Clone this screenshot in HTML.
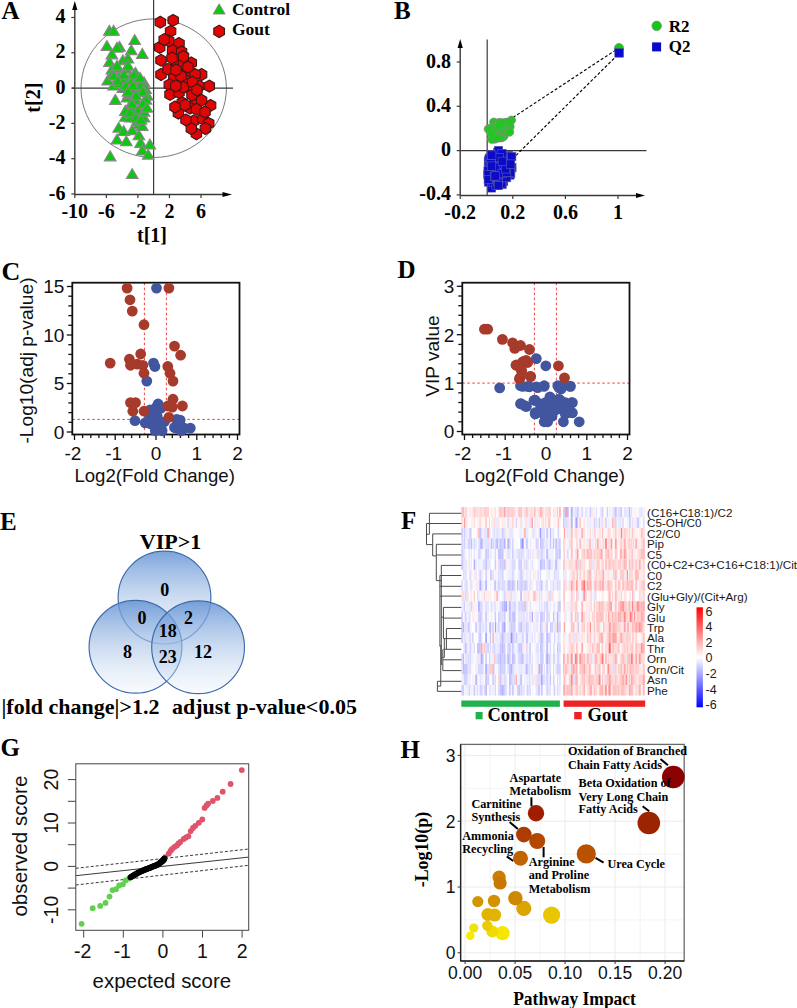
<!DOCTYPE html>
<html><head><meta charset="utf-8"><style>
html,body{margin:0;padding:0;background:#fff;}
svg{display:block;}
</style></head><body>
<svg width="797" height="1008" viewBox="0 0 797 1008">
<rect width="797" height="1008" fill="#fff"/>
<text x="1.50" y="18.60" font-family='"Liberation Serif", serif' font-size="25" font-weight="bold" text-anchor="start" fill="#000" >A</text>
<ellipse cx="153.7" cy="88.2" rx="72.7" ry="69.3" fill="none" stroke="#7a7a7a" stroke-width="1"/>
<line x1="74.8" y1="8" x2="74.8" y2="194.5" stroke="#3a3a3a" stroke-width="1.4"/>
<polygon points="72.2,10 77.39999999999999,10 74.8,1" fill="#000"/>
<line x1="74.8" y1="194.5" x2="225" y2="194.5" stroke="#3a3a3a" stroke-width="1.4"/>
<polygon points="222.5,191.9 222.5,197.1 232,194.5" fill="#000"/>
<line x1="153.6" y1="0" x2="153.6" y2="194.5" stroke="#3a3a3a" stroke-width="1.2"/>
<line x1="72" y1="88.2" x2="233" y2="88.2" stroke="#3a3a3a" stroke-width="1.2"/>
<line x1="71.3" y1="17.5" x2="74.8" y2="17.5" stroke="#3a3a3a" stroke-width="1.2"/>
<text x="65.50" y="23.00" font-family='"Liberation Serif", serif' font-size="20" font-weight="bold" text-anchor="end" fill="#000" >4</text>
<line x1="71.3" y1="52.8" x2="74.8" y2="52.8" stroke="#3a3a3a" stroke-width="1.2"/>
<text x="65.50" y="58.30" font-family='"Liberation Serif", serif' font-size="20" font-weight="bold" text-anchor="end" fill="#000" >2</text>
<line x1="71.3" y1="88.1" x2="74.8" y2="88.1" stroke="#3a3a3a" stroke-width="1.2"/>
<text x="65.50" y="93.60" font-family='"Liberation Serif", serif' font-size="20" font-weight="bold" text-anchor="end" fill="#000" >0</text>
<line x1="71.3" y1="123.39999999999999" x2="74.8" y2="123.39999999999999" stroke="#3a3a3a" stroke-width="1.2"/>
<text x="65.50" y="128.90" font-family='"Liberation Serif", serif' font-size="20" font-weight="bold" text-anchor="end" fill="#000" >-2</text>
<line x1="71.3" y1="158.7" x2="74.8" y2="158.7" stroke="#3a3a3a" stroke-width="1.2"/>
<text x="65.50" y="164.20" font-family='"Liberation Serif", serif' font-size="20" font-weight="bold" text-anchor="end" fill="#000" >-4</text>
<line x1="71.3" y1="194.0" x2="74.8" y2="194.0" stroke="#3a3a3a" stroke-width="1.2"/>
<text x="65.50" y="199.50" font-family='"Liberation Serif", serif' font-size="20" font-weight="bold" text-anchor="end" fill="#000" >-6</text>
<line x1="74.8" y1="194.5" x2="74.8" y2="198.0" stroke="#3a3a3a" stroke-width="1.2"/>
<text x="74.80" y="217.50" font-family='"Liberation Serif", serif' font-size="20" font-weight="bold" text-anchor="middle" fill="#000" >-10</text>
<line x1="106.35" y1="194.5" x2="106.35" y2="198.0" stroke="#3a3a3a" stroke-width="1.2"/>
<text x="106.35" y="217.50" font-family='"Liberation Serif", serif' font-size="20" font-weight="bold" text-anchor="middle" fill="#000" >-6</text>
<line x1="137.9" y1="194.5" x2="137.9" y2="198.0" stroke="#3a3a3a" stroke-width="1.2"/>
<text x="137.90" y="217.50" font-family='"Liberation Serif", serif' font-size="20" font-weight="bold" text-anchor="middle" fill="#000" >-2</text>
<line x1="169.45" y1="194.5" x2="169.45" y2="198.0" stroke="#3a3a3a" stroke-width="1.2"/>
<text x="169.45" y="217.50" font-family='"Liberation Serif", serif' font-size="20" font-weight="bold" text-anchor="middle" fill="#000" >2</text>
<line x1="201.0" y1="194.5" x2="201.0" y2="198.0" stroke="#3a3a3a" stroke-width="1.2"/>
<text x="201.00" y="217.50" font-family='"Liberation Serif", serif' font-size="20" font-weight="bold" text-anchor="middle" fill="#000" >6</text>
<text x="152.00" y="242.00" font-family='"Liberation Serif", serif' font-size="20" font-weight="bold" text-anchor="middle" fill="#000" >t[1]</text>
<text x="0" y="0" transform="translate(39.5,97.7) rotate(-90)" font-family='"Liberation Serif", serif' font-size="20" font-weight="bold" text-anchor="middle">t[2]</text>
<polygon points="103.6,35.2 115.2,35.2 109.4,25.4" fill="#0cc80c" stroke="#878787" stroke-width="1.15"/>
<polygon points="107.8,35.2 119.4,35.2 113.6,25.4" fill="#0cc80c" stroke="#878787" stroke-width="1.15"/>
<polygon points="101.1,50.4 112.7,50.4 106.9,40.6" fill="#0cc80c" stroke="#878787" stroke-width="1.15"/>
<polygon points="113.7,51.2 125.3,51.2 119.5,41.4" fill="#0cc80c" stroke="#878787" stroke-width="1.15"/>
<polygon points="111.2,52.1 122.8,52.1 117.0,42.3" fill="#0cc80c" stroke="#878787" stroke-width="1.15"/>
<polygon points="128.9,44.5 140.5,44.5 134.7,34.7" fill="#0cc80c" stroke="#878787" stroke-width="1.15"/>
<polygon points="125.5,54.6 137.1,54.6 131.3,44.8" fill="#0cc80c" stroke="#878787" stroke-width="1.15"/>
<polygon points="136.5,58.3 148.1,58.3 142.3,48.5" fill="#0cc80c" stroke="#878787" stroke-width="1.15"/>
<polygon points="106.1,58.8 117.7,58.8 111.9,49.0" fill="#0cc80c" stroke="#878787" stroke-width="1.15"/>
<polygon points="103.6,66.4 115.2,66.4 109.4,56.6" fill="#0cc80c" stroke="#878787" stroke-width="1.15"/>
<polygon points="117.1,64.7 128.7,64.7 122.9,54.9" fill="#0cc80c" stroke="#878787" stroke-width="1.15"/>
<polygon points="122.1,63.0 133.7,63.0 127.9,53.2" fill="#0cc80c" stroke="#878787" stroke-width="1.15"/>
<polygon points="106.1,74.0 117.7,74.0 111.9,64.2" fill="#0cc80c" stroke="#878787" stroke-width="1.15"/>
<polygon points="111.2,72.3 122.8,72.3 117.0,62.5" fill="#0cc80c" stroke="#878787" stroke-width="1.15"/>
<polygon points="120.5,73.1 132.1,73.1 126.3,63.3" fill="#0cc80c" stroke="#878787" stroke-width="1.15"/>
<polygon points="129.7,77.3 141.3,77.3 135.5,67.5" fill="#0cc80c" stroke="#878787" stroke-width="1.15"/>
<polygon points="106.1,79.0 117.7,79.0 111.9,69.2" fill="#0cc80c" stroke="#878787" stroke-width="1.15"/>
<polygon points="112.9,81.6 124.5,81.6 118.7,71.8" fill="#0cc80c" stroke="#878787" stroke-width="1.15"/>
<polygon points="124.7,81.6 136.3,81.6 130.5,71.8" fill="#0cc80c" stroke="#878787" stroke-width="1.15"/>
<polygon points="107.8,90.0 119.4,90.0 113.6,80.2" fill="#0cc80c" stroke="#878787" stroke-width="1.15"/>
<polygon points="117.1,92.5 128.7,92.5 122.9,82.7" fill="#0cc80c" stroke="#878787" stroke-width="1.15"/>
<polygon points="126.4,93.4 138.0,93.4 132.2,83.6" fill="#0cc80c" stroke="#878787" stroke-width="1.15"/>
<polygon points="138.2,86.6 149.8,86.6 144.0,76.8" fill="#0cc80c" stroke="#878787" stroke-width="1.15"/>
<polygon points="139.8,93.4 151.4,93.4 145.6,83.6" fill="#0cc80c" stroke="#878787" stroke-width="1.15"/>
<polygon points="141.5,100.1 153.1,100.1 147.3,90.3" fill="#0cc80c" stroke="#878787" stroke-width="1.15"/>
<polygon points="133.1,96.7 144.7,96.7 138.9,86.9" fill="#0cc80c" stroke="#878787" stroke-width="1.15"/>
<polygon points="109.5,104.3 121.1,104.3 115.3,94.5" fill="#0cc80c" stroke="#878787" stroke-width="1.15"/>
<polygon points="121.3,101.8 132.9,101.8 127.1,92.0" fill="#0cc80c" stroke="#878787" stroke-width="1.15"/>
<polygon points="129.7,104.3 141.3,104.3 135.5,94.5" fill="#0cc80c" stroke="#878787" stroke-width="1.15"/>
<polygon points="134.8,111.9 146.4,111.9 140.6,102.1" fill="#0cc80c" stroke="#878787" stroke-width="1.15"/>
<polygon points="123.0,111.9 134.6,111.9 128.8,102.1" fill="#0cc80c" stroke="#878787" stroke-width="1.15"/>
<polygon points="119.6,121.2 131.2,121.2 125.4,111.4" fill="#0cc80c" stroke="#878787" stroke-width="1.15"/>
<polygon points="124.7,122.0 136.3,122.0 130.5,112.2" fill="#0cc80c" stroke="#878787" stroke-width="1.15"/>
<polygon points="133.9,119.5 145.5,119.5 139.7,109.7" fill="#0cc80c" stroke="#878787" stroke-width="1.15"/>
<polygon points="138.2,122.0 149.8,122.0 144.0,112.2" fill="#0cc80c" stroke="#878787" stroke-width="1.15"/>
<polygon points="133.1,128.8 144.7,128.8 138.9,119.0" fill="#0cc80c" stroke="#878787" stroke-width="1.15"/>
<polygon points="112.9,132.1 124.5,132.1 118.7,122.3" fill="#0cc80c" stroke="#878787" stroke-width="1.15"/>
<polygon points="117.9,135.5 129.5,135.5 123.7,125.7" fill="#0cc80c" stroke="#878787" stroke-width="1.15"/>
<polygon points="126.4,134.7 138.0,134.7 132.2,124.9" fill="#0cc80c" stroke="#878787" stroke-width="1.15"/>
<polygon points="111.2,143.9 122.8,143.9 117.0,134.1" fill="#0cc80c" stroke="#878787" stroke-width="1.15"/>
<polygon points="120.5,145.6 132.1,145.6 126.3,135.8" fill="#0cc80c" stroke="#878787" stroke-width="1.15"/>
<polygon points="133.1,139.7 144.7,139.7 138.9,129.9" fill="#0cc80c" stroke="#878787" stroke-width="1.15"/>
<polygon points="134.8,147.3 146.4,147.3 140.6,137.5" fill="#0cc80c" stroke="#878787" stroke-width="1.15"/>
<polygon points="144.1,149.0 155.7,149.0 149.9,139.2" fill="#0cc80c" stroke="#878787" stroke-width="1.15"/>
<polygon points="136.5,154.9 148.1,154.9 142.3,145.1" fill="#0cc80c" stroke="#878787" stroke-width="1.15"/>
<polygon points="142.4,159.1 154.0,159.1 148.2,149.3" fill="#0cc80c" stroke="#878787" stroke-width="1.15"/>
<polygon points="104.4,160.8 116.0,160.8 110.2,151.0" fill="#0cc80c" stroke="#878787" stroke-width="1.15"/>
<polygon points="126.4,178.5 138.0,178.5 132.2,168.7" fill="#0cc80c" stroke="#878787" stroke-width="1.15"/>
<polygon points="117.9,86.6 129.5,86.6 123.7,76.8" fill="#0cc80c" stroke="#878787" stroke-width="1.15"/>
<polygon points="131.4,90.0 143.0,90.0 137.2,80.2" fill="#0cc80c" stroke="#878787" stroke-width="1.15"/>
<polygon points="113.7,87.5 125.3,87.5 119.5,77.7" fill="#0cc80c" stroke="#878787" stroke-width="1.15"/>
<polygon points="123.0,98.4 134.6,98.4 128.8,88.6" fill="#0cc80c" stroke="#878787" stroke-width="1.15"/>
<polygon points="128.0,113.6 139.6,113.6 133.8,103.8" fill="#0cc80c" stroke="#878787" stroke-width="1.15"/>
<polygon points="119.6,115.3 131.2,115.3 125.4,105.5" fill="#0cc80c" stroke="#878787" stroke-width="1.15"/>
<polygon points="131.4,125.4 143.0,125.4 137.2,115.6" fill="#0cc80c" stroke="#878787" stroke-width="1.15"/>
<polygon points="136.5,130.5 148.1,130.5 142.3,120.7" fill="#0cc80c" stroke="#878787" stroke-width="1.15"/>
<polygon points="101.9,84.9 113.5,84.9 107.7,75.1" fill="#0cc80c" stroke="#878787" stroke-width="1.15"/>
<polygon points="107.8,79.9 119.4,79.9 113.6,70.1" fill="#0cc80c" stroke="#878787" stroke-width="1.15"/>
<polygon points="126.4,84.9 138.0,84.9 132.2,75.1" fill="#0cc80c" stroke="#878787" stroke-width="1.15"/>
<polygon points="134.8,90.0 146.4,90.0 140.6,80.2" fill="#0cc80c" stroke="#878787" stroke-width="1.15"/>
<polygon points="111.2,70.1 122.8,70.1 117.0,60.3" fill="#0cc80c" stroke="#878787" stroke-width="1.15"/>
<polygon points="122.2,70.1 133.8,70.1 128.0,60.3" fill="#0cc80c" stroke="#878787" stroke-width="1.15"/>
<polygon points="128.2,79.1 139.8,79.1 134.0,69.3" fill="#0cc80c" stroke="#878787" stroke-width="1.15"/>
<polygon points="134.2,82.1 145.8,82.1 140.0,72.3" fill="#0cc80c" stroke="#878787" stroke-width="1.15"/>
<polygon points="118.2,79.1 129.8,79.1 124.0,69.3" fill="#0cc80c" stroke="#878787" stroke-width="1.15"/>
<polygon points="112.2,85.1 123.8,85.1 118.0,75.3" fill="#0cc80c" stroke="#878787" stroke-width="1.15"/>
<polygon points="120.2,90.1 131.8,90.1 126.0,80.3" fill="#0cc80c" stroke="#878787" stroke-width="1.15"/>
<polygon points="127.2,90.1 138.8,90.1 133.0,80.3" fill="#0cc80c" stroke="#878787" stroke-width="1.15"/>
<polygon points="137.2,96.1 148.8,96.1 143.0,86.3" fill="#0cc80c" stroke="#878787" stroke-width="1.15"/>
<polygon points="140.2,104.1 151.8,104.1 146.0,94.3" fill="#0cc80c" stroke="#878787" stroke-width="1.15"/>
<polygon points="122.2,96.1 133.8,96.1 128.0,86.3" fill="#0cc80c" stroke="#878787" stroke-width="1.15"/>
<polygon points="130.2,100.1 141.8,100.1 136.0,90.3" fill="#0cc80c" stroke="#878787" stroke-width="1.15"/>
<polygon points="137.2,108.1 148.8,108.1 143.0,98.3" fill="#0cc80c" stroke="#878787" stroke-width="1.15"/>
<polygon points="126.2,108.1 137.8,108.1 132.0,98.3" fill="#0cc80c" stroke="#878787" stroke-width="1.15"/>
<polygon points="132.2,115.1 143.8,115.1 138.0,105.3" fill="#0cc80c" stroke="#878787" stroke-width="1.15"/>
<polygon points="138.2,116.1 149.8,116.1 144.0,106.3" fill="#0cc80c" stroke="#878787" stroke-width="1.15"/>
<polygon points="124.2,117.1 135.8,117.1 130.0,107.3" fill="#0cc80c" stroke="#878787" stroke-width="1.15"/>
<polygon points="130.2,122.1 141.8,122.1 136.0,112.3" fill="#0cc80c" stroke="#878787" stroke-width="1.15"/>
<polygon points="135.2,124.1 146.8,124.1 141.0,114.3" fill="#0cc80c" stroke="#878787" stroke-width="1.15"/>
<polygon points="141.2,112.1 152.8,112.1 147.0,102.3" fill="#0cc80c" stroke="#878787" stroke-width="1.15"/>
<polygon points="160.3,16.2 165.5,19.2 165.5,25.2 160.3,28.1 155.1,25.2 155.1,19.2" fill="#e00606" stroke="#3c1818" stroke-width="1.1"/>
<polygon points="173.2,14.4 178.4,17.3 178.4,23.3 173.2,26.2 168.0,23.3 168.0,17.3" fill="#e00606" stroke="#3c1818" stroke-width="1.1"/>
<polygon points="170.6,25.4 175.8,28.3 175.8,34.3 170.6,37.2 165.4,34.3 165.4,28.3" fill="#e00606" stroke="#3c1818" stroke-width="1.1"/>
<polygon points="168.7,34.9 173.9,37.9 173.9,43.9 168.7,46.9 163.5,43.9 163.5,37.9" fill="#e00606" stroke="#3c1818" stroke-width="1.1"/>
<polygon points="159.7,41.4 164.9,44.4 164.9,50.4 159.7,53.4 154.5,50.4 154.5,44.4" fill="#e00606" stroke="#3c1818" stroke-width="1.1"/>
<polygon points="179.0,37.5 184.2,40.5 184.2,46.5 179.0,49.5 173.8,46.5 173.8,40.5" fill="#e00606" stroke="#3c1818" stroke-width="1.1"/>
<polygon points="172.6,44.6 177.8,47.6 177.8,53.6 172.6,56.6 167.4,53.6 167.4,47.6" fill="#e00606" stroke="#3c1818" stroke-width="1.1"/>
<polygon points="181.6,45.9 186.8,48.9 186.8,54.9 181.6,57.9 176.4,54.9 176.4,48.9" fill="#e00606" stroke="#3c1818" stroke-width="1.1"/>
<polygon points="161.0,54.3 166.2,57.3 166.2,63.3 161.0,66.2 155.8,63.3 155.8,57.3" fill="#e00606" stroke="#3c1818" stroke-width="1.1"/>
<polygon points="175.8,55.6 181.0,58.6 181.0,64.6 175.8,67.5 170.6,64.6 170.6,58.6" fill="#e00606" stroke="#3c1818" stroke-width="1.1"/>
<polygon points="191.3,56.9 196.5,59.9 196.5,65.9 191.3,68.8 186.1,65.9 186.1,59.9" fill="#e00606" stroke="#3c1818" stroke-width="1.1"/>
<polygon points="161.0,68.5 166.2,71.5 166.2,77.5 161.0,80.5 155.8,77.5 155.8,71.5" fill="#e00606" stroke="#3c1818" stroke-width="1.1"/>
<polygon points="168.0,63.3 173.2,66.3 173.2,72.3 168.0,75.2 162.8,72.3 162.8,66.3" fill="#e00606" stroke="#3c1818" stroke-width="1.1"/>
<polygon points="179.7,63.3 184.9,66.3 184.9,72.3 179.7,75.2 174.5,72.3 174.5,66.3" fill="#e00606" stroke="#3c1818" stroke-width="1.1"/>
<polygon points="187.4,67.2 192.6,70.2 192.6,76.2 187.4,79.2 182.2,76.2 182.2,70.2" fill="#e00606" stroke="#3c1818" stroke-width="1.1"/>
<polygon points="201.6,68.5 206.8,71.5 206.8,77.5 201.6,80.5 196.4,77.5 196.4,71.5" fill="#e00606" stroke="#3c1818" stroke-width="1.1"/>
<polygon points="173.8,71.8 179.0,74.7 179.0,80.7 173.8,83.7 168.6,80.7 168.6,74.7" fill="#e00606" stroke="#3c1818" stroke-width="1.1"/>
<polygon points="186.7,75.0 191.9,77.9 191.9,83.9 186.7,86.9 181.5,83.9 181.5,77.9" fill="#e00606" stroke="#3c1818" stroke-width="1.1"/>
<polygon points="195.1,68.5 200.3,71.5 200.3,77.5 195.1,80.5 189.9,77.5 189.9,71.5" fill="#e00606" stroke="#3c1818" stroke-width="1.1"/>
<polygon points="169.3,78.8 174.5,81.8 174.5,87.8 169.3,90.8 164.1,87.8 164.1,81.8" fill="#e00606" stroke="#3c1818" stroke-width="1.1"/>
<polygon points="199.0,80.1 204.2,83.1 204.2,89.1 199.0,92.0 193.8,89.1 193.8,83.1" fill="#e00606" stroke="#3c1818" stroke-width="1.1"/>
<polygon points="209.3,80.1 214.5,83.1 214.5,89.1 209.3,92.0 204.1,89.1 204.1,83.1" fill="#e00606" stroke="#3c1818" stroke-width="1.1"/>
<polygon points="189.3,82.6 194.5,85.6 194.5,91.6 189.3,94.5 184.1,91.6 184.1,85.6" fill="#e00606" stroke="#3c1818" stroke-width="1.1"/>
<polygon points="170.0,88.5 175.2,91.4 175.2,97.4 170.0,100.4 164.8,97.4 164.8,91.4" fill="#e00606" stroke="#3c1818" stroke-width="1.1"/>
<polygon points="179.0,86.5 184.2,89.5 184.2,95.5 179.0,98.5 173.8,95.5 173.8,89.5" fill="#e00606" stroke="#3c1818" stroke-width="1.1"/>
<polygon points="195.1,93.0 200.3,96.0 200.3,102.0 195.1,105.0 189.9,102.0 189.9,96.0" fill="#e00606" stroke="#3c1818" stroke-width="1.1"/>
<polygon points="182.2,96.8 187.4,99.8 187.4,105.8 182.2,108.8 177.0,105.8 177.0,99.8" fill="#e00606" stroke="#3c1818" stroke-width="1.1"/>
<polygon points="210.6,99.5 215.8,102.4 215.8,108.4 210.6,111.4 205.4,108.4 205.4,102.4" fill="#e00606" stroke="#3c1818" stroke-width="1.1"/>
<polygon points="190.0,102.0 195.2,105.0 195.2,111.0 190.0,114.0 184.8,111.0 184.8,105.0" fill="#e00606" stroke="#3c1818" stroke-width="1.1"/>
<polygon points="178.4,107.1 183.6,110.1 183.6,116.1 178.4,119.0 173.2,116.1 173.2,110.1" fill="#e00606" stroke="#3c1818" stroke-width="1.1"/>
<polygon points="193.8,115.0 199.0,117.9 199.0,123.9 193.8,126.9 188.6,123.9 188.6,117.9" fill="#e00606" stroke="#3c1818" stroke-width="1.1"/>
<polygon points="202.9,113.0 208.1,115.9 208.1,121.9 202.9,124.9 197.7,121.9 197.7,115.9" fill="#e00606" stroke="#3c1818" stroke-width="1.1"/>
<polygon points="208.7,117.5 213.9,120.4 213.9,126.4 208.7,129.3 203.5,126.4 203.5,120.4" fill="#e00606" stroke="#3c1818" stroke-width="1.1"/>
<polygon points="205.4,122.6 210.6,125.6 210.6,131.6 205.4,134.5 200.2,131.6 200.2,125.6" fill="#e00606" stroke="#3c1818" stroke-width="1.1"/>
<polygon points="196.4,127.9 201.6,130.8 201.6,136.8 196.4,139.8 191.2,136.8 191.2,130.8" fill="#e00606" stroke="#3c1818" stroke-width="1.1"/>
<polygon points="191.3,122.6 196.5,125.6 196.5,131.6 191.3,134.5 186.1,131.6 186.1,125.6" fill="#e00606" stroke="#3c1818" stroke-width="1.1"/>
<polygon points="183.5,81.3 188.7,84.3 188.7,90.3 183.5,93.2 178.3,90.3 178.3,84.3" fill="#e00606" stroke="#3c1818" stroke-width="1.1"/>
<polygon points="175.8,80.1 181.0,83.1 181.0,89.1 175.8,92.0 170.6,89.1 170.6,83.1" fill="#e00606" stroke="#3c1818" stroke-width="1.1"/>
<polygon points="192.5,76.2 197.7,79.2 197.7,85.2 192.5,88.2 187.3,85.2 187.3,79.2" fill="#e00606" stroke="#3c1818" stroke-width="1.1"/>
<polygon points="183.5,58.1 188.7,61.1 188.7,67.1 183.5,70.0 178.3,67.1 178.3,61.1" fill="#e00606" stroke="#3c1818" stroke-width="1.1"/>
<polygon points="164.2,33.6 169.4,36.6 169.4,42.6 164.2,45.6 159.0,42.6 159.0,36.6" fill="#e00606" stroke="#3c1818" stroke-width="1.1"/>
<polygon points="183.5,50.4 188.7,53.4 188.7,59.4 183.5,62.4 178.3,59.4 178.3,53.4" fill="#e00606" stroke="#3c1818" stroke-width="1.1"/>
<polygon points="201.6,94.2 206.8,97.2 206.8,103.2 201.6,106.2 196.4,103.2 196.4,97.2" fill="#e00606" stroke="#3c1818" stroke-width="1.1"/>
<polygon points="196.4,103.3 201.6,106.3 201.6,112.3 196.4,115.2 191.2,112.3 191.2,106.3" fill="#e00606" stroke="#3c1818" stroke-width="1.1"/>
<polygon points="181.0,70.0 186.2,73.0 186.2,79.0 181.0,82.0 175.8,79.0 175.8,73.0" fill="#e00606" stroke="#3c1818" stroke-width="1.1"/>
<polygon points="176.0,64.0 181.2,67.0 181.2,73.0 176.0,76.0 170.8,73.0 170.8,67.0" fill="#e00606" stroke="#3c1818" stroke-width="1.1"/>
<polygon points="192.0,89.0 197.2,92.0 197.2,98.0 192.0,101.0 186.8,98.0 186.8,92.0" fill="#e00606" stroke="#3c1818" stroke-width="1.1"/>
<polygon points="185.0,99.0 190.2,102.0 190.2,108.0 185.0,111.0 179.8,108.0 179.8,102.0" fill="#e00606" stroke="#3c1818" stroke-width="1.1"/>
<polygon points="175.0,101.0 180.2,104.0 180.2,110.0 175.0,113.0 169.8,110.0 169.8,104.0" fill="#e00606" stroke="#3c1818" stroke-width="1.1"/>
<polygon points="205.0,106.0 210.2,109.0 210.2,115.0 205.0,118.0 199.8,115.0 199.8,109.0" fill="#e00606" stroke="#3c1818" stroke-width="1.1"/>
<polygon points="186.0,114.0 191.2,117.0 191.2,123.0 186.0,126.0 180.8,123.0 180.8,117.0" fill="#e00606" stroke="#3c1818" stroke-width="1.1"/>
<polygon points="172.0,52.0 177.2,55.0 177.2,61.0 172.0,64.0 166.8,61.0 166.8,55.0" fill="#e00606" stroke="#3c1818" stroke-width="1.1"/>
<polygon points="188.0,61.0 193.2,64.0 193.2,70.0 188.0,73.0 182.8,70.0 182.8,64.0" fill="#e00606" stroke="#3c1818" stroke-width="1.1"/>
<polygon points="197.0,84.0 202.2,87.0 202.2,93.0 197.0,96.0 191.8,93.0 191.8,87.0" fill="#e00606" stroke="#3c1818" stroke-width="1.1"/>
<polygon points="213.2,14 225.1,14 219.15,3.8" fill="#11c811" stroke="#858585" stroke-width="0.9"/>
<polygon points="219.2,25.1 224.5,28.2 224.5,34.4 219.2,37.5 213.8,34.4 213.8,28.2" fill="#e00606" stroke="#3c1818" stroke-width="1.1"/>
<text x="232.00" y="15.30" font-family='"Liberation Serif", serif' font-size="17.5" font-weight="bold" text-anchor="start" fill="#000" >Control</text>
<text x="232.00" y="35.10" font-family='"Liberation Serif", serif' font-size="17.5" font-weight="bold" text-anchor="start" fill="#000" >Gout</text>
<text x="394.00" y="18.60" font-family='"Liberation Serif", serif' font-size="25" font-weight="bold" text-anchor="start" fill="#000" >B</text>
<line x1="460.2" y1="46" x2="460.2" y2="195.5" stroke="#3a3a3a" stroke-width="1.4"/>
<polygon points="457.59999999999997,48 462.8,48 460.2,39" fill="#000"/>
<line x1="460.2" y1="195.5" x2="640" y2="195.5" stroke="#3a3a3a" stroke-width="1.4"/>
<polygon points="636,192.9 636,198.1 645,195.5" fill="#000"/>
<line x1="487.2" y1="39.5" x2="487.2" y2="195.5" stroke="#3a3a3a" stroke-width="1.2"/>
<line x1="460.2" y1="150.6" x2="646.5" y2="150.6" stroke="#3a3a3a" stroke-width="1.2"/>
<line x1="456.7" y1="62.0" x2="460.2" y2="62.0" stroke="#3a3a3a" stroke-width="1.2"/>
<text x="451.00" y="67.50" font-family='"Liberation Serif", serif' font-size="20" font-weight="bold" text-anchor="end" fill="#000" >0.8</text>
<line x1="456.7" y1="106.3" x2="460.2" y2="106.3" stroke="#3a3a3a" stroke-width="1.2"/>
<text x="451.00" y="111.80" font-family='"Liberation Serif", serif' font-size="20" font-weight="bold" text-anchor="end" fill="#000" >0.4</text>
<line x1="456.7" y1="150.6" x2="460.2" y2="150.6" stroke="#3a3a3a" stroke-width="1.2"/>
<text x="451.00" y="156.10" font-family='"Liberation Serif", serif' font-size="20" font-weight="bold" text-anchor="end" fill="#000" >0</text>
<line x1="456.7" y1="194.89999999999998" x2="460.2" y2="194.89999999999998" stroke="#3a3a3a" stroke-width="1.2"/>
<text x="451.00" y="200.40" font-family='"Liberation Serif", serif' font-size="20" font-weight="bold" text-anchor="end" fill="#000" >-0.4</text>
<line x1="460.2" y1="195.5" x2="460.2" y2="199.0" stroke="#3a3a3a" stroke-width="1.2"/>
<text x="460.20" y="218.50" font-family='"Liberation Serif", serif' font-size="20" font-weight="bold" text-anchor="middle" fill="#000" >-0.2</text>
<line x1="512.8" y1="195.5" x2="512.8" y2="199.0" stroke="#3a3a3a" stroke-width="1.2"/>
<text x="512.80" y="218.50" font-family='"Liberation Serif", serif' font-size="20" font-weight="bold" text-anchor="middle" fill="#000" >0.2</text>
<line x1="565.4" y1="195.5" x2="565.4" y2="199.0" stroke="#3a3a3a" stroke-width="1.2"/>
<text x="565.40" y="218.50" font-family='"Liberation Serif", serif' font-size="20" font-weight="bold" text-anchor="middle" fill="#000" >0.6</text>
<line x1="618.0" y1="195.5" x2="618.0" y2="199.0" stroke="#3a3a3a" stroke-width="1.2"/>
<text x="618.00" y="218.50" font-family='"Liberation Serif", serif' font-size="20" font-weight="bold" text-anchor="middle" fill="#000" >1</text>
<line x1="513" y1="117.5" x2="615" y2="50.5" stroke="#000" stroke-width="1.15" stroke-dasharray="3,2"/>
<line x1="516" y1="155.4" x2="615.5" y2="57" stroke="#000" stroke-width="1.15" stroke-dasharray="3,2"/>
<rect x="494.5" y="167.3" width="8.4" height="8.4" fill="#0a0ac8" stroke="#5a5aa8" stroke-width="0.6"/>
<rect x="507.7" y="163.4" width="8.4" height="8.4" fill="#0a0ac8" stroke="#5a5aa8" stroke-width="0.6"/>
<rect x="496.0" y="168.5" width="8.4" height="8.4" fill="#0a0ac8" stroke="#5a5aa8" stroke-width="0.6"/>
<rect x="487.0" y="165.3" width="8.4" height="8.4" fill="#0a0ac8" stroke="#5a5aa8" stroke-width="0.6"/>
<rect x="499.4" y="177.1" width="8.4" height="8.4" fill="#0a0ac8" stroke="#5a5aa8" stroke-width="0.6"/>
<rect x="484.4" y="156.5" width="8.4" height="8.4" fill="#0a0ac8" stroke="#5a5aa8" stroke-width="0.6"/>
<rect x="484.3" y="177.8" width="8.4" height="8.4" fill="#0a0ac8" stroke="#5a5aa8" stroke-width="0.6"/>
<rect x="500.1" y="169.7" width="8.4" height="8.4" fill="#0a0ac8" stroke="#5a5aa8" stroke-width="0.6"/>
<rect x="487.1" y="154.0" width="8.4" height="8.4" fill="#0a0ac8" stroke="#5a5aa8" stroke-width="0.6"/>
<rect x="494.1" y="179.2" width="8.4" height="8.4" fill="#0a0ac8" stroke="#5a5aa8" stroke-width="0.6"/>
<rect x="496.3" y="170.7" width="8.4" height="8.4" fill="#0a0ac8" stroke="#5a5aa8" stroke-width="0.6"/>
<rect x="495.8" y="171.6" width="8.4" height="8.4" fill="#0a0ac8" stroke="#5a5aa8" stroke-width="0.6"/>
<rect x="494.6" y="155.5" width="8.4" height="8.4" fill="#0a0ac8" stroke="#5a5aa8" stroke-width="0.6"/>
<rect x="490.6" y="153.4" width="8.4" height="8.4" fill="#0a0ac8" stroke="#5a5aa8" stroke-width="0.6"/>
<rect x="503.3" y="160.6" width="8.4" height="8.4" fill="#0a0ac8" stroke="#5a5aa8" stroke-width="0.6"/>
<rect x="505.5" y="160.0" width="8.4" height="8.4" fill="#0a0ac8" stroke="#5a5aa8" stroke-width="0.6"/>
<rect x="507.3" y="163.5" width="8.4" height="8.4" fill="#0a0ac8" stroke="#5a5aa8" stroke-width="0.6"/>
<rect x="483.8" y="170.2" width="8.4" height="8.4" fill="#0a0ac8" stroke="#5a5aa8" stroke-width="0.6"/>
<rect x="503.6" y="155.1" width="8.4" height="8.4" fill="#0a0ac8" stroke="#5a5aa8" stroke-width="0.6"/>
<rect x="484.2" y="157.8" width="8.4" height="8.4" fill="#0a0ac8" stroke="#5a5aa8" stroke-width="0.6"/>
<rect x="485.1" y="154.1" width="8.4" height="8.4" fill="#0a0ac8" stroke="#5a5aa8" stroke-width="0.6"/>
<rect x="504.1" y="151.3" width="8.4" height="8.4" fill="#0a0ac8" stroke="#5a5aa8" stroke-width="0.6"/>
<rect x="497.5" y="162.6" width="8.4" height="8.4" fill="#0a0ac8" stroke="#5a5aa8" stroke-width="0.6"/>
<rect x="487.1" y="174.5" width="8.4" height="8.4" fill="#0a0ac8" stroke="#5a5aa8" stroke-width="0.6"/>
<rect x="485.5" y="170.8" width="8.4" height="8.4" fill="#0a0ac8" stroke="#5a5aa8" stroke-width="0.6"/>
<rect x="485.1" y="161.5" width="8.4" height="8.4" fill="#0a0ac8" stroke="#5a5aa8" stroke-width="0.6"/>
<rect x="487.8" y="155.1" width="8.4" height="8.4" fill="#0a0ac8" stroke="#5a5aa8" stroke-width="0.6"/>
<rect x="490.3" y="181.0" width="8.4" height="8.4" fill="#0a0ac8" stroke="#5a5aa8" stroke-width="0.6"/>
<rect x="487.7" y="160.4" width="8.4" height="8.4" fill="#0a0ac8" stroke="#5a5aa8" stroke-width="0.6"/>
<rect x="505.7" y="170.8" width="8.4" height="8.4" fill="#0a0ac8" stroke="#5a5aa8" stroke-width="0.6"/>
<rect x="487.8" y="154.6" width="8.4" height="8.4" fill="#0a0ac8" stroke="#5a5aa8" stroke-width="0.6"/>
<rect x="503.4" y="157.6" width="8.4" height="8.4" fill="#0a0ac8" stroke="#5a5aa8" stroke-width="0.6"/>
<rect x="484.3" y="168.3" width="8.4" height="8.4" fill="#0a0ac8" stroke="#5a5aa8" stroke-width="0.6"/>
<rect x="488.6" y="169.1" width="8.4" height="8.4" fill="#0a0ac8" stroke="#5a5aa8" stroke-width="0.6"/>
<rect x="492.2" y="162.8" width="8.4" height="8.4" fill="#0a0ac8" stroke="#5a5aa8" stroke-width="0.6"/>
<rect x="497.9" y="180.2" width="8.4" height="8.4" fill="#0a0ac8" stroke="#5a5aa8" stroke-width="0.6"/>
<rect x="486.9" y="150.3" width="8.4" height="8.4" fill="#0a0ac8" stroke="#5a5aa8" stroke-width="0.6"/>
<rect x="488.8" y="151.8" width="8.4" height="8.4" fill="#0a0ac8" stroke="#5a5aa8" stroke-width="0.6"/>
<rect x="487.3" y="183.7" width="8.4" height="8.4" fill="#0a0ac8" stroke="#5a5aa8" stroke-width="0.6"/>
<rect x="506.5" y="169.1" width="8.4" height="8.4" fill="#0a0ac8" stroke="#5a5aa8" stroke-width="0.6"/>
<rect x="493.6" y="148.2" width="8.4" height="8.4" fill="#0a0ac8" stroke="#5a5aa8" stroke-width="0.6"/>
<rect x="488.5" y="173.4" width="8.4" height="8.4" fill="#0a0ac8" stroke="#5a5aa8" stroke-width="0.6"/>
<rect x="489.0" y="178.4" width="8.4" height="8.4" fill="#0a0ac8" stroke="#5a5aa8" stroke-width="0.6"/>
<rect x="498.5" y="156.1" width="8.4" height="8.4" fill="#0a0ac8" stroke="#5a5aa8" stroke-width="0.6"/>
<rect x="486.7" y="174.1" width="8.4" height="8.4" fill="#0a0ac8" stroke="#5a5aa8" stroke-width="0.6"/>
<rect x="497.5" y="179.6" width="8.4" height="8.4" fill="#0a0ac8" stroke="#5a5aa8" stroke-width="0.6"/>
<rect x="499.0" y="155.6" width="8.4" height="8.4" fill="#0a0ac8" stroke="#5a5aa8" stroke-width="0.6"/>
<rect x="507.5" y="152.4" width="8.4" height="8.4" fill="#0a0ac8" stroke="#5a5aa8" stroke-width="0.6"/>
<rect x="494.3" y="146.3" width="8.4" height="8.4" fill="#0a0ac8" stroke="#5a5aa8" stroke-width="0.6"/>
<rect x="486.7" y="159.3" width="8.4" height="8.4" fill="#0a0ac8" stroke="#5a5aa8" stroke-width="0.6"/>
<rect x="497.8" y="149.3" width="8.4" height="8.4" fill="#0a0ac8" stroke="#5a5aa8" stroke-width="0.6"/>
<rect x="491.9" y="181.2" width="8.4" height="8.4" fill="#0a0ac8" stroke="#5a5aa8" stroke-width="0.6"/>
<rect x="501.2" y="168.3" width="8.4" height="8.4" fill="#0a0ac8" stroke="#5a5aa8" stroke-width="0.6"/>
<rect x="495.3" y="174.5" width="8.4" height="8.4" fill="#0a0ac8" stroke="#5a5aa8" stroke-width="0.6"/>
<rect x="483.9" y="166.7" width="8.4" height="8.4" fill="#0a0ac8" stroke="#5a5aa8" stroke-width="0.6"/>
<rect x="502.4" y="173.4" width="8.4" height="8.4" fill="#0a0ac8" stroke="#5a5aa8" stroke-width="0.6"/>
<rect x="491.7" y="172.6" width="8.4" height="8.4" fill="#0a0ac8" stroke="#5a5aa8" stroke-width="0.6"/>
<rect x="493.5" y="177.0" width="8.4" height="8.4" fill="#0a0ac8" stroke="#5a5aa8" stroke-width="0.6"/>
<rect x="506.0" y="167.9" width="8.4" height="8.4" fill="#0a0ac8" stroke="#5a5aa8" stroke-width="0.6"/>
<rect x="499.3" y="159.9" width="8.4" height="8.4" fill="#0a0ac8" stroke="#5a5aa8" stroke-width="0.6"/>
<rect x="498.1" y="169.4" width="8.4" height="8.4" fill="#0a0ac8" stroke="#5a5aa8" stroke-width="0.6"/>
<rect x="484.0" y="170.7" width="8.4" height="8.4" fill="#0a0ac8" stroke="#5a5aa8" stroke-width="0.6"/>
<rect x="502.2" y="160.1" width="8.4" height="8.4" fill="#0a0ac8" stroke="#5a5aa8" stroke-width="0.6"/>
<rect x="502.4" y="168.2" width="8.4" height="8.4" fill="#0a0ac8" stroke="#5a5aa8" stroke-width="0.6"/>
<rect x="494.1" y="179.0" width="8.4" height="8.4" fill="#0a0ac8" stroke="#5a5aa8" stroke-width="0.6"/>
<rect x="484.1" y="175.3" width="8.4" height="8.4" fill="#0a0ac8" stroke="#5a5aa8" stroke-width="0.6"/>
<rect x="495.3" y="153.5" width="8.4" height="8.4" fill="#0a0ac8" stroke="#5a5aa8" stroke-width="0.6"/>
<rect x="501.4" y="164.7" width="8.4" height="8.4" fill="#0a0ac8" stroke="#5a5aa8" stroke-width="0.6"/>
<rect x="490.2" y="172.3" width="8.4" height="8.4" fill="#0a0ac8" stroke="#5a5aa8" stroke-width="0.6"/>
<rect x="487.5" y="150.9" width="8.4" height="8.4" fill="#0a0ac8" stroke="#5a5aa8" stroke-width="0.6"/>
<rect x="494.2" y="181.3" width="8.4" height="8.4" fill="#0a0ac8" stroke="#5a5aa8" stroke-width="0.6"/>
<rect x="491.0" y="171.8" width="8.4" height="8.4" fill="#0a0ac8" stroke="#5a5aa8" stroke-width="0.6"/>
<rect x="487.4" y="161.9" width="8.4" height="8.4" fill="#0a0ac8" stroke="#5a5aa8" stroke-width="0.6"/>
<rect x="506.4" y="159.9" width="8.4" height="8.4" fill="#0a0ac8" stroke="#5a5aa8" stroke-width="0.6"/>
<rect x="498.1" y="157.1" width="8.4" height="8.4" fill="#0a0ac8" stroke="#5a5aa8" stroke-width="0.6"/>
<circle cx="489.8" cy="130.4" r="4.2" fill="#1ec81e" stroke="#8a8a8a" stroke-width="0.7"/>
<circle cx="493.8" cy="122.2" r="4.2" fill="#1ec81e" stroke="#8a8a8a" stroke-width="0.7"/>
<circle cx="498.6" cy="124.9" r="4.2" fill="#1ec81e" stroke="#8a8a8a" stroke-width="0.7"/>
<circle cx="492.0" cy="128.3" r="4.2" fill="#1ec81e" stroke="#8a8a8a" stroke-width="0.7"/>
<circle cx="503.5" cy="130.3" r="4.2" fill="#1ec81e" stroke="#8a8a8a" stroke-width="0.7"/>
<circle cx="494.8" cy="139.0" r="4.2" fill="#1ec81e" stroke="#8a8a8a" stroke-width="0.7"/>
<circle cx="505.8" cy="132.3" r="4.2" fill="#1ec81e" stroke="#8a8a8a" stroke-width="0.7"/>
<circle cx="494.7" cy="137.8" r="4.2" fill="#1ec81e" stroke="#8a8a8a" stroke-width="0.7"/>
<circle cx="509.2" cy="123.9" r="4.2" fill="#1ec81e" stroke="#8a8a8a" stroke-width="0.7"/>
<circle cx="503.6" cy="129.2" r="4.2" fill="#1ec81e" stroke="#8a8a8a" stroke-width="0.7"/>
<circle cx="503.6" cy="134.4" r="4.2" fill="#1ec81e" stroke="#8a8a8a" stroke-width="0.7"/>
<circle cx="505.2" cy="123.0" r="4.2" fill="#1ec81e" stroke="#8a8a8a" stroke-width="0.7"/>
<circle cx="499.3" cy="122.5" r="4.2" fill="#1ec81e" stroke="#8a8a8a" stroke-width="0.7"/>
<circle cx="506.0" cy="122.5" r="4.2" fill="#1ec81e" stroke="#8a8a8a" stroke-width="0.7"/>
<circle cx="493.6" cy="126.6" r="4.2" fill="#1ec81e" stroke="#8a8a8a" stroke-width="0.7"/>
<circle cx="505.5" cy="131.0" r="4.2" fill="#1ec81e" stroke="#8a8a8a" stroke-width="0.7"/>
<circle cx="503.2" cy="136.9" r="4.2" fill="#1ec81e" stroke="#8a8a8a" stroke-width="0.7"/>
<circle cx="497.0" cy="137.8" r="4.2" fill="#1ec81e" stroke="#8a8a8a" stroke-width="0.7"/>
<circle cx="511.4" cy="120.2" r="4.2" fill="#1ec81e" stroke="#8a8a8a" stroke-width="0.7"/>
<circle cx="489.6" cy="129.3" r="4.2" fill="#1ec81e" stroke="#8a8a8a" stroke-width="0.7"/>
<circle cx="496.6" cy="132.2" r="4.2" fill="#1ec81e" stroke="#8a8a8a" stroke-width="0.7"/>
<circle cx="504.2" cy="123.1" r="4.2" fill="#1ec81e" stroke="#8a8a8a" stroke-width="0.7"/>
<circle cx="504.0" cy="135.9" r="4.2" fill="#1ec81e" stroke="#8a8a8a" stroke-width="0.7"/>
<circle cx="501.0" cy="137.8" r="4.2" fill="#1ec81e" stroke="#8a8a8a" stroke-width="0.7"/>
<circle cx="510.0" cy="126.7" r="4.2" fill="#1ec81e" stroke="#8a8a8a" stroke-width="0.7"/>
<circle cx="488.3" cy="129.0" r="4.2" fill="#1ec81e" stroke="#8a8a8a" stroke-width="0.7"/>
<circle cx="501.4" cy="137.2" r="4.2" fill="#1ec81e" stroke="#8a8a8a" stroke-width="0.7"/>
<circle cx="508.4" cy="122.3" r="4.2" fill="#1ec81e" stroke="#8a8a8a" stroke-width="0.7"/>
<circle cx="495.4" cy="137.7" r="4.2" fill="#1ec81e" stroke="#8a8a8a" stroke-width="0.7"/>
<circle cx="500.5" cy="136.1" r="4.2" fill="#1ec81e" stroke="#8a8a8a" stroke-width="0.7"/>
<circle cx="492.2" cy="131.2" r="4.2" fill="#1ec81e" stroke="#8a8a8a" stroke-width="0.7"/>
<circle cx="494.1" cy="136.2" r="4.2" fill="#1ec81e" stroke="#8a8a8a" stroke-width="0.7"/>
<circle cx="503.9" cy="131.1" r="4.2" fill="#1ec81e" stroke="#8a8a8a" stroke-width="0.7"/>
<circle cx="509.6" cy="132.0" r="4.2" fill="#1ec81e" stroke="#8a8a8a" stroke-width="0.7"/>
<circle cx="494.7" cy="127.5" r="4.2" fill="#1ec81e" stroke="#8a8a8a" stroke-width="0.7"/>
<circle cx="491.8" cy="139.3" r="4.2" fill="#1ec81e" stroke="#8a8a8a" stroke-width="0.7"/>
<circle cx="502.0" cy="123.0" r="4.2" fill="#1ec81e" stroke="#8a8a8a" stroke-width="0.7"/>
<circle cx="501.0" cy="130.6" r="4.2" fill="#1ec81e" stroke="#8a8a8a" stroke-width="0.7"/>
<circle cx="497.2" cy="138.0" r="4.2" fill="#1ec81e" stroke="#8a8a8a" stroke-width="0.7"/>
<circle cx="501.8" cy="130.3" r="4.2" fill="#1ec81e" stroke="#8a8a8a" stroke-width="0.7"/>
<circle cx="501.1" cy="128.3" r="4.2" fill="#1ec81e" stroke="#8a8a8a" stroke-width="0.7"/>
<circle cx="493.5" cy="129.8" r="4.2" fill="#1ec81e" stroke="#8a8a8a" stroke-width="0.7"/>
<circle cx="489.6" cy="128.8" r="4.2" fill="#1ec81e" stroke="#8a8a8a" stroke-width="0.7"/>
<circle cx="499.3" cy="125.9" r="4.2" fill="#1ec81e" stroke="#8a8a8a" stroke-width="0.7"/>
<circle cx="491.4" cy="133.4" r="4.2" fill="#1ec81e" stroke="#8a8a8a" stroke-width="0.7"/>
<circle cx="619" cy="48" r="4.6" fill="#12c812" stroke="#8a8a8a" stroke-width="0.7"/>
<rect x="614.8" y="48.6" width="8.7" height="8.6" fill="#0a0ac8" stroke="#5050a0" stroke-width="0.6"/>
<circle cx="656.7" cy="25.9" r="4.8" fill="#12c812" stroke="#8a8a8a" stroke-width="0.7"/>
<rect x="652.1" y="42.4" width="9" height="9" fill="#0a0ac8"/>
<text x="668.70" y="32.00" font-family='"Liberation Serif", serif' font-size="17" font-weight="bold" text-anchor="start" fill="#000" >R2</text>
<text x="668.70" y="52.00" font-family='"Liberation Serif", serif' font-size="17" font-weight="bold" text-anchor="start" fill="#000" >Q2</text>
<text x="1.50" y="280.30" font-family='"Liberation Serif", serif' font-size="26" font-weight="bold" text-anchor="start" fill="#000" >C</text>
<text x="397.50" y="277.70" font-family='"Liberation Serif", serif' font-size="25" font-weight="bold" text-anchor="start" fill="#000" >D</text>
<line x1="144.4" y1="282.7" x2="144.4" y2="434.5" stroke="#f02828" stroke-width="0.9" stroke-dasharray="2.5,2.5"/>
<line x1="166.4" y1="282.7" x2="166.4" y2="434.5" stroke="#f02828" stroke-width="0.9" stroke-dasharray="2.5,2.5"/>
<line x1="72.3" y1="419.4" x2="239.5" y2="419.4" stroke="#f02828" stroke-width="0.9" stroke-dasharray="2.5,2.5"/>
<rect x="72.3" y="282.7" width="167.2" height="151.8" fill="none" stroke="#111" stroke-width="1.8"/>
<line x1="66.8" y1="432.0" x2="72.3" y2="432.0" stroke="#111" stroke-width="1.3"/>
<line x1="68.3" y1="422.3" x2="72.3" y2="422.3" stroke="#111" stroke-width="1.3"/>
<line x1="68.3" y1="412.6" x2="72.3" y2="412.6" stroke="#111" stroke-width="1.3"/>
<line x1="68.3" y1="402.9" x2="72.3" y2="402.9" stroke="#111" stroke-width="1.3"/>
<line x1="68.3" y1="393.2" x2="72.3" y2="393.2" stroke="#111" stroke-width="1.3"/>
<line x1="66.8" y1="383.5" x2="72.3" y2="383.5" stroke="#111" stroke-width="1.3"/>
<line x1="68.3" y1="373.8" x2="72.3" y2="373.8" stroke="#111" stroke-width="1.3"/>
<line x1="68.3" y1="364.1" x2="72.3" y2="364.1" stroke="#111" stroke-width="1.3"/>
<line x1="68.3" y1="354.4" x2="72.3" y2="354.4" stroke="#111" stroke-width="1.3"/>
<line x1="68.3" y1="344.7" x2="72.3" y2="344.7" stroke="#111" stroke-width="1.3"/>
<line x1="66.8" y1="335.0" x2="72.3" y2="335.0" stroke="#111" stroke-width="1.3"/>
<line x1="68.3" y1="325.3" x2="72.3" y2="325.3" stroke="#111" stroke-width="1.3"/>
<line x1="68.3" y1="315.6" x2="72.3" y2="315.6" stroke="#111" stroke-width="1.3"/>
<line x1="68.3" y1="305.9" x2="72.3" y2="305.9" stroke="#111" stroke-width="1.3"/>
<line x1="68.3" y1="296.2" x2="72.3" y2="296.2" stroke="#111" stroke-width="1.3"/>
<line x1="66.8" y1="286.5" x2="72.3" y2="286.5" stroke="#111" stroke-width="1.3"/>
<text x="64.30" y="438.80" font-family='"Liberation Sans", sans-serif' font-size="19" font-weight="normal" text-anchor="end" fill="#111" >0</text>
<text x="64.30" y="390.30" font-family='"Liberation Sans", sans-serif' font-size="19" font-weight="normal" text-anchor="end" fill="#111" >5</text>
<text x="64.30" y="341.80" font-family='"Liberation Sans", sans-serif' font-size="19" font-weight="normal" text-anchor="end" fill="#111" >10</text>
<text x="64.30" y="293.30" font-family='"Liberation Sans", sans-serif' font-size="19" font-weight="normal" text-anchor="end" fill="#111" >15</text>
<line x1="74.5" y1="434.5" x2="74.5" y2="440.0" stroke="#111" stroke-width="1.3"/>
<line x1="82.6" y1="434.5" x2="82.6" y2="438.0" stroke="#111" stroke-width="1.3"/>
<line x1="90.8" y1="434.5" x2="90.8" y2="438.0" stroke="#111" stroke-width="1.3"/>
<line x1="98.9" y1="434.5" x2="98.9" y2="438.0" stroke="#111" stroke-width="1.3"/>
<line x1="107.1" y1="434.5" x2="107.1" y2="438.0" stroke="#111" stroke-width="1.3"/>
<line x1="115.2" y1="434.5" x2="115.2" y2="440.0" stroke="#111" stroke-width="1.3"/>
<line x1="123.4" y1="434.5" x2="123.4" y2="438.0" stroke="#111" stroke-width="1.3"/>
<line x1="131.6" y1="434.5" x2="131.6" y2="438.0" stroke="#111" stroke-width="1.3"/>
<line x1="139.7" y1="434.5" x2="139.7" y2="438.0" stroke="#111" stroke-width="1.3"/>
<line x1="147.8" y1="434.5" x2="147.8" y2="438.0" stroke="#111" stroke-width="1.3"/>
<line x1="156.0" y1="434.5" x2="156.0" y2="440.0" stroke="#111" stroke-width="1.3"/>
<line x1="164.2" y1="434.5" x2="164.2" y2="438.0" stroke="#111" stroke-width="1.3"/>
<line x1="172.3" y1="434.5" x2="172.3" y2="438.0" stroke="#111" stroke-width="1.3"/>
<line x1="180.4" y1="434.5" x2="180.4" y2="438.0" stroke="#111" stroke-width="1.3"/>
<line x1="188.6" y1="434.5" x2="188.6" y2="438.0" stroke="#111" stroke-width="1.3"/>
<line x1="196.8" y1="434.5" x2="196.8" y2="440.0" stroke="#111" stroke-width="1.3"/>
<line x1="204.9" y1="434.5" x2="204.9" y2="438.0" stroke="#111" stroke-width="1.3"/>
<line x1="213.1" y1="434.5" x2="213.1" y2="438.0" stroke="#111" stroke-width="1.3"/>
<line x1="221.2" y1="434.5" x2="221.2" y2="438.0" stroke="#111" stroke-width="1.3"/>
<line x1="229.4" y1="434.5" x2="229.4" y2="438.0" stroke="#111" stroke-width="1.3"/>
<line x1="237.5" y1="434.5" x2="237.5" y2="440.0" stroke="#111" stroke-width="1.3"/>
<text x="73.00" y="459.50" font-family='"Liberation Sans", sans-serif' font-size="19" font-weight="normal" text-anchor="middle" fill="#111" >-2</text>
<text x="113.75" y="459.50" font-family='"Liberation Sans", sans-serif' font-size="19" font-weight="normal" text-anchor="middle" fill="#111" >-1</text>
<text x="156.00" y="459.50" font-family='"Liberation Sans", sans-serif' font-size="19" font-weight="normal" text-anchor="middle" fill="#111" >0</text>
<text x="196.75" y="459.50" font-family='"Liberation Sans", sans-serif' font-size="19" font-weight="normal" text-anchor="middle" fill="#111" >1</text>
<text x="237.50" y="459.50" font-family='"Liberation Sans", sans-serif' font-size="19" font-weight="normal" text-anchor="middle" fill="#111" >2</text>
<text x="74.4" y="482" textLength="160.5" lengthAdjust="spacingAndGlyphs" font-family='"Liberation Sans", sans-serif' font-size="19" fill="#111">Log2(Fold Change)</text>
<text transform="translate(33,443.5) rotate(-90)" textLength="166" lengthAdjust="spacingAndGlyphs" font-family='"Liberation Sans", sans-serif' font-size="19" fill="#111">-Log10(adj p-value)</text>
<line x1="534.4" y1="282.7" x2="534.4" y2="434.5" stroke="#f02828" stroke-width="0.9" stroke-dasharray="2.5,2.5"/>
<line x1="556.4" y1="282.7" x2="556.4" y2="434.5" stroke="#f02828" stroke-width="0.9" stroke-dasharray="2.5,2.5"/>
<line x1="462.3" y1="383.1" x2="629.5" y2="383.1" stroke="#f02828" stroke-width="0.9" stroke-dasharray="2.5,2.5"/>
<rect x="462.3" y="282.7" width="167.2" height="151.8" fill="none" stroke="#111" stroke-width="1.8"/>
<line x1="456.8" y1="431.5" x2="462.3" y2="431.5" stroke="#111" stroke-width="1.3"/>
<line x1="458.3" y1="421.8" x2="462.3" y2="421.8" stroke="#111" stroke-width="1.3"/>
<line x1="458.3" y1="412.1" x2="462.3" y2="412.1" stroke="#111" stroke-width="1.3"/>
<line x1="458.3" y1="402.5" x2="462.3" y2="402.5" stroke="#111" stroke-width="1.3"/>
<line x1="458.3" y1="392.8" x2="462.3" y2="392.8" stroke="#111" stroke-width="1.3"/>
<line x1="456.8" y1="383.1" x2="462.3" y2="383.1" stroke="#111" stroke-width="1.3"/>
<line x1="458.3" y1="373.4" x2="462.3" y2="373.4" stroke="#111" stroke-width="1.3"/>
<line x1="458.3" y1="363.7" x2="462.3" y2="363.7" stroke="#111" stroke-width="1.3"/>
<line x1="458.3" y1="354.1" x2="462.3" y2="354.1" stroke="#111" stroke-width="1.3"/>
<line x1="458.3" y1="344.4" x2="462.3" y2="344.4" stroke="#111" stroke-width="1.3"/>
<line x1="456.8" y1="334.7" x2="462.3" y2="334.7" stroke="#111" stroke-width="1.3"/>
<line x1="458.3" y1="325.0" x2="462.3" y2="325.0" stroke="#111" stroke-width="1.3"/>
<line x1="458.3" y1="315.3" x2="462.3" y2="315.3" stroke="#111" stroke-width="1.3"/>
<line x1="458.3" y1="305.7" x2="462.3" y2="305.7" stroke="#111" stroke-width="1.3"/>
<line x1="458.3" y1="296.0" x2="462.3" y2="296.0" stroke="#111" stroke-width="1.3"/>
<line x1="456.8" y1="286.3" x2="462.3" y2="286.3" stroke="#111" stroke-width="1.3"/>
<text x="454.30" y="438.30" font-family='"Liberation Sans", sans-serif' font-size="19" font-weight="normal" text-anchor="end" fill="#111" >0</text>
<text x="454.30" y="389.90" font-family='"Liberation Sans", sans-serif' font-size="19" font-weight="normal" text-anchor="end" fill="#111" >1</text>
<text x="454.30" y="341.50" font-family='"Liberation Sans", sans-serif' font-size="19" font-weight="normal" text-anchor="end" fill="#111" >2</text>
<text x="454.30" y="293.10" font-family='"Liberation Sans", sans-serif' font-size="19" font-weight="normal" text-anchor="end" fill="#111" >3</text>
<line x1="464.5" y1="434.5" x2="464.5" y2="440.0" stroke="#111" stroke-width="1.3"/>
<line x1="472.6" y1="434.5" x2="472.6" y2="438.0" stroke="#111" stroke-width="1.3"/>
<line x1="480.8" y1="434.5" x2="480.8" y2="438.0" stroke="#111" stroke-width="1.3"/>
<line x1="488.9" y1="434.5" x2="488.9" y2="438.0" stroke="#111" stroke-width="1.3"/>
<line x1="497.1" y1="434.5" x2="497.1" y2="438.0" stroke="#111" stroke-width="1.3"/>
<line x1="505.2" y1="434.5" x2="505.2" y2="440.0" stroke="#111" stroke-width="1.3"/>
<line x1="513.4" y1="434.5" x2="513.4" y2="438.0" stroke="#111" stroke-width="1.3"/>
<line x1="521.5" y1="434.5" x2="521.5" y2="438.0" stroke="#111" stroke-width="1.3"/>
<line x1="529.7" y1="434.5" x2="529.7" y2="438.0" stroke="#111" stroke-width="1.3"/>
<line x1="537.9" y1="434.5" x2="537.9" y2="438.0" stroke="#111" stroke-width="1.3"/>
<line x1="546.0" y1="434.5" x2="546.0" y2="440.0" stroke="#111" stroke-width="1.3"/>
<line x1="554.1" y1="434.5" x2="554.1" y2="438.0" stroke="#111" stroke-width="1.3"/>
<line x1="562.3" y1="434.5" x2="562.3" y2="438.0" stroke="#111" stroke-width="1.3"/>
<line x1="570.5" y1="434.5" x2="570.5" y2="438.0" stroke="#111" stroke-width="1.3"/>
<line x1="578.6" y1="434.5" x2="578.6" y2="438.0" stroke="#111" stroke-width="1.3"/>
<line x1="586.8" y1="434.5" x2="586.8" y2="440.0" stroke="#111" stroke-width="1.3"/>
<line x1="594.9" y1="434.5" x2="594.9" y2="438.0" stroke="#111" stroke-width="1.3"/>
<line x1="603.0" y1="434.5" x2="603.0" y2="438.0" stroke="#111" stroke-width="1.3"/>
<line x1="611.2" y1="434.5" x2="611.2" y2="438.0" stroke="#111" stroke-width="1.3"/>
<line x1="619.4" y1="434.5" x2="619.4" y2="438.0" stroke="#111" stroke-width="1.3"/>
<line x1="627.5" y1="434.5" x2="627.5" y2="440.0" stroke="#111" stroke-width="1.3"/>
<text x="463.00" y="459.50" font-family='"Liberation Sans", sans-serif' font-size="19" font-weight="normal" text-anchor="middle" fill="#111" >-2</text>
<text x="503.75" y="459.50" font-family='"Liberation Sans", sans-serif' font-size="19" font-weight="normal" text-anchor="middle" fill="#111" >-1</text>
<text x="546.00" y="459.50" font-family='"Liberation Sans", sans-serif' font-size="19" font-weight="normal" text-anchor="middle" fill="#111" >0</text>
<text x="586.75" y="459.50" font-family='"Liberation Sans", sans-serif' font-size="19" font-weight="normal" text-anchor="middle" fill="#111" >1</text>
<text x="627.50" y="459.50" font-family='"Liberation Sans", sans-serif' font-size="19" font-weight="normal" text-anchor="middle" fill="#111" >2</text>
<text x="464.4" y="482" textLength="160.5" lengthAdjust="spacingAndGlyphs" font-family='"Liberation Sans", sans-serif' font-size="19" fill="#111">Log2(Fold Change)</text>
<text transform="translate(439.2,396.8) rotate(-90)" textLength="81.5" lengthAdjust="spacingAndGlyphs" font-family='"Liberation Sans", sans-serif' font-size="19" fill="#111">VIP value</text>
<circle cx="156.5" cy="288.1" r="5.4" fill="#4256a0"/>
<circle cx="153.5" cy="363.1" r="5.4" fill="#4256a0"/>
<circle cx="154.9" cy="366.5" r="5.4" fill="#4256a0"/>
<circle cx="146.8" cy="381.1" r="5.4" fill="#4256a0"/>
<circle cx="135" cy="420.7" r="5.4" fill="#4256a0"/>
<circle cx="145.2" cy="422.9" r="5.4" fill="#4256a0"/>
<circle cx="150.8" cy="410.5" r="5.4" fill="#4256a0"/>
<circle cx="156.5" cy="407.1" r="5.4" fill="#4256a0"/>
<circle cx="161" cy="408.2" r="5.4" fill="#4256a0"/>
<circle cx="155.3" cy="419.5" r="5.4" fill="#4256a0"/>
<circle cx="158.7" cy="425.2" r="5.4" fill="#4256a0"/>
<circle cx="155.3" cy="430.8" r="5.4" fill="#4256a0"/>
<circle cx="162.1" cy="430.8" r="5.4" fill="#4256a0"/>
<circle cx="176.8" cy="419.5" r="5.4" fill="#4256a0"/>
<circle cx="180.2" cy="425.2" r="5.4" fill="#4256a0"/>
<circle cx="174.5" cy="427.4" r="5.4" fill="#4256a0"/>
<circle cx="183.6" cy="428.6" r="5.4" fill="#4256a0"/>
<circle cx="190.3" cy="428.1" r="5.4" fill="#4256a0"/>
<circle cx="181.3" cy="430.8" r="5.4" fill="#4256a0"/>
<circle cx="148.6" cy="419.5" r="5.4" fill="#4256a0"/>
<circle cx="164.4" cy="421.8" r="5.4" fill="#4256a0"/>
<circle cx="150.8" cy="424" r="5.4" fill="#4256a0"/>
<circle cx="158.1" cy="404" r="5.4" fill="#4256a0"/>
<circle cx="150.1" cy="410" r="5.4" fill="#4256a0"/>
<circle cx="157.1" cy="416" r="5.4" fill="#4256a0"/>
<circle cx="160.1" cy="428.2" r="5.4" fill="#4256a0"/>
<circle cx="180.2" cy="420.1" r="5.4" fill="#4256a0"/>
<circle cx="176.2" cy="428.2" r="5.4" fill="#4256a0"/>
<circle cx="184.2" cy="428.2" r="5.4" fill="#4256a0"/>
<circle cx="127.1" cy="288.1" r="5.4" fill="#a63a2b"/>
<circle cx="168.9" cy="288.1" r="5.4" fill="#a63a2b"/>
<circle cx="130" cy="299.8" r="5.4" fill="#a63a2b"/>
<circle cx="132.3" cy="311.1" r="5.4" fill="#a63a2b"/>
<circle cx="144" cy="324.7" r="5.4" fill="#a63a2b"/>
<circle cx="174.5" cy="346.1" r="5.4" fill="#a63a2b"/>
<circle cx="180.6" cy="355.2" r="5.4" fill="#a63a2b"/>
<circle cx="140.7" cy="354" r="5.4" fill="#a63a2b"/>
<circle cx="110.2" cy="363.1" r="5.4" fill="#a63a2b"/>
<circle cx="129.4" cy="359.2" r="5.4" fill="#a63a2b"/>
<circle cx="130.5" cy="365.3" r="5.4" fill="#a63a2b"/>
<circle cx="137.3" cy="364.2" r="5.4" fill="#a63a2b"/>
<circle cx="142.9" cy="365.3" r="5.4" fill="#a63a2b"/>
<circle cx="144" cy="373.2" r="5.4" fill="#a63a2b"/>
<circle cx="167.8" cy="366.5" r="5.4" fill="#a63a2b"/>
<circle cx="170" cy="373.2" r="5.4" fill="#a63a2b"/>
<circle cx="173" cy="381.1" r="5.4" fill="#a63a2b"/>
<circle cx="130.5" cy="402.6" r="5.4" fill="#a63a2b"/>
<circle cx="135.5" cy="402.6" r="5.4" fill="#a63a2b"/>
<circle cx="132.8" cy="411.2" r="5.4" fill="#a63a2b"/>
<circle cx="144" cy="411.2" r="5.4" fill="#a63a2b"/>
<circle cx="173" cy="399.2" r="5.4" fill="#a63a2b"/>
<circle cx="167.8" cy="406" r="5.4" fill="#a63a2b"/>
<circle cx="172.3" cy="407.1" r="5.4" fill="#a63a2b"/>
<circle cx="182.4" cy="406" r="5.4" fill="#a63a2b"/>
<circle cx="168.9" cy="417.3" r="5.4" fill="#a63a2b"/>
<circle cx="536.3" cy="358.6" r="5.4" fill="#4256a0"/>
<circle cx="545.8" cy="365.8" r="5.4" fill="#4256a0"/>
<circle cx="499.7" cy="387.9" r="5.4" fill="#4256a0"/>
<circle cx="520.5" cy="385.7" r="5.4" fill="#4256a0"/>
<circle cx="529.5" cy="386.8" r="5.4" fill="#4256a0"/>
<circle cx="536.3" cy="386.8" r="5.4" fill="#4256a0"/>
<circle cx="544.2" cy="385.7" r="5.4" fill="#4256a0"/>
<circle cx="557.8" cy="385.7" r="5.4" fill="#4256a0"/>
<circle cx="570.2" cy="386.1" r="5.4" fill="#4256a0"/>
<circle cx="561.1" cy="389" r="5.4" fill="#4256a0"/>
<circle cx="520.5" cy="403.7" r="5.4" fill="#4256a0"/>
<circle cx="525" cy="406" r="5.4" fill="#4256a0"/>
<circle cx="534" cy="400.3" r="5.4" fill="#4256a0"/>
<circle cx="549.9" cy="397" r="5.4" fill="#4256a0"/>
<circle cx="558.9" cy="399.2" r="5.4" fill="#4256a0"/>
<circle cx="572.4" cy="402.6" r="5.4" fill="#4256a0"/>
<circle cx="540.8" cy="406" r="5.4" fill="#4256a0"/>
<circle cx="548.7" cy="408.2" r="5.4" fill="#4256a0"/>
<circle cx="556.6" cy="406" r="5.4" fill="#4256a0"/>
<circle cx="535.2" cy="413.9" r="5.4" fill="#4256a0"/>
<circle cx="544.2" cy="415" r="5.4" fill="#4256a0"/>
<circle cx="552.1" cy="416.1" r="5.4" fill="#4256a0"/>
<circle cx="565.7" cy="410.5" r="5.4" fill="#4256a0"/>
<circle cx="572.4" cy="412.8" r="5.4" fill="#4256a0"/>
<circle cx="547.6" cy="421.8" r="5.4" fill="#4256a0"/>
<circle cx="563.4" cy="421.8" r="5.4" fill="#4256a0"/>
<circle cx="579.2" cy="421.8" r="5.4" fill="#4256a0"/>
<circle cx="544.2" cy="421.8" r="5.4" fill="#4256a0"/>
<circle cx="554.4" cy="410.5" r="5.4" fill="#4256a0"/>
<circle cx="527.6" cy="386.4" r="5.4" fill="#4256a0"/>
<circle cx="537.7" cy="387.6" r="5.4" fill="#4256a0"/>
<circle cx="544" cy="386.4" r="5.4" fill="#4256a0"/>
<circle cx="522.6" cy="386.4" r="5.4" fill="#4256a0"/>
<circle cx="521.4" cy="404" r="5.4" fill="#4256a0"/>
<circle cx="526.4" cy="406.5" r="5.4" fill="#4256a0"/>
<circle cx="535.2" cy="400.2" r="5.4" fill="#4256a0"/>
<circle cx="540.2" cy="404" r="5.4" fill="#4256a0"/>
<circle cx="545.2" cy="402.7" r="5.4" fill="#4256a0"/>
<circle cx="550.2" cy="397.7" r="5.4" fill="#4256a0"/>
<circle cx="555.2" cy="402.7" r="5.4" fill="#4256a0"/>
<circle cx="560.3" cy="400.2" r="5.4" fill="#4256a0"/>
<circle cx="565.3" cy="402.7" r="5.4" fill="#4256a0"/>
<circle cx="571.6" cy="402.7" r="5.4" fill="#4256a0"/>
<circle cx="535.2" cy="412.7" r="5.4" fill="#4256a0"/>
<circle cx="542.7" cy="412.7" r="5.4" fill="#4256a0"/>
<circle cx="550.2" cy="410.2" r="5.4" fill="#4256a0"/>
<circle cx="557.8" cy="409" r="5.4" fill="#4256a0"/>
<circle cx="565.3" cy="414" r="5.4" fill="#4256a0"/>
<circle cx="571.6" cy="412.7" r="5.4" fill="#4256a0"/>
<circle cx="547.7" cy="420.3" r="5.4" fill="#4256a0"/>
<circle cx="562.8" cy="385.1" r="5.4" fill="#4256a0"/>
<circle cx="559" cy="387.6" r="5.4" fill="#4256a0"/>
<circle cx="570.3" cy="386.4" r="5.4" fill="#4256a0"/>
<circle cx="484.4" cy="329.2" r="5.4" fill="#a63a2b"/>
<circle cx="487.7" cy="329.2" r="5.4" fill="#a63a2b"/>
<circle cx="502.4" cy="339.4" r="5.4" fill="#a63a2b"/>
<circle cx="512.6" cy="342.8" r="5.4" fill="#a63a2b"/>
<circle cx="514.8" cy="348.4" r="5.4" fill="#a63a2b"/>
<circle cx="520.5" cy="345.5" r="5.4" fill="#a63a2b"/>
<circle cx="529.5" cy="349.5" r="5.4" fill="#a63a2b"/>
<circle cx="516" cy="365.3" r="5.4" fill="#a63a2b"/>
<circle cx="522.7" cy="361.9" r="5.4" fill="#a63a2b"/>
<circle cx="526.1" cy="360.4" r="5.4" fill="#a63a2b"/>
<circle cx="521.6" cy="371" r="5.4" fill="#a63a2b"/>
<circle cx="519.4" cy="378.9" r="5.4" fill="#a63a2b"/>
<circle cx="530.7" cy="376.6" r="5.4" fill="#a63a2b"/>
<circle cx="558.4" cy="365.8" r="5.4" fill="#a63a2b"/>
<circle cx="564.5" cy="377.8" r="5.4" fill="#a63a2b"/>
<circle cx="516.3" cy="365" r="5.4" fill="#a63a2b"/>
<circle cx="523.9" cy="361.3" r="5.4" fill="#a63a2b"/>
<circle cx="527.6" cy="362.5" r="5.4" fill="#a63a2b"/>
<circle cx="521.4" cy="370" r="5.4" fill="#a63a2b"/>
<circle cx="520.1" cy="377.6" r="5.4" fill="#a63a2b"/>
<circle cx="530.2" cy="376.3" r="5.4" fill="#a63a2b"/>
<text x="0.00" y="529.80" font-family='"Liberation Serif", serif' font-size="25" font-weight="bold" text-anchor="start" fill="#000" >E</text>
<text x="170.50" y="549.00" font-family='"Liberation Serif", serif' font-size="22" font-weight="bold" text-anchor="middle" fill="#000" >VIP&gt;1</text>
<defs><linearGradient id="vg" x1="0" y1="0" x2="0" y2="1">
<stop offset="0" stop-color="#6594d4" stop-opacity="0.85"/>
<stop offset="1" stop-color="#e8f0fa" stop-opacity="0.3"/></linearGradient></defs>
<circle cx="164.5" cy="597.6" r="46.4" fill="url(#vg)" stroke="#3d6aa8" stroke-width="1.15"/>
<circle cx="135.5" cy="646.8" r="46.4" fill="url(#vg)" stroke="#3d6aa8" stroke-width="1.15"/>
<circle cx="198.1" cy="647.3" r="46.4" fill="url(#vg)" stroke="#3d6aa8" stroke-width="1.15"/>
<text x="164.80" y="596.00" font-family='"Liberation Serif", serif' font-size="18" font-weight="bold" text-anchor="middle" fill="#000" >0</text>
<text x="142.00" y="624.00" font-family='"Liberation Serif", serif' font-size="18" font-weight="bold" text-anchor="middle" fill="#000" >0</text>
<text x="188.40" y="624.00" font-family='"Liberation Serif", serif' font-size="18" font-weight="bold" text-anchor="middle" fill="#000" >2</text>
<text x="167.70" y="636.50" font-family='"Liberation Serif", serif' font-size="18" font-weight="bold" text-anchor="middle" fill="#000" >18</text>
<text x="127.50" y="658.00" font-family='"Liberation Serif", serif' font-size="18" font-weight="bold" text-anchor="middle" fill="#000" >8</text>
<text x="167.70" y="662.50" font-family='"Liberation Serif", serif' font-size="18" font-weight="bold" text-anchor="middle" fill="#000" >23</text>
<text x="202.90" y="658.00" font-family='"Liberation Serif", serif' font-size="18" font-weight="bold" text-anchor="middle" fill="#000" >12</text>
<text x="1.50" y="713.50" font-family='"Liberation Serif", serif' font-size="22" font-weight="bold" text-anchor="start" fill="#000" >|fold change|&gt;1.2</text>
<text x="172.00" y="713.50" font-family='"Liberation Serif", serif' font-size="22" font-weight="bold" text-anchor="start" fill="#000" >adjust p-value&lt;0.05</text>
<text x="401.00" y="528.90" font-family='"Liberation Serif", serif' font-size="25" font-weight="bold" text-anchor="start" fill="#000" >F</text>
<rect x="461.20" y="507.00" width="2.06" height="10.53" fill="#ffc6c6"/>
<rect x="461.20" y="517.47" width="2.06" height="10.53" fill="#ffdada"/>
<rect x="461.20" y="527.94" width="2.06" height="10.53" fill="#d2d2ff"/>
<rect x="461.20" y="538.41" width="2.06" height="10.53" fill="#dbdbff"/>
<rect x="461.20" y="548.88" width="2.06" height="10.53" fill="#d2d2ff"/>
<rect x="461.20" y="559.35" width="2.06" height="10.53" fill="#cacaff"/>
<rect x="461.20" y="569.82" width="2.06" height="10.53" fill="#fff9f9"/>
<rect x="461.20" y="580.29" width="2.06" height="10.53" fill="#ddddff"/>
<rect x="461.20" y="590.76" width="2.06" height="10.53" fill="#ffe1e1"/>
<rect x="461.20" y="601.23" width="2.06" height="10.53" fill="#ededff"/>
<rect x="461.20" y="611.70" width="2.06" height="10.53" fill="#d3d3ff"/>
<rect x="461.20" y="622.17" width="2.06" height="10.53" fill="#cdcdff"/>
<rect x="461.20" y="632.64" width="2.06" height="10.53" fill="#ceceff"/>
<rect x="461.20" y="643.11" width="2.06" height="10.53" fill="#fdfdff"/>
<rect x="461.20" y="653.58" width="2.06" height="10.53" fill="#d9d9ff"/>
<rect x="461.20" y="664.05" width="2.06" height="10.53" fill="#e1e1ff"/>
<rect x="461.20" y="674.52" width="2.06" height="10.53" fill="#efefff"/>
<rect x="461.20" y="684.99" width="2.06" height="10.53" fill="#d4d4ff"/>
<rect x="463.20" y="507.00" width="1.06" height="10.53" fill="#ffa9a9"/>
<rect x="463.20" y="517.47" width="1.06" height="10.53" fill="#ffebeb"/>
<rect x="463.20" y="527.94" width="1.06" height="10.53" fill="#e8e8ff"/>
<rect x="463.20" y="538.41" width="1.06" height="10.53" fill="#dadaff"/>
<rect x="463.20" y="548.88" width="1.06" height="10.53" fill="#d8d8ff"/>
<rect x="463.20" y="559.35" width="1.06" height="10.53" fill="#ddddff"/>
<rect x="463.20" y="569.82" width="1.06" height="10.53" fill="#d5d5ff"/>
<rect x="463.20" y="580.29" width="1.06" height="10.53" fill="#f6f6ff"/>
<rect x="463.20" y="590.76" width="1.06" height="10.53" fill="#dadaff"/>
<rect x="463.20" y="601.23" width="1.06" height="10.53" fill="#ddddff"/>
<rect x="463.20" y="611.70" width="1.06" height="10.53" fill="#f9f9ff"/>
<rect x="463.20" y="622.17" width="1.06" height="10.53" fill="#a7a7ff"/>
<rect x="463.20" y="632.64" width="1.06" height="10.53" fill="#ffe4e4"/>
<rect x="463.20" y="643.11" width="1.06" height="10.53" fill="#e8e8ff"/>
<rect x="463.20" y="653.58" width="1.06" height="10.53" fill="#afafff"/>
<rect x="463.20" y="664.05" width="1.06" height="10.53" fill="#b0b0ff"/>
<rect x="463.20" y="674.52" width="1.06" height="10.53" fill="#e3e3ff"/>
<rect x="463.20" y="684.99" width="1.06" height="10.53" fill="#c2c2ff"/>
<rect x="464.20" y="507.00" width="1.06" height="10.53" fill="#ffe3e3"/>
<rect x="464.20" y="517.47" width="1.06" height="10.53" fill="#ff8b8b"/>
<rect x="464.20" y="527.94" width="1.06" height="10.53" fill="#c7c7ff"/>
<rect x="464.20" y="538.41" width="1.06" height="10.53" fill="#c8c8ff"/>
<rect x="464.20" y="548.88" width="1.06" height="10.53" fill="#e1e1ff"/>
<rect x="464.20" y="559.35" width="1.06" height="10.53" fill="#e4e4ff"/>
<rect x="464.20" y="569.82" width="1.06" height="10.53" fill="#e3e3ff"/>
<rect x="464.20" y="580.29" width="1.06" height="10.53" fill="#e6e6ff"/>
<rect x="464.20" y="590.76" width="1.06" height="10.53" fill="#e7e7ff"/>
<rect x="464.20" y="601.23" width="1.06" height="10.53" fill="#c4c4ff"/>
<rect x="464.20" y="611.70" width="1.06" height="10.53" fill="#e6e6ff"/>
<rect x="464.20" y="622.17" width="1.06" height="10.53" fill="#e3e3ff"/>
<rect x="464.20" y="632.64" width="1.06" height="10.53" fill="#dcdcff"/>
<rect x="464.20" y="643.11" width="1.06" height="10.53" fill="#dedeff"/>
<rect x="464.20" y="653.58" width="1.06" height="10.53" fill="#f6f6ff"/>
<rect x="464.20" y="664.05" width="1.06" height="10.53" fill="#c4c4ff"/>
<rect x="464.20" y="674.52" width="1.06" height="10.53" fill="#c8c8ff"/>
<rect x="464.20" y="684.99" width="1.06" height="10.53" fill="#f7f7ff"/>
<rect x="465.20" y="507.00" width="1.56" height="10.53" fill="#ffc6c6"/>
<rect x="465.20" y="517.47" width="1.56" height="10.53" fill="#ffdbdb"/>
<rect x="465.20" y="527.94" width="1.56" height="10.53" fill="#e1e1ff"/>
<rect x="465.20" y="538.41" width="1.56" height="10.53" fill="#eaeaff"/>
<rect x="465.20" y="548.88" width="1.56" height="10.53" fill="#f3f3ff"/>
<rect x="465.20" y="559.35" width="1.56" height="10.53" fill="#e0e0ff"/>
<rect x="465.20" y="569.82" width="1.56" height="10.53" fill="#d7d7ff"/>
<rect x="465.20" y="580.29" width="1.56" height="10.53" fill="#ddddff"/>
<rect x="465.20" y="590.76" width="1.56" height="10.53" fill="#d4d4ff"/>
<rect x="465.20" y="601.23" width="1.56" height="10.53" fill="#fff7f7"/>
<rect x="465.20" y="611.70" width="1.56" height="10.53" fill="#cdcdff"/>
<rect x="465.20" y="622.17" width="1.56" height="10.53" fill="#dbdbff"/>
<rect x="465.20" y="632.64" width="1.56" height="10.53" fill="#e2e2ff"/>
<rect x="465.20" y="643.11" width="1.56" height="10.53" fill="#b5b5ff"/>
<rect x="465.20" y="653.58" width="1.56" height="10.53" fill="#dbdbff"/>
<rect x="465.20" y="664.05" width="1.56" height="10.53" fill="#b9b9ff"/>
<rect x="465.20" y="674.52" width="1.56" height="10.53" fill="#cbcbff"/>
<rect x="465.20" y="684.99" width="1.56" height="10.53" fill="#f1f1ff"/>
<rect x="466.70" y="507.00" width="1.06" height="10.53" fill="#ffecec"/>
<rect x="466.70" y="517.47" width="1.06" height="10.53" fill="#ffecec"/>
<rect x="466.70" y="527.94" width="1.06" height="10.53" fill="#e7e7ff"/>
<rect x="466.70" y="538.41" width="1.06" height="10.53" fill="#e5e5ff"/>
<rect x="466.70" y="548.88" width="1.06" height="10.53" fill="#fffefe"/>
<rect x="466.70" y="559.35" width="1.06" height="10.53" fill="#ebebff"/>
<rect x="466.70" y="569.82" width="1.06" height="10.53" fill="#fff9f9"/>
<rect x="466.70" y="580.29" width="1.06" height="10.53" fill="#c8c8ff"/>
<rect x="466.70" y="590.76" width="1.06" height="10.53" fill="#ffd9d9"/>
<rect x="466.70" y="601.23" width="1.06" height="10.53" fill="#dfdfff"/>
<rect x="466.70" y="611.70" width="1.06" height="10.53" fill="#f6f6ff"/>
<rect x="466.70" y="622.17" width="1.06" height="10.53" fill="#f9f9ff"/>
<rect x="466.70" y="632.64" width="1.06" height="10.53" fill="#eaeaff"/>
<rect x="466.70" y="643.11" width="1.06" height="10.53" fill="#eaeaff"/>
<rect x="466.70" y="653.58" width="1.06" height="10.53" fill="#efefff"/>
<rect x="466.70" y="664.05" width="1.06" height="10.53" fill="#c6c6ff"/>
<rect x="466.70" y="674.52" width="1.06" height="10.53" fill="#d2d2ff"/>
<rect x="466.70" y="684.99" width="1.06" height="10.53" fill="#e4e4ff"/>
<rect x="467.70" y="507.00" width="1.06" height="10.53" fill="#ffeeee"/>
<rect x="467.70" y="517.47" width="1.06" height="10.53" fill="#fbfbff"/>
<rect x="467.70" y="527.94" width="1.06" height="10.53" fill="#f6f6ff"/>
<rect x="467.70" y="538.41" width="1.06" height="10.53" fill="#e2e2ff"/>
<rect x="467.70" y="548.88" width="1.06" height="10.53" fill="#fff3f3"/>
<rect x="467.70" y="559.35" width="1.06" height="10.53" fill="#fffefe"/>
<rect x="467.70" y="569.82" width="1.06" height="10.53" fill="#fff5f5"/>
<rect x="467.70" y="580.29" width="1.06" height="10.53" fill="#fefeff"/>
<rect x="467.70" y="590.76" width="1.06" height="10.53" fill="#ffd6d6"/>
<rect x="467.70" y="601.23" width="1.06" height="10.53" fill="#fafaff"/>
<rect x="467.70" y="611.70" width="1.06" height="10.53" fill="#eaeaff"/>
<rect x="467.70" y="622.17" width="1.06" height="10.53" fill="#b7b7ff"/>
<rect x="467.70" y="632.64" width="1.06" height="10.53" fill="#ffe9e9"/>
<rect x="467.70" y="643.11" width="1.06" height="10.53" fill="#e6e6ff"/>
<rect x="467.70" y="653.58" width="1.06" height="10.53" fill="#bebeff"/>
<rect x="467.70" y="664.05" width="1.06" height="10.53" fill="#dfdfff"/>
<rect x="467.70" y="674.52" width="1.06" height="10.53" fill="#efefff"/>
<rect x="467.70" y="684.99" width="1.06" height="10.53" fill="#fff7f7"/>
<rect x="468.70" y="507.00" width="1.06" height="10.53" fill="#fff2f2"/>
<rect x="468.70" y="517.47" width="1.06" height="10.53" fill="#fffdfd"/>
<rect x="468.70" y="527.94" width="1.06" height="10.53" fill="#e3e3ff"/>
<rect x="468.70" y="538.41" width="1.06" height="10.53" fill="#b4b4ff"/>
<rect x="468.70" y="548.88" width="1.06" height="10.53" fill="#d6d6ff"/>
<rect x="468.70" y="559.35" width="1.06" height="10.53" fill="#ffd4d4"/>
<rect x="468.70" y="569.82" width="1.06" height="10.53" fill="#ffecec"/>
<rect x="468.70" y="580.29" width="1.06" height="10.53" fill="#f9f9ff"/>
<rect x="468.70" y="590.76" width="1.06" height="10.53" fill="#fafaff"/>
<rect x="468.70" y="601.23" width="1.06" height="10.53" fill="#d6d6ff"/>
<rect x="468.70" y="611.70" width="1.06" height="10.53" fill="#e1e1ff"/>
<rect x="468.70" y="622.17" width="1.06" height="10.53" fill="#c7c7ff"/>
<rect x="468.70" y="632.64" width="1.06" height="10.53" fill="#e8e8ff"/>
<rect x="468.70" y="643.11" width="1.06" height="10.53" fill="#f2f2ff"/>
<rect x="468.70" y="653.58" width="1.06" height="10.53" fill="#f6f6ff"/>
<rect x="468.70" y="664.05" width="1.06" height="10.53" fill="#e0e0ff"/>
<rect x="468.70" y="674.52" width="1.06" height="10.53" fill="#ececff"/>
<rect x="468.70" y="684.99" width="1.06" height="10.53" fill="#bbbbff"/>
<rect x="469.70" y="507.00" width="1.06" height="10.53" fill="#ffdede"/>
<rect x="469.70" y="517.47" width="1.06" height="10.53" fill="#fff9f9"/>
<rect x="469.70" y="527.94" width="1.06" height="10.53" fill="#b4b4ff"/>
<rect x="469.70" y="538.41" width="1.06" height="10.53" fill="#eaeaff"/>
<rect x="469.70" y="548.88" width="1.06" height="10.53" fill="#fdfdff"/>
<rect x="469.70" y="559.35" width="1.06" height="10.53" fill="#ffeded"/>
<rect x="469.70" y="569.82" width="1.06" height="10.53" fill="#cbcbff"/>
<rect x="469.70" y="580.29" width="1.06" height="10.53" fill="#ddddff"/>
<rect x="469.70" y="590.76" width="1.06" height="10.53" fill="#ffebeb"/>
<rect x="469.70" y="601.23" width="1.06" height="10.53" fill="#f3f3ff"/>
<rect x="469.70" y="611.70" width="1.06" height="10.53" fill="#d5d5ff"/>
<rect x="469.70" y="622.17" width="1.06" height="10.53" fill="#e7e7ff"/>
<rect x="469.70" y="632.64" width="1.06" height="10.53" fill="#c5c5ff"/>
<rect x="469.70" y="643.11" width="1.06" height="10.53" fill="#bebeff"/>
<rect x="469.70" y="653.58" width="1.06" height="10.53" fill="#b9b9ff"/>
<rect x="469.70" y="664.05" width="1.06" height="10.53" fill="#cbcbff"/>
<rect x="469.70" y="674.52" width="1.06" height="10.53" fill="#e5e5ff"/>
<rect x="469.70" y="684.99" width="1.06" height="10.53" fill="#ececff"/>
<rect x="470.70" y="507.00" width="1.56" height="10.53" fill="#f4f4ff"/>
<rect x="470.70" y="517.47" width="1.56" height="10.53" fill="#f3f3ff"/>
<rect x="470.70" y="527.94" width="1.56" height="10.53" fill="#e3e3ff"/>
<rect x="470.70" y="538.41" width="1.56" height="10.53" fill="#bbbbff"/>
<rect x="470.70" y="548.88" width="1.56" height="10.53" fill="#e6e6ff"/>
<rect x="470.70" y="559.35" width="1.56" height="10.53" fill="#ededff"/>
<rect x="470.70" y="569.82" width="1.56" height="10.53" fill="#ededff"/>
<rect x="470.70" y="580.29" width="1.56" height="10.53" fill="#e4e4ff"/>
<rect x="470.70" y="590.76" width="1.56" height="10.53" fill="#eeeeff"/>
<rect x="470.70" y="601.23" width="1.56" height="10.53" fill="#ffc8c8"/>
<rect x="470.70" y="611.70" width="1.56" height="10.53" fill="#fffdfd"/>
<rect x="470.70" y="622.17" width="1.56" height="10.53" fill="#f8f8ff"/>
<rect x="470.70" y="632.64" width="1.56" height="10.53" fill="#f5f5ff"/>
<rect x="470.70" y="643.11" width="1.56" height="10.53" fill="#ebebff"/>
<rect x="470.70" y="653.58" width="1.56" height="10.53" fill="#f0f0ff"/>
<rect x="470.70" y="664.05" width="1.56" height="10.53" fill="#f4f4ff"/>
<rect x="470.70" y="674.52" width="1.56" height="10.53" fill="#fdfdff"/>
<rect x="470.70" y="684.99" width="1.56" height="10.53" fill="#ffeded"/>
<rect x="472.20" y="507.00" width="1.56" height="10.53" fill="#ffe0e0"/>
<rect x="472.20" y="517.47" width="1.56" height="10.53" fill="#ffecec"/>
<rect x="472.20" y="527.94" width="1.56" height="10.53" fill="#fdfdff"/>
<rect x="472.20" y="538.41" width="1.56" height="10.53" fill="#ececff"/>
<rect x="472.20" y="548.88" width="1.56" height="10.53" fill="#fefeff"/>
<rect x="472.20" y="559.35" width="1.56" height="10.53" fill="#fffefe"/>
<rect x="472.20" y="569.82" width="1.56" height="10.53" fill="#fff6f6"/>
<rect x="472.20" y="580.29" width="1.56" height="10.53" fill="#ededff"/>
<rect x="472.20" y="590.76" width="1.56" height="10.53" fill="#fffafa"/>
<rect x="472.20" y="601.23" width="1.56" height="10.53" fill="#ebebff"/>
<rect x="472.20" y="611.70" width="1.56" height="10.53" fill="#ffeaea"/>
<rect x="472.20" y="622.17" width="1.56" height="10.53" fill="#fefeff"/>
<rect x="472.20" y="632.64" width="1.56" height="10.53" fill="#cacaff"/>
<rect x="472.20" y="643.11" width="1.56" height="10.53" fill="#f3f3ff"/>
<rect x="472.20" y="653.58" width="1.56" height="10.53" fill="#eeeeff"/>
<rect x="472.20" y="664.05" width="1.56" height="10.53" fill="#fff6f6"/>
<rect x="472.20" y="674.52" width="1.56" height="10.53" fill="#eeeeff"/>
<rect x="472.20" y="684.99" width="1.56" height="10.53" fill="#f3f3ff"/>
<rect x="473.70" y="507.00" width="1.56" height="10.53" fill="#ffc9c9"/>
<rect x="473.70" y="517.47" width="1.56" height="10.53" fill="#ffdddd"/>
<rect x="473.70" y="527.94" width="1.56" height="10.53" fill="#fffafa"/>
<rect x="473.70" y="538.41" width="1.56" height="10.53" fill="#d9d9ff"/>
<rect x="473.70" y="548.88" width="1.56" height="10.53" fill="#e5e5ff"/>
<rect x="473.70" y="559.35" width="1.56" height="10.53" fill="#afafff"/>
<rect x="473.70" y="569.82" width="1.56" height="10.53" fill="#ffeaea"/>
<rect x="473.70" y="580.29" width="1.56" height="10.53" fill="#fffafa"/>
<rect x="473.70" y="590.76" width="1.56" height="10.53" fill="#ffcdcd"/>
<rect x="473.70" y="601.23" width="1.56" height="10.53" fill="#ffebeb"/>
<rect x="473.70" y="611.70" width="1.56" height="10.53" fill="#ffefef"/>
<rect x="473.70" y="622.17" width="1.56" height="10.53" fill="#fafaff"/>
<rect x="473.70" y="632.64" width="1.56" height="10.53" fill="#fdfdff"/>
<rect x="473.70" y="643.11" width="1.56" height="10.53" fill="#dbdbff"/>
<rect x="473.70" y="653.58" width="1.56" height="10.53" fill="#fbfbff"/>
<rect x="473.70" y="664.05" width="1.56" height="10.53" fill="#fcfcff"/>
<rect x="473.70" y="674.52" width="1.56" height="10.53" fill="#fff6f6"/>
<rect x="473.70" y="684.99" width="1.56" height="10.53" fill="#c6c6ff"/>
<rect x="475.20" y="507.00" width="2.06" height="10.53" fill="#ffd9d9"/>
<rect x="475.20" y="517.47" width="2.06" height="10.53" fill="#fff8f8"/>
<rect x="475.20" y="527.94" width="2.06" height="10.53" fill="#fffbfb"/>
<rect x="475.20" y="538.41" width="2.06" height="10.53" fill="#e9e9ff"/>
<rect x="475.20" y="548.88" width="2.06" height="10.53" fill="#fff5f5"/>
<rect x="475.20" y="559.35" width="2.06" height="10.53" fill="#e8e8ff"/>
<rect x="475.20" y="569.82" width="2.06" height="10.53" fill="#e9e9ff"/>
<rect x="475.20" y="580.29" width="2.06" height="10.53" fill="#ffe9e9"/>
<rect x="475.20" y="590.76" width="2.06" height="10.53" fill="#fffefe"/>
<rect x="475.20" y="601.23" width="2.06" height="10.53" fill="#f2f2ff"/>
<rect x="475.20" y="611.70" width="2.06" height="10.53" fill="#fff5f5"/>
<rect x="475.20" y="622.17" width="2.06" height="10.53" fill="#ceceff"/>
<rect x="475.20" y="632.64" width="2.06" height="10.53" fill="#fff8f8"/>
<rect x="475.20" y="643.11" width="2.06" height="10.53" fill="#fffdfd"/>
<rect x="475.20" y="653.58" width="2.06" height="10.53" fill="#fff0f0"/>
<rect x="475.20" y="664.05" width="2.06" height="10.53" fill="#efefff"/>
<rect x="475.20" y="674.52" width="2.06" height="10.53" fill="#b9b9ff"/>
<rect x="475.20" y="684.99" width="2.06" height="10.53" fill="#f1f1ff"/>
<rect x="477.20" y="507.00" width="1.06" height="10.53" fill="#ffd8d8"/>
<rect x="477.20" y="517.47" width="1.06" height="10.53" fill="#f3f3ff"/>
<rect x="477.20" y="527.94" width="1.06" height="10.53" fill="#e1e1ff"/>
<rect x="477.20" y="538.41" width="1.06" height="10.53" fill="#f9f9ff"/>
<rect x="477.20" y="548.88" width="1.06" height="10.53" fill="#f6f6ff"/>
<rect x="477.20" y="559.35" width="1.06" height="10.53" fill="#fff4f4"/>
<rect x="477.20" y="569.82" width="1.06" height="10.53" fill="#f9f9ff"/>
<rect x="477.20" y="580.29" width="1.06" height="10.53" fill="#e9e9ff"/>
<rect x="477.20" y="590.76" width="1.06" height="10.53" fill="#ffcece"/>
<rect x="477.20" y="601.23" width="1.06" height="10.53" fill="#f6f6ff"/>
<rect x="477.20" y="611.70" width="1.06" height="10.53" fill="#ffeeee"/>
<rect x="477.20" y="622.17" width="1.06" height="10.53" fill="#ffe9e9"/>
<rect x="477.20" y="632.64" width="1.06" height="10.53" fill="#fff8f8"/>
<rect x="477.20" y="643.11" width="1.06" height="10.53" fill="#b8b8ff"/>
<rect x="477.20" y="653.58" width="1.06" height="10.53" fill="#e1e1ff"/>
<rect x="477.20" y="664.05" width="1.06" height="10.53" fill="#e8e8ff"/>
<rect x="477.20" y="674.52" width="1.06" height="10.53" fill="#e6e6ff"/>
<rect x="477.20" y="684.99" width="1.06" height="10.53" fill="#d3d3ff"/>
<rect x="478.20" y="507.00" width="1.56" height="10.53" fill="#ffe3e3"/>
<rect x="478.20" y="517.47" width="1.56" height="10.53" fill="#ffeaea"/>
<rect x="478.20" y="527.94" width="1.56" height="10.53" fill="#ffbdbd"/>
<rect x="478.20" y="538.41" width="1.56" height="10.53" fill="#e3e3ff"/>
<rect x="478.20" y="548.88" width="1.56" height="10.53" fill="#d2d2ff"/>
<rect x="478.20" y="559.35" width="1.56" height="10.53" fill="#e9e9ff"/>
<rect x="478.20" y="569.82" width="1.56" height="10.53" fill="#ebebff"/>
<rect x="478.20" y="580.29" width="1.56" height="10.53" fill="#eaeaff"/>
<rect x="478.20" y="590.76" width="1.56" height="10.53" fill="#e5e5ff"/>
<rect x="478.20" y="601.23" width="1.56" height="10.53" fill="#9d9dff"/>
<rect x="478.20" y="611.70" width="1.56" height="10.53" fill="#cdcdff"/>
<rect x="478.20" y="622.17" width="1.56" height="10.53" fill="#e4e4ff"/>
<rect x="478.20" y="632.64" width="1.56" height="10.53" fill="#dbdbff"/>
<rect x="478.20" y="643.11" width="1.56" height="10.53" fill="#b8b8ff"/>
<rect x="478.20" y="653.58" width="1.56" height="10.53" fill="#e4e4ff"/>
<rect x="478.20" y="664.05" width="1.56" height="10.53" fill="#d1d1ff"/>
<rect x="478.20" y="674.52" width="1.56" height="10.53" fill="#fffcfc"/>
<rect x="478.20" y="684.99" width="1.56" height="10.53" fill="#f3f3ff"/>
<rect x="479.70" y="507.00" width="1.06" height="10.53" fill="#ffcbcb"/>
<rect x="479.70" y="517.47" width="1.06" height="10.53" fill="#ffc8c8"/>
<rect x="479.70" y="527.94" width="1.06" height="10.53" fill="#a7a7ff"/>
<rect x="479.70" y="538.41" width="1.06" height="10.53" fill="#b8b8ff"/>
<rect x="479.70" y="548.88" width="1.06" height="10.53" fill="#cfcfff"/>
<rect x="479.70" y="559.35" width="1.06" height="10.53" fill="#f0f0ff"/>
<rect x="479.70" y="569.82" width="1.06" height="10.53" fill="#bcbcff"/>
<rect x="479.70" y="580.29" width="1.06" height="10.53" fill="#7f7fff"/>
<rect x="479.70" y="590.76" width="1.06" height="10.53" fill="#fffbfb"/>
<rect x="479.70" y="601.23" width="1.06" height="10.53" fill="#d0d0ff"/>
<rect x="479.70" y="611.70" width="1.06" height="10.53" fill="#b6b6ff"/>
<rect x="479.70" y="622.17" width="1.06" height="10.53" fill="#b0b0ff"/>
<rect x="479.70" y="632.64" width="1.06" height="10.53" fill="#a3a3ff"/>
<rect x="479.70" y="643.11" width="1.06" height="10.53" fill="#c6c6ff"/>
<rect x="479.70" y="653.58" width="1.06" height="10.53" fill="#e9e9ff"/>
<rect x="479.70" y="664.05" width="1.06" height="10.53" fill="#d1d1ff"/>
<rect x="479.70" y="674.52" width="1.06" height="10.53" fill="#d3d3ff"/>
<rect x="479.70" y="684.99" width="1.06" height="10.53" fill="#c9c9ff"/>
<rect x="480.70" y="507.00" width="2.06" height="10.53" fill="#ffd5d5"/>
<rect x="480.70" y="517.47" width="2.06" height="10.53" fill="#ffeeee"/>
<rect x="480.70" y="527.94" width="2.06" height="10.53" fill="#e2e2ff"/>
<rect x="480.70" y="538.41" width="2.06" height="10.53" fill="#b2b2ff"/>
<rect x="480.70" y="548.88" width="2.06" height="10.53" fill="#f0f0ff"/>
<rect x="480.70" y="559.35" width="2.06" height="10.53" fill="#f5f5ff"/>
<rect x="480.70" y="569.82" width="2.06" height="10.53" fill="#e7e7ff"/>
<rect x="480.70" y="580.29" width="2.06" height="10.53" fill="#dbdbff"/>
<rect x="480.70" y="590.76" width="2.06" height="10.53" fill="#f0f0ff"/>
<rect x="480.70" y="601.23" width="2.06" height="10.53" fill="#d7d7ff"/>
<rect x="480.70" y="611.70" width="2.06" height="10.53" fill="#d5d5ff"/>
<rect x="480.70" y="622.17" width="2.06" height="10.53" fill="#ebebff"/>
<rect x="480.70" y="632.64" width="2.06" height="10.53" fill="#e7e7ff"/>
<rect x="480.70" y="643.11" width="2.06" height="10.53" fill="#ffacac"/>
<rect x="480.70" y="653.58" width="2.06" height="10.53" fill="#adadff"/>
<rect x="480.70" y="664.05" width="2.06" height="10.53" fill="#d4d4ff"/>
<rect x="480.70" y="674.52" width="2.06" height="10.53" fill="#efefff"/>
<rect x="480.70" y="684.99" width="2.06" height="10.53" fill="#d1d1ff"/>
<rect x="482.70" y="507.00" width="1.06" height="10.53" fill="#ffebeb"/>
<rect x="482.70" y="517.47" width="1.06" height="10.53" fill="#fdfdff"/>
<rect x="482.70" y="527.94" width="1.06" height="10.53" fill="#fff9f9"/>
<rect x="482.70" y="538.41" width="1.06" height="10.53" fill="#dcdcff"/>
<rect x="482.70" y="548.88" width="1.06" height="10.53" fill="#fffdfd"/>
<rect x="482.70" y="559.35" width="1.06" height="10.53" fill="#d9d9ff"/>
<rect x="482.70" y="569.82" width="1.06" height="10.53" fill="#fff0f0"/>
<rect x="482.70" y="580.29" width="1.06" height="10.53" fill="#ededff"/>
<rect x="482.70" y="590.76" width="1.06" height="10.53" fill="#fff8f8"/>
<rect x="482.70" y="601.23" width="1.06" height="10.53" fill="#f5f5ff"/>
<rect x="482.70" y="611.70" width="1.06" height="10.53" fill="#f7f7ff"/>
<rect x="482.70" y="622.17" width="1.06" height="10.53" fill="#ceceff"/>
<rect x="482.70" y="632.64" width="1.06" height="10.53" fill="#fbfbff"/>
<rect x="482.70" y="643.11" width="1.06" height="10.53" fill="#f1f1ff"/>
<rect x="482.70" y="653.58" width="1.06" height="10.53" fill="#c5c5ff"/>
<rect x="482.70" y="664.05" width="1.06" height="10.53" fill="#dbdbff"/>
<rect x="482.70" y="674.52" width="1.06" height="10.53" fill="#eaeaff"/>
<rect x="482.70" y="684.99" width="1.06" height="10.53" fill="#fcfcff"/>
<rect x="483.70" y="507.00" width="1.56" height="10.53" fill="#ffcaca"/>
<rect x="483.70" y="517.47" width="1.56" height="10.53" fill="#fff4f4"/>
<rect x="483.70" y="527.94" width="1.56" height="10.53" fill="#e0e0ff"/>
<rect x="483.70" y="538.41" width="1.56" height="10.53" fill="#e7e7ff"/>
<rect x="483.70" y="548.88" width="1.56" height="10.53" fill="#f5f5ff"/>
<rect x="483.70" y="559.35" width="1.56" height="10.53" fill="#dbdbff"/>
<rect x="483.70" y="569.82" width="1.56" height="10.53" fill="#fffcfc"/>
<rect x="483.70" y="580.29" width="1.56" height="10.53" fill="#efefff"/>
<rect x="483.70" y="590.76" width="1.56" height="10.53" fill="#ffd0d0"/>
<rect x="483.70" y="601.23" width="1.56" height="10.53" fill="#f3f3ff"/>
<rect x="483.70" y="611.70" width="1.56" height="10.53" fill="#ffeeee"/>
<rect x="483.70" y="622.17" width="1.56" height="10.53" fill="#f1f1ff"/>
<rect x="483.70" y="632.64" width="1.56" height="10.53" fill="#fdfdff"/>
<rect x="483.70" y="643.11" width="1.56" height="10.53" fill="#ffc5c5"/>
<rect x="483.70" y="653.58" width="1.56" height="10.53" fill="#fffafa"/>
<rect x="483.70" y="664.05" width="1.56" height="10.53" fill="#f5f5ff"/>
<rect x="483.70" y="674.52" width="1.56" height="10.53" fill="#fff7f7"/>
<rect x="483.70" y="684.99" width="1.56" height="10.53" fill="#d9d9ff"/>
<rect x="485.20" y="507.00" width="2.06" height="10.53" fill="#ffcfcf"/>
<rect x="485.20" y="517.47" width="2.06" height="10.53" fill="#ffcbcb"/>
<rect x="485.20" y="527.94" width="2.06" height="10.53" fill="#e4e4ff"/>
<rect x="485.20" y="538.41" width="2.06" height="10.53" fill="#e3e3ff"/>
<rect x="485.20" y="548.88" width="2.06" height="10.53" fill="#cacaff"/>
<rect x="485.20" y="559.35" width="2.06" height="10.53" fill="#c7c7ff"/>
<rect x="485.20" y="569.82" width="2.06" height="10.53" fill="#d5d5ff"/>
<rect x="485.20" y="580.29" width="2.06" height="10.53" fill="#babaff"/>
<rect x="485.20" y="590.76" width="2.06" height="10.53" fill="#fff0f0"/>
<rect x="485.20" y="601.23" width="2.06" height="10.53" fill="#dedeff"/>
<rect x="485.20" y="611.70" width="2.06" height="10.53" fill="#ceceff"/>
<rect x="485.20" y="622.17" width="2.06" height="10.53" fill="#d5d5ff"/>
<rect x="485.20" y="632.64" width="2.06" height="10.53" fill="#aaaaff"/>
<rect x="485.20" y="643.11" width="2.06" height="10.53" fill="#dcdcff"/>
<rect x="485.20" y="653.58" width="2.06" height="10.53" fill="#d0d0ff"/>
<rect x="485.20" y="664.05" width="2.06" height="10.53" fill="#aeaeff"/>
<rect x="485.20" y="674.52" width="2.06" height="10.53" fill="#c4c4ff"/>
<rect x="485.20" y="684.99" width="2.06" height="10.53" fill="#bfbfff"/>
<rect x="487.20" y="507.00" width="2.06" height="10.53" fill="#ffd2d2"/>
<rect x="487.20" y="517.47" width="2.06" height="10.53" fill="#fffafa"/>
<rect x="487.20" y="527.94" width="2.06" height="10.53" fill="#ffacac"/>
<rect x="487.20" y="538.41" width="2.06" height="10.53" fill="#ddddff"/>
<rect x="487.20" y="548.88" width="2.06" height="10.53" fill="#d1d1ff"/>
<rect x="487.20" y="559.35" width="2.06" height="10.53" fill="#e4e4ff"/>
<rect x="487.20" y="569.82" width="2.06" height="10.53" fill="#fff3f3"/>
<rect x="487.20" y="580.29" width="2.06" height="10.53" fill="#f8f8ff"/>
<rect x="487.20" y="590.76" width="2.06" height="10.53" fill="#ffeeee"/>
<rect x="487.20" y="601.23" width="2.06" height="10.53" fill="#e5e5ff"/>
<rect x="487.20" y="611.70" width="2.06" height="10.53" fill="#f0f0ff"/>
<rect x="487.20" y="622.17" width="2.06" height="10.53" fill="#f8f8ff"/>
<rect x="487.20" y="632.64" width="2.06" height="10.53" fill="#f9f9ff"/>
<rect x="487.20" y="643.11" width="2.06" height="10.53" fill="#d3d3ff"/>
<rect x="487.20" y="653.58" width="2.06" height="10.53" fill="#fcfcff"/>
<rect x="487.20" y="664.05" width="2.06" height="10.53" fill="#e0e0ff"/>
<rect x="487.20" y="674.52" width="2.06" height="10.53" fill="#d2d2ff"/>
<rect x="487.20" y="684.99" width="2.06" height="10.53" fill="#fcfcff"/>
<rect x="489.20" y="507.00" width="1.06" height="10.53" fill="#f9f9ff"/>
<rect x="489.20" y="517.47" width="1.06" height="10.53" fill="#ffcccc"/>
<rect x="489.20" y="527.94" width="1.06" height="10.53" fill="#e0e0ff"/>
<rect x="489.20" y="538.41" width="1.06" height="10.53" fill="#ececff"/>
<rect x="489.20" y="548.88" width="1.06" height="10.53" fill="#f3f3ff"/>
<rect x="489.20" y="559.35" width="1.06" height="10.53" fill="#e3e3ff"/>
<rect x="489.20" y="569.82" width="1.06" height="10.53" fill="#fff9f9"/>
<rect x="489.20" y="580.29" width="1.06" height="10.53" fill="#fafaff"/>
<rect x="489.20" y="590.76" width="1.06" height="10.53" fill="#ffe9e9"/>
<rect x="489.20" y="601.23" width="1.06" height="10.53" fill="#fffdfd"/>
<rect x="489.20" y="611.70" width="1.06" height="10.53" fill="#ffffff"/>
<rect x="489.20" y="622.17" width="1.06" height="10.53" fill="#b8b8ff"/>
<rect x="489.20" y="632.64" width="1.06" height="10.53" fill="#ebebff"/>
<rect x="489.20" y="643.11" width="1.06" height="10.53" fill="#ebebff"/>
<rect x="489.20" y="653.58" width="1.06" height="10.53" fill="#c7c7ff"/>
<rect x="489.20" y="664.05" width="1.06" height="10.53" fill="#d3d3ff"/>
<rect x="489.20" y="674.52" width="1.06" height="10.53" fill="#f0f0ff"/>
<rect x="489.20" y="684.99" width="1.06" height="10.53" fill="#dedeff"/>
<rect x="490.20" y="507.00" width="1.06" height="10.53" fill="#fff1f1"/>
<rect x="490.20" y="517.47" width="1.06" height="10.53" fill="#fffbfb"/>
<rect x="490.20" y="527.94" width="1.06" height="10.53" fill="#ededff"/>
<rect x="490.20" y="538.41" width="1.06" height="10.53" fill="#e2e2ff"/>
<rect x="490.20" y="548.88" width="1.06" height="10.53" fill="#e7e7ff"/>
<rect x="490.20" y="559.35" width="1.06" height="10.53" fill="#e9e9ff"/>
<rect x="490.20" y="569.82" width="1.06" height="10.53" fill="#bdbdff"/>
<rect x="490.20" y="580.29" width="1.06" height="10.53" fill="#eeeeff"/>
<rect x="490.20" y="590.76" width="1.06" height="10.53" fill="#ffeeee"/>
<rect x="490.20" y="601.23" width="1.06" height="10.53" fill="#e7e7ff"/>
<rect x="490.20" y="611.70" width="1.06" height="10.53" fill="#fff3f3"/>
<rect x="490.20" y="622.17" width="1.06" height="10.53" fill="#b5b5ff"/>
<rect x="490.20" y="632.64" width="1.06" height="10.53" fill="#babaff"/>
<rect x="490.20" y="643.11" width="1.06" height="10.53" fill="#d4d4ff"/>
<rect x="490.20" y="653.58" width="1.06" height="10.53" fill="#efefff"/>
<rect x="490.20" y="664.05" width="1.06" height="10.53" fill="#ffc9c9"/>
<rect x="490.20" y="674.52" width="1.06" height="10.53" fill="#fffafa"/>
<rect x="490.20" y="684.99" width="1.06" height="10.53" fill="#dfdfff"/>
<rect x="491.20" y="507.00" width="1.06" height="10.53" fill="#ffe3e3"/>
<rect x="491.20" y="517.47" width="1.06" height="10.53" fill="#ededff"/>
<rect x="491.20" y="527.94" width="1.06" height="10.53" fill="#fffafa"/>
<rect x="491.20" y="538.41" width="1.06" height="10.53" fill="#b2b2ff"/>
<rect x="491.20" y="548.88" width="1.06" height="10.53" fill="#ededff"/>
<rect x="491.20" y="559.35" width="1.06" height="10.53" fill="#ffffff"/>
<rect x="491.20" y="569.82" width="1.06" height="10.53" fill="#ffc1c1"/>
<rect x="491.20" y="580.29" width="1.06" height="10.53" fill="#f5f5ff"/>
<rect x="491.20" y="590.76" width="1.06" height="10.53" fill="#fff6f6"/>
<rect x="491.20" y="601.23" width="1.06" height="10.53" fill="#ffd0d0"/>
<rect x="491.20" y="611.70" width="1.06" height="10.53" fill="#e7e7ff"/>
<rect x="491.20" y="622.17" width="1.06" height="10.53" fill="#eaeaff"/>
<rect x="491.20" y="632.64" width="1.06" height="10.53" fill="#fffcfc"/>
<rect x="491.20" y="643.11" width="1.06" height="10.53" fill="#f5f5ff"/>
<rect x="491.20" y="653.58" width="1.06" height="10.53" fill="#f1f1ff"/>
<rect x="491.20" y="664.05" width="1.06" height="10.53" fill="#cbcbff"/>
<rect x="491.20" y="674.52" width="1.06" height="10.53" fill="#fff1f1"/>
<rect x="491.20" y="684.99" width="1.06" height="10.53" fill="#ffeded"/>
<rect x="492.20" y="507.00" width="2.06" height="10.53" fill="#fff1f1"/>
<rect x="492.20" y="517.47" width="2.06" height="10.53" fill="#ffe8e8"/>
<rect x="492.20" y="527.94" width="2.06" height="10.53" fill="#ebebff"/>
<rect x="492.20" y="538.41" width="2.06" height="10.53" fill="#dadaff"/>
<rect x="492.20" y="548.88" width="2.06" height="10.53" fill="#f8f8ff"/>
<rect x="492.20" y="559.35" width="2.06" height="10.53" fill="#fefeff"/>
<rect x="492.20" y="569.82" width="2.06" height="10.53" fill="#e2e2ff"/>
<rect x="492.20" y="580.29" width="2.06" height="10.53" fill="#fff6f6"/>
<rect x="492.20" y="590.76" width="2.06" height="10.53" fill="#fffdfd"/>
<rect x="492.20" y="601.23" width="2.06" height="10.53" fill="#eeeeff"/>
<rect x="492.20" y="611.70" width="2.06" height="10.53" fill="#f9f9ff"/>
<rect x="492.20" y="622.17" width="2.06" height="10.53" fill="#d3d3ff"/>
<rect x="492.20" y="632.64" width="2.06" height="10.53" fill="#ffbebe"/>
<rect x="492.20" y="643.11" width="2.06" height="10.53" fill="#dedeff"/>
<rect x="492.20" y="653.58" width="2.06" height="10.53" fill="#ebebff"/>
<rect x="492.20" y="664.05" width="2.06" height="10.53" fill="#ffbcbc"/>
<rect x="492.20" y="674.52" width="2.06" height="10.53" fill="#d1d1ff"/>
<rect x="492.20" y="684.99" width="2.06" height="10.53" fill="#ececff"/>
<rect x="494.20" y="507.00" width="1.06" height="10.53" fill="#ffeaea"/>
<rect x="494.20" y="517.47" width="1.06" height="10.53" fill="#ffd5d5"/>
<rect x="494.20" y="527.94" width="1.06" height="10.53" fill="#d8d8ff"/>
<rect x="494.20" y="538.41" width="1.06" height="10.53" fill="#e5e5ff"/>
<rect x="494.20" y="548.88" width="1.06" height="10.53" fill="#ebebff"/>
<rect x="494.20" y="559.35" width="1.06" height="10.53" fill="#e6e6ff"/>
<rect x="494.20" y="569.82" width="1.06" height="10.53" fill="#fff7f7"/>
<rect x="494.20" y="580.29" width="1.06" height="10.53" fill="#c7c7ff"/>
<rect x="494.20" y="590.76" width="1.06" height="10.53" fill="#ffe1e1"/>
<rect x="494.20" y="601.23" width="1.06" height="10.53" fill="#e1e1ff"/>
<rect x="494.20" y="611.70" width="1.06" height="10.53" fill="#e0e0ff"/>
<rect x="494.20" y="622.17" width="1.06" height="10.53" fill="#f4f4ff"/>
<rect x="494.20" y="632.64" width="1.06" height="10.53" fill="#efefff"/>
<rect x="494.20" y="643.11" width="1.06" height="10.53" fill="#cfcfff"/>
<rect x="494.20" y="653.58" width="1.06" height="10.53" fill="#ffc1c1"/>
<rect x="494.20" y="664.05" width="1.06" height="10.53" fill="#d8d8ff"/>
<rect x="494.20" y="674.52" width="1.06" height="10.53" fill="#e3e3ff"/>
<rect x="494.20" y="684.99" width="1.06" height="10.53" fill="#efefff"/>
<rect x="495.20" y="507.00" width="1.06" height="10.53" fill="#ffd8d8"/>
<rect x="495.20" y="517.47" width="1.06" height="10.53" fill="#ffdede"/>
<rect x="495.20" y="527.94" width="1.06" height="10.53" fill="#ededff"/>
<rect x="495.20" y="538.41" width="1.06" height="10.53" fill="#d0d0ff"/>
<rect x="495.20" y="548.88" width="1.06" height="10.53" fill="#cfcfff"/>
<rect x="495.20" y="559.35" width="1.06" height="10.53" fill="#c2c2ff"/>
<rect x="495.20" y="569.82" width="1.06" height="10.53" fill="#ececff"/>
<rect x="495.20" y="580.29" width="1.06" height="10.53" fill="#bcbcff"/>
<rect x="495.20" y="590.76" width="1.06" height="10.53" fill="#eeeeff"/>
<rect x="495.20" y="601.23" width="1.06" height="10.53" fill="#dedeff"/>
<rect x="495.20" y="611.70" width="1.06" height="10.53" fill="#c0c0ff"/>
<rect x="495.20" y="622.17" width="1.06" height="10.53" fill="#8d8dff"/>
<rect x="495.20" y="632.64" width="1.06" height="10.53" fill="#e9e9ff"/>
<rect x="495.20" y="643.11" width="1.06" height="10.53" fill="#e7e7ff"/>
<rect x="495.20" y="653.58" width="1.06" height="10.53" fill="#d6d6ff"/>
<rect x="495.20" y="664.05" width="1.06" height="10.53" fill="#fcfcff"/>
<rect x="495.20" y="674.52" width="1.06" height="10.53" fill="#d3d3ff"/>
<rect x="495.20" y="684.99" width="1.06" height="10.53" fill="#cacaff"/>
<rect x="496.20" y="507.00" width="2.06" height="10.53" fill="#fdfdff"/>
<rect x="496.20" y="517.47" width="2.06" height="10.53" fill="#e8e8ff"/>
<rect x="496.20" y="527.94" width="2.06" height="10.53" fill="#e2e2ff"/>
<rect x="496.20" y="538.41" width="2.06" height="10.53" fill="#babaff"/>
<rect x="496.20" y="548.88" width="2.06" height="10.53" fill="#fff8f8"/>
<rect x="496.20" y="559.35" width="2.06" height="10.53" fill="#fff2f2"/>
<rect x="496.20" y="569.82" width="2.06" height="10.53" fill="#f3f3ff"/>
<rect x="496.20" y="580.29" width="2.06" height="10.53" fill="#eeeeff"/>
<rect x="496.20" y="590.76" width="2.06" height="10.53" fill="#ffbcbc"/>
<rect x="496.20" y="601.23" width="2.06" height="10.53" fill="#f2f2ff"/>
<rect x="496.20" y="611.70" width="2.06" height="10.53" fill="#fdfdff"/>
<rect x="496.20" y="622.17" width="2.06" height="10.53" fill="#ebebff"/>
<rect x="496.20" y="632.64" width="2.06" height="10.53" fill="#e9e9ff"/>
<rect x="496.20" y="643.11" width="2.06" height="10.53" fill="#eaeaff"/>
<rect x="496.20" y="653.58" width="2.06" height="10.53" fill="#dbdbff"/>
<rect x="496.20" y="664.05" width="2.06" height="10.53" fill="#f7f7ff"/>
<rect x="496.20" y="674.52" width="2.06" height="10.53" fill="#fffcfc"/>
<rect x="496.20" y="684.99" width="2.06" height="10.53" fill="#fff8f8"/>
<rect x="498.20" y="507.00" width="1.56" height="10.53" fill="#ffdada"/>
<rect x="498.20" y="517.47" width="1.56" height="10.53" fill="#ffe2e2"/>
<rect x="498.20" y="527.94" width="1.56" height="10.53" fill="#e4e4ff"/>
<rect x="498.20" y="538.41" width="1.56" height="10.53" fill="#dfdfff"/>
<rect x="498.20" y="548.88" width="1.56" height="10.53" fill="#b7b7ff"/>
<rect x="498.20" y="559.35" width="1.56" height="10.53" fill="#dbdbff"/>
<rect x="498.20" y="569.82" width="1.56" height="10.53" fill="#dadaff"/>
<rect x="498.20" y="580.29" width="1.56" height="10.53" fill="#c8c8ff"/>
<rect x="498.20" y="590.76" width="1.56" height="10.53" fill="#ebebff"/>
<rect x="498.20" y="601.23" width="1.56" height="10.53" fill="#f4f4ff"/>
<rect x="498.20" y="611.70" width="1.56" height="10.53" fill="#c9c9ff"/>
<rect x="498.20" y="622.17" width="1.56" height="10.53" fill="#cdcdff"/>
<rect x="498.20" y="632.64" width="1.56" height="10.53" fill="#efefff"/>
<rect x="498.20" y="643.11" width="1.56" height="10.53" fill="#e6e6ff"/>
<rect x="498.20" y="653.58" width="1.56" height="10.53" fill="#c7c7ff"/>
<rect x="498.20" y="664.05" width="1.56" height="10.53" fill="#ddddff"/>
<rect x="498.20" y="674.52" width="1.56" height="10.53" fill="#ffcece"/>
<rect x="498.20" y="684.99" width="1.56" height="10.53" fill="#d3d3ff"/>
<rect x="499.70" y="507.00" width="2.06" height="10.53" fill="#ffbdbd"/>
<rect x="499.70" y="517.47" width="2.06" height="10.53" fill="#fcfcff"/>
<rect x="499.70" y="527.94" width="2.06" height="10.53" fill="#efefff"/>
<rect x="499.70" y="538.41" width="2.06" height="10.53" fill="#c2c2ff"/>
<rect x="499.70" y="548.88" width="2.06" height="10.53" fill="#c2c2ff"/>
<rect x="499.70" y="559.35" width="2.06" height="10.53" fill="#cdcdff"/>
<rect x="499.70" y="569.82" width="2.06" height="10.53" fill="#e2e2ff"/>
<rect x="499.70" y="580.29" width="2.06" height="10.53" fill="#e4e4ff"/>
<rect x="499.70" y="590.76" width="2.06" height="10.53" fill="#ffffff"/>
<rect x="499.70" y="601.23" width="2.06" height="10.53" fill="#dedeff"/>
<rect x="499.70" y="611.70" width="2.06" height="10.53" fill="#dcdcff"/>
<rect x="499.70" y="622.17" width="2.06" height="10.53" fill="#f4f4ff"/>
<rect x="499.70" y="632.64" width="2.06" height="10.53" fill="#d7d7ff"/>
<rect x="499.70" y="643.11" width="2.06" height="10.53" fill="#c7c7ff"/>
<rect x="499.70" y="653.58" width="2.06" height="10.53" fill="#bfbfff"/>
<rect x="499.70" y="664.05" width="2.06" height="10.53" fill="#c7c7ff"/>
<rect x="499.70" y="674.52" width="2.06" height="10.53" fill="#cacaff"/>
<rect x="499.70" y="684.99" width="2.06" height="10.53" fill="#c3c3ff"/>
<rect x="501.70" y="507.00" width="2.06" height="10.53" fill="#ffd7d7"/>
<rect x="501.70" y="517.47" width="2.06" height="10.53" fill="#ffeaea"/>
<rect x="501.70" y="527.94" width="2.06" height="10.53" fill="#ccccff"/>
<rect x="501.70" y="538.41" width="2.06" height="10.53" fill="#d3d3ff"/>
<rect x="501.70" y="548.88" width="2.06" height="10.53" fill="#c5c5ff"/>
<rect x="501.70" y="559.35" width="2.06" height="10.53" fill="#ceceff"/>
<rect x="501.70" y="569.82" width="2.06" height="10.53" fill="#d1d1ff"/>
<rect x="501.70" y="580.29" width="2.06" height="10.53" fill="#d6d6ff"/>
<rect x="501.70" y="590.76" width="2.06" height="10.53" fill="#f1f1ff"/>
<rect x="501.70" y="601.23" width="2.06" height="10.53" fill="#c8c8ff"/>
<rect x="501.70" y="611.70" width="2.06" height="10.53" fill="#ddddff"/>
<rect x="501.70" y="622.17" width="2.06" height="10.53" fill="#bdbdff"/>
<rect x="501.70" y="632.64" width="2.06" height="10.53" fill="#bdbdff"/>
<rect x="501.70" y="643.11" width="2.06" height="10.53" fill="#bcbcff"/>
<rect x="501.70" y="653.58" width="2.06" height="10.53" fill="#cfcfff"/>
<rect x="501.70" y="664.05" width="2.06" height="10.53" fill="#d2d2ff"/>
<rect x="501.70" y="674.52" width="2.06" height="10.53" fill="#ebebff"/>
<rect x="501.70" y="684.99" width="2.06" height="10.53" fill="#b1b1ff"/>
<rect x="503.70" y="507.00" width="2.06" height="10.53" fill="#ffa5a5"/>
<rect x="503.70" y="517.47" width="2.06" height="10.53" fill="#ffeaea"/>
<rect x="503.70" y="527.94" width="2.06" height="10.53" fill="#e2e2ff"/>
<rect x="503.70" y="538.41" width="2.06" height="10.53" fill="#b5b5ff"/>
<rect x="503.70" y="548.88" width="2.06" height="10.53" fill="#fff4f4"/>
<rect x="503.70" y="559.35" width="2.06" height="10.53" fill="#c6c6ff"/>
<rect x="503.70" y="569.82" width="2.06" height="10.53" fill="#fbfbff"/>
<rect x="503.70" y="580.29" width="2.06" height="10.53" fill="#dbdbff"/>
<rect x="503.70" y="590.76" width="2.06" height="10.53" fill="#d5d5ff"/>
<rect x="503.70" y="601.23" width="2.06" height="10.53" fill="#b2b2ff"/>
<rect x="503.70" y="611.70" width="2.06" height="10.53" fill="#cfcfff"/>
<rect x="503.70" y="622.17" width="2.06" height="10.53" fill="#a5a5ff"/>
<rect x="503.70" y="632.64" width="2.06" height="10.53" fill="#dedeff"/>
<rect x="503.70" y="643.11" width="2.06" height="10.53" fill="#ceceff"/>
<rect x="503.70" y="653.58" width="2.06" height="10.53" fill="#c2c2ff"/>
<rect x="503.70" y="664.05" width="2.06" height="10.53" fill="#d1d1ff"/>
<rect x="503.70" y="674.52" width="2.06" height="10.53" fill="#d9d9ff"/>
<rect x="503.70" y="684.99" width="2.06" height="10.53" fill="#ceceff"/>
<rect x="505.70" y="507.00" width="1.56" height="10.53" fill="#e4e4ff"/>
<rect x="505.70" y="517.47" width="1.56" height="10.53" fill="#fff7f7"/>
<rect x="505.70" y="527.94" width="1.56" height="10.53" fill="#fff0f0"/>
<rect x="505.70" y="538.41" width="1.56" height="10.53" fill="#fff8f8"/>
<rect x="505.70" y="548.88" width="1.56" height="10.53" fill="#efefff"/>
<rect x="505.70" y="559.35" width="1.56" height="10.53" fill="#ffe7e7"/>
<rect x="505.70" y="569.82" width="1.56" height="10.53" fill="#f3f3ff"/>
<rect x="505.70" y="580.29" width="1.56" height="10.53" fill="#f4f4ff"/>
<rect x="505.70" y="590.76" width="1.56" height="10.53" fill="#ffe5e5"/>
<rect x="505.70" y="601.23" width="1.56" height="10.53" fill="#a6a6ff"/>
<rect x="505.70" y="611.70" width="1.56" height="10.53" fill="#fffafa"/>
<rect x="505.70" y="622.17" width="1.56" height="10.53" fill="#fefeff"/>
<rect x="505.70" y="632.64" width="1.56" height="10.53" fill="#e9e9ff"/>
<rect x="505.70" y="643.11" width="1.56" height="10.53" fill="#fffcfc"/>
<rect x="505.70" y="653.58" width="1.56" height="10.53" fill="#f4f4ff"/>
<rect x="505.70" y="664.05" width="1.56" height="10.53" fill="#f8f8ff"/>
<rect x="505.70" y="674.52" width="1.56" height="10.53" fill="#e7e7ff"/>
<rect x="505.70" y="684.99" width="1.56" height="10.53" fill="#e3e3ff"/>
<rect x="507.20" y="507.00" width="2.06" height="10.53" fill="#ffc5c5"/>
<rect x="507.20" y="517.47" width="2.06" height="10.53" fill="#dbdbff"/>
<rect x="507.20" y="527.94" width="2.06" height="10.53" fill="#f0f0ff"/>
<rect x="507.20" y="538.41" width="2.06" height="10.53" fill="#b9b9ff"/>
<rect x="507.20" y="548.88" width="2.06" height="10.53" fill="#e0e0ff"/>
<rect x="507.20" y="559.35" width="2.06" height="10.53" fill="#f3f3ff"/>
<rect x="507.20" y="569.82" width="2.06" height="10.53" fill="#f2f2ff"/>
<rect x="507.20" y="580.29" width="2.06" height="10.53" fill="#cacaff"/>
<rect x="507.20" y="590.76" width="2.06" height="10.53" fill="#ffe3e3"/>
<rect x="507.20" y="601.23" width="2.06" height="10.53" fill="#ececff"/>
<rect x="507.20" y="611.70" width="2.06" height="10.53" fill="#f2f2ff"/>
<rect x="507.20" y="622.17" width="2.06" height="10.53" fill="#f3f3ff"/>
<rect x="507.20" y="632.64" width="2.06" height="10.53" fill="#e0e0ff"/>
<rect x="507.20" y="643.11" width="2.06" height="10.53" fill="#d6d6ff"/>
<rect x="507.20" y="653.58" width="2.06" height="10.53" fill="#bebeff"/>
<rect x="507.20" y="664.05" width="2.06" height="10.53" fill="#e2e2ff"/>
<rect x="507.20" y="674.52" width="2.06" height="10.53" fill="#fcfcff"/>
<rect x="507.20" y="684.99" width="2.06" height="10.53" fill="#f8f8ff"/>
<rect x="509.20" y="507.00" width="1.56" height="10.53" fill="#ffcdcd"/>
<rect x="509.20" y="517.47" width="1.56" height="10.53" fill="#ffeaea"/>
<rect x="509.20" y="527.94" width="1.56" height="10.53" fill="#e1e1ff"/>
<rect x="509.20" y="538.41" width="1.56" height="10.53" fill="#c8c8ff"/>
<rect x="509.20" y="548.88" width="1.56" height="10.53" fill="#e3e3ff"/>
<rect x="509.20" y="559.35" width="1.56" height="10.53" fill="#f0f0ff"/>
<rect x="509.20" y="569.82" width="1.56" height="10.53" fill="#e8e8ff"/>
<rect x="509.20" y="580.29" width="1.56" height="10.53" fill="#b8b8ff"/>
<rect x="509.20" y="590.76" width="1.56" height="10.53" fill="#e5e5ff"/>
<rect x="509.20" y="601.23" width="1.56" height="10.53" fill="#a8a8ff"/>
<rect x="509.20" y="611.70" width="1.56" height="10.53" fill="#b1b1ff"/>
<rect x="509.20" y="622.17" width="1.56" height="10.53" fill="#d8d8ff"/>
<rect x="509.20" y="632.64" width="1.56" height="10.53" fill="#e1e1ff"/>
<rect x="509.20" y="643.11" width="1.56" height="10.53" fill="#c2c2ff"/>
<rect x="509.20" y="653.58" width="1.56" height="10.53" fill="#c9c9ff"/>
<rect x="509.20" y="664.05" width="1.56" height="10.53" fill="#babaff"/>
<rect x="509.20" y="674.52" width="1.56" height="10.53" fill="#b0b0ff"/>
<rect x="509.20" y="684.99" width="1.56" height="10.53" fill="#bfbfff"/>
<rect x="510.70" y="507.00" width="1.56" height="10.53" fill="#ffd0d0"/>
<rect x="510.70" y="517.47" width="1.56" height="10.53" fill="#ffecec"/>
<rect x="510.70" y="527.94" width="1.56" height="10.53" fill="#e6e6ff"/>
<rect x="510.70" y="538.41" width="1.56" height="10.53" fill="#f7f7ff"/>
<rect x="510.70" y="548.88" width="1.56" height="10.53" fill="#f4f4ff"/>
<rect x="510.70" y="559.35" width="1.56" height="10.53" fill="#e7e7ff"/>
<rect x="510.70" y="569.82" width="1.56" height="10.53" fill="#eeeeff"/>
<rect x="510.70" y="580.29" width="1.56" height="10.53" fill="#d5d5ff"/>
<rect x="510.70" y="590.76" width="1.56" height="10.53" fill="#ffd4d4"/>
<rect x="510.70" y="601.23" width="1.56" height="10.53" fill="#e6e6ff"/>
<rect x="510.70" y="611.70" width="1.56" height="10.53" fill="#e1e1ff"/>
<rect x="510.70" y="622.17" width="1.56" height="10.53" fill="#cbcbff"/>
<rect x="510.70" y="632.64" width="1.56" height="10.53" fill="#9292ff"/>
<rect x="510.70" y="643.11" width="1.56" height="10.53" fill="#e9e9ff"/>
<rect x="510.70" y="653.58" width="1.56" height="10.53" fill="#f1f1ff"/>
<rect x="510.70" y="664.05" width="1.56" height="10.53" fill="#b4b4ff"/>
<rect x="510.70" y="674.52" width="1.56" height="10.53" fill="#d4d4ff"/>
<rect x="510.70" y="684.99" width="1.56" height="10.53" fill="#f2f2ff"/>
<rect x="512.20" y="507.00" width="1.56" height="10.53" fill="#ffc7c7"/>
<rect x="512.20" y="517.47" width="1.56" height="10.53" fill="#ffcece"/>
<rect x="512.20" y="527.94" width="1.56" height="10.53" fill="#e5e5ff"/>
<rect x="512.20" y="538.41" width="1.56" height="10.53" fill="#ceceff"/>
<rect x="512.20" y="548.88" width="1.56" height="10.53" fill="#c5c5ff"/>
<rect x="512.20" y="559.35" width="1.56" height="10.53" fill="#d4d4ff"/>
<rect x="512.20" y="569.82" width="1.56" height="10.53" fill="#ceceff"/>
<rect x="512.20" y="580.29" width="1.56" height="10.53" fill="#b6b6ff"/>
<rect x="512.20" y="590.76" width="1.56" height="10.53" fill="#ededff"/>
<rect x="512.20" y="601.23" width="1.56" height="10.53" fill="#ddddff"/>
<rect x="512.20" y="611.70" width="1.56" height="10.53" fill="#bcbcff"/>
<rect x="512.20" y="622.17" width="1.56" height="10.53" fill="#c9c9ff"/>
<rect x="512.20" y="632.64" width="1.56" height="10.53" fill="#b6b6ff"/>
<rect x="512.20" y="643.11" width="1.56" height="10.53" fill="#c0c0ff"/>
<rect x="512.20" y="653.58" width="1.56" height="10.53" fill="#b4b4ff"/>
<rect x="512.20" y="664.05" width="1.56" height="10.53" fill="#d0d0ff"/>
<rect x="512.20" y="674.52" width="1.56" height="10.53" fill="#d9d9ff"/>
<rect x="512.20" y="684.99" width="1.56" height="10.53" fill="#bebeff"/>
<rect x="513.70" y="507.00" width="2.06" height="10.53" fill="#ffd9d9"/>
<rect x="513.70" y="517.47" width="2.06" height="10.53" fill="#fff4f4"/>
<rect x="513.70" y="527.94" width="2.06" height="10.53" fill="#fffbfb"/>
<rect x="513.70" y="538.41" width="2.06" height="10.53" fill="#fffafa"/>
<rect x="513.70" y="548.88" width="2.06" height="10.53" fill="#f0f0ff"/>
<rect x="513.70" y="559.35" width="2.06" height="10.53" fill="#dbdbff"/>
<rect x="513.70" y="569.82" width="2.06" height="10.53" fill="#f1f1ff"/>
<rect x="513.70" y="580.29" width="2.06" height="10.53" fill="#d7d7ff"/>
<rect x="513.70" y="590.76" width="2.06" height="10.53" fill="#ebebff"/>
<rect x="513.70" y="601.23" width="2.06" height="10.53" fill="#d2d2ff"/>
<rect x="513.70" y="611.70" width="2.06" height="10.53" fill="#bdbdff"/>
<rect x="513.70" y="622.17" width="2.06" height="10.53" fill="#ceceff"/>
<rect x="513.70" y="632.64" width="2.06" height="10.53" fill="#e1e1ff"/>
<rect x="513.70" y="643.11" width="2.06" height="10.53" fill="#ededff"/>
<rect x="513.70" y="653.58" width="2.06" height="10.53" fill="#ceceff"/>
<rect x="513.70" y="664.05" width="2.06" height="10.53" fill="#ececff"/>
<rect x="513.70" y="674.52" width="2.06" height="10.53" fill="#dcdcff"/>
<rect x="513.70" y="684.99" width="2.06" height="10.53" fill="#f5f5ff"/>
<rect x="515.70" y="507.00" width="1.56" height="10.53" fill="#fff5f5"/>
<rect x="515.70" y="517.47" width="1.56" height="10.53" fill="#d6d6ff"/>
<rect x="515.70" y="527.94" width="1.56" height="10.53" fill="#f9f9ff"/>
<rect x="515.70" y="538.41" width="1.56" height="10.53" fill="#f9f9ff"/>
<rect x="515.70" y="548.88" width="1.56" height="10.53" fill="#ececff"/>
<rect x="515.70" y="559.35" width="1.56" height="10.53" fill="#f9f9ff"/>
<rect x="515.70" y="569.82" width="1.56" height="10.53" fill="#fff9f9"/>
<rect x="515.70" y="580.29" width="1.56" height="10.53" fill="#fffafa"/>
<rect x="515.70" y="590.76" width="1.56" height="10.53" fill="#ffeded"/>
<rect x="515.70" y="601.23" width="1.56" height="10.53" fill="#f2f2ff"/>
<rect x="515.70" y="611.70" width="1.56" height="10.53" fill="#fffafa"/>
<rect x="515.70" y="622.17" width="1.56" height="10.53" fill="#fcfcff"/>
<rect x="515.70" y="632.64" width="1.56" height="10.53" fill="#cbcbff"/>
<rect x="515.70" y="643.11" width="1.56" height="10.53" fill="#f3f3ff"/>
<rect x="515.70" y="653.58" width="1.56" height="10.53" fill="#fafaff"/>
<rect x="515.70" y="664.05" width="1.56" height="10.53" fill="#f1f1ff"/>
<rect x="515.70" y="674.52" width="1.56" height="10.53" fill="#ffafaf"/>
<rect x="515.70" y="684.99" width="1.56" height="10.53" fill="#fff8f8"/>
<rect x="517.20" y="507.00" width="1.06" height="10.53" fill="#ffe9e9"/>
<rect x="517.20" y="517.47" width="1.06" height="10.53" fill="#fff0f0"/>
<rect x="517.20" y="527.94" width="1.06" height="10.53" fill="#fcfcff"/>
<rect x="517.20" y="538.41" width="1.06" height="10.53" fill="#fff7f7"/>
<rect x="517.20" y="548.88" width="1.06" height="10.53" fill="#dedeff"/>
<rect x="517.20" y="559.35" width="1.06" height="10.53" fill="#fcfcff"/>
<rect x="517.20" y="569.82" width="1.06" height="10.53" fill="#fff8f8"/>
<rect x="517.20" y="580.29" width="1.06" height="10.53" fill="#b4b4ff"/>
<rect x="517.20" y="590.76" width="1.06" height="10.53" fill="#f8f8ff"/>
<rect x="517.20" y="601.23" width="1.06" height="10.53" fill="#f1f1ff"/>
<rect x="517.20" y="611.70" width="1.06" height="10.53" fill="#f6f6ff"/>
<rect x="517.20" y="622.17" width="1.06" height="10.53" fill="#f8f8ff"/>
<rect x="517.20" y="632.64" width="1.06" height="10.53" fill="#e7e7ff"/>
<rect x="517.20" y="643.11" width="1.06" height="10.53" fill="#ffdada"/>
<rect x="517.20" y="653.58" width="1.06" height="10.53" fill="#eaeaff"/>
<rect x="517.20" y="664.05" width="1.06" height="10.53" fill="#f4f4ff"/>
<rect x="517.20" y="674.52" width="1.06" height="10.53" fill="#f7f7ff"/>
<rect x="517.20" y="684.99" width="1.06" height="10.53" fill="#c7c7ff"/>
<rect x="518.20" y="507.00" width="2.06" height="10.53" fill="#ffc5c5"/>
<rect x="518.20" y="517.47" width="2.06" height="10.53" fill="#fff4f4"/>
<rect x="518.20" y="527.94" width="2.06" height="10.53" fill="#f4f4ff"/>
<rect x="518.20" y="538.41" width="2.06" height="10.53" fill="#ffffff"/>
<rect x="518.20" y="548.88" width="2.06" height="10.53" fill="#dadaff"/>
<rect x="518.20" y="559.35" width="2.06" height="10.53" fill="#d1d1ff"/>
<rect x="518.20" y="569.82" width="2.06" height="10.53" fill="#e5e5ff"/>
<rect x="518.20" y="580.29" width="2.06" height="10.53" fill="#dcdcff"/>
<rect x="518.20" y="590.76" width="2.06" height="10.53" fill="#fafaff"/>
<rect x="518.20" y="601.23" width="2.06" height="10.53" fill="#d9d9ff"/>
<rect x="518.20" y="611.70" width="2.06" height="10.53" fill="#e5e5ff"/>
<rect x="518.20" y="622.17" width="2.06" height="10.53" fill="#d4d4ff"/>
<rect x="518.20" y="632.64" width="2.06" height="10.53" fill="#ededff"/>
<rect x="518.20" y="643.11" width="2.06" height="10.53" fill="#cacaff"/>
<rect x="518.20" y="653.58" width="2.06" height="10.53" fill="#d6d6ff"/>
<rect x="518.20" y="664.05" width="2.06" height="10.53" fill="#e9e9ff"/>
<rect x="518.20" y="674.52" width="2.06" height="10.53" fill="#ededff"/>
<rect x="518.20" y="684.99" width="2.06" height="10.53" fill="#c5c5ff"/>
<rect x="520.20" y="507.00" width="2.06" height="10.53" fill="#ffc1c1"/>
<rect x="520.20" y="517.47" width="2.06" height="10.53" fill="#ffdddd"/>
<rect x="520.20" y="527.94" width="2.06" height="10.53" fill="#ededff"/>
<rect x="520.20" y="538.41" width="2.06" height="10.53" fill="#bebeff"/>
<rect x="520.20" y="548.88" width="2.06" height="10.53" fill="#dbdbff"/>
<rect x="520.20" y="559.35" width="2.06" height="10.53" fill="#cbcbff"/>
<rect x="520.20" y="569.82" width="2.06" height="10.53" fill="#cdcdff"/>
<rect x="520.20" y="580.29" width="2.06" height="10.53" fill="#ccccff"/>
<rect x="520.20" y="590.76" width="2.06" height="10.53" fill="#c0c0ff"/>
<rect x="520.20" y="601.23" width="2.06" height="10.53" fill="#d7d7ff"/>
<rect x="520.20" y="611.70" width="2.06" height="10.53" fill="#e3e3ff"/>
<rect x="520.20" y="622.17" width="2.06" height="10.53" fill="#c3c3ff"/>
<rect x="520.20" y="632.64" width="2.06" height="10.53" fill="#ececff"/>
<rect x="520.20" y="643.11" width="2.06" height="10.53" fill="#c5c5ff"/>
<rect x="520.20" y="653.58" width="2.06" height="10.53" fill="#cdcdff"/>
<rect x="520.20" y="664.05" width="2.06" height="10.53" fill="#e5e5ff"/>
<rect x="520.20" y="674.52" width="2.06" height="10.53" fill="#c1c1ff"/>
<rect x="520.20" y="684.99" width="2.06" height="10.53" fill="#dadaff"/>
<rect x="522.20" y="507.00" width="1.56" height="10.53" fill="#ffefef"/>
<rect x="522.20" y="517.47" width="1.56" height="10.53" fill="#f3f3ff"/>
<rect x="522.20" y="527.94" width="1.56" height="10.53" fill="#f7f7ff"/>
<rect x="522.20" y="538.41" width="1.56" height="10.53" fill="#7d7dff"/>
<rect x="522.20" y="548.88" width="1.56" height="10.53" fill="#dadaff"/>
<rect x="522.20" y="559.35" width="1.56" height="10.53" fill="#fff8f8"/>
<rect x="522.20" y="569.82" width="1.56" height="10.53" fill="#dbdbff"/>
<rect x="522.20" y="580.29" width="1.56" height="10.53" fill="#d1d1ff"/>
<rect x="522.20" y="590.76" width="1.56" height="10.53" fill="#fefeff"/>
<rect x="522.20" y="601.23" width="1.56" height="10.53" fill="#cbcbff"/>
<rect x="522.20" y="611.70" width="1.56" height="10.53" fill="#e3e3ff"/>
<rect x="522.20" y="622.17" width="1.56" height="10.53" fill="#dfdfff"/>
<rect x="522.20" y="632.64" width="1.56" height="10.53" fill="#cdcdff"/>
<rect x="522.20" y="643.11" width="1.56" height="10.53" fill="#e5e5ff"/>
<rect x="522.20" y="653.58" width="1.56" height="10.53" fill="#b3b3ff"/>
<rect x="522.20" y="664.05" width="1.56" height="10.53" fill="#e9e9ff"/>
<rect x="522.20" y="674.52" width="1.56" height="10.53" fill="#f9f9ff"/>
<rect x="522.20" y="684.99" width="1.56" height="10.53" fill="#e3e3ff"/>
<rect x="523.70" y="507.00" width="1.06" height="10.53" fill="#ffd8d8"/>
<rect x="523.70" y="517.47" width="1.06" height="10.53" fill="#fff9f9"/>
<rect x="523.70" y="527.94" width="1.06" height="10.53" fill="#ffb4b4"/>
<rect x="523.70" y="538.41" width="1.06" height="10.53" fill="#fff7f7"/>
<rect x="523.70" y="548.88" width="1.06" height="10.53" fill="#e6e6ff"/>
<rect x="523.70" y="559.35" width="1.06" height="10.53" fill="#cdcdff"/>
<rect x="523.70" y="569.82" width="1.06" height="10.53" fill="#fff4f4"/>
<rect x="523.70" y="580.29" width="1.06" height="10.53" fill="#dadaff"/>
<rect x="523.70" y="590.76" width="1.06" height="10.53" fill="#ffd5d5"/>
<rect x="523.70" y="601.23" width="1.06" height="10.53" fill="#d6d6ff"/>
<rect x="523.70" y="611.70" width="1.06" height="10.53" fill="#d1d1ff"/>
<rect x="523.70" y="622.17" width="1.06" height="10.53" fill="#d4d4ff"/>
<rect x="523.70" y="632.64" width="1.06" height="10.53" fill="#ebebff"/>
<rect x="523.70" y="643.11" width="1.06" height="10.53" fill="#ffe6e6"/>
<rect x="523.70" y="653.58" width="1.06" height="10.53" fill="#f5f5ff"/>
<rect x="523.70" y="664.05" width="1.06" height="10.53" fill="#f2f2ff"/>
<rect x="523.70" y="674.52" width="1.06" height="10.53" fill="#f2f2ff"/>
<rect x="523.70" y="684.99" width="1.06" height="10.53" fill="#e0e0ff"/>
<rect x="524.70" y="507.00" width="1.06" height="10.53" fill="#e3e3ff"/>
<rect x="524.70" y="517.47" width="1.06" height="10.53" fill="#e6e6ff"/>
<rect x="524.70" y="527.94" width="1.06" height="10.53" fill="#ffa3a3"/>
<rect x="524.70" y="538.41" width="1.06" height="10.53" fill="#fff5f5"/>
<rect x="524.70" y="548.88" width="1.06" height="10.53" fill="#fffefe"/>
<rect x="524.70" y="559.35" width="1.06" height="10.53" fill="#ffebeb"/>
<rect x="524.70" y="569.82" width="1.06" height="10.53" fill="#fff1f1"/>
<rect x="524.70" y="580.29" width="1.06" height="10.53" fill="#bfbfff"/>
<rect x="524.70" y="590.76" width="1.06" height="10.53" fill="#ffe2e2"/>
<rect x="524.70" y="601.23" width="1.06" height="10.53" fill="#ff9393"/>
<rect x="524.70" y="611.70" width="1.06" height="10.53" fill="#fff2f2"/>
<rect x="524.70" y="622.17" width="1.06" height="10.53" fill="#fffafa"/>
<rect x="524.70" y="632.64" width="1.06" height="10.53" fill="#fefeff"/>
<rect x="524.70" y="643.11" width="1.06" height="10.53" fill="#fff3f3"/>
<rect x="524.70" y="653.58" width="1.06" height="10.53" fill="#ebebff"/>
<rect x="524.70" y="664.05" width="1.06" height="10.53" fill="#e7e7ff"/>
<rect x="524.70" y="674.52" width="1.06" height="10.53" fill="#ececff"/>
<rect x="524.70" y="684.99" width="1.06" height="10.53" fill="#f8f8ff"/>
<rect x="525.70" y="507.00" width="1.06" height="10.53" fill="#ffbebe"/>
<rect x="525.70" y="517.47" width="1.06" height="10.53" fill="#ffdada"/>
<rect x="525.70" y="527.94" width="1.06" height="10.53" fill="#ddddff"/>
<rect x="525.70" y="538.41" width="1.06" height="10.53" fill="#cfcfff"/>
<rect x="525.70" y="548.88" width="1.06" height="10.53" fill="#e2e2ff"/>
<rect x="525.70" y="559.35" width="1.06" height="10.53" fill="#cfcfff"/>
<rect x="525.70" y="569.82" width="1.06" height="10.53" fill="#e8e8ff"/>
<rect x="525.70" y="580.29" width="1.06" height="10.53" fill="#cbcbff"/>
<rect x="525.70" y="590.76" width="1.06" height="10.53" fill="#ffe7e7"/>
<rect x="525.70" y="601.23" width="1.06" height="10.53" fill="#e6e6ff"/>
<rect x="525.70" y="611.70" width="1.06" height="10.53" fill="#e3e3ff"/>
<rect x="525.70" y="622.17" width="1.06" height="10.53" fill="#babaff"/>
<rect x="525.70" y="632.64" width="1.06" height="10.53" fill="#d2d2ff"/>
<rect x="525.70" y="643.11" width="1.06" height="10.53" fill="#ffdada"/>
<rect x="525.70" y="653.58" width="1.06" height="10.53" fill="#dadaff"/>
<rect x="525.70" y="664.05" width="1.06" height="10.53" fill="#a9a9ff"/>
<rect x="525.70" y="674.52" width="1.06" height="10.53" fill="#f4f4ff"/>
<rect x="525.70" y="684.99" width="1.06" height="10.53" fill="#f8f8ff"/>
<rect x="526.70" y="507.00" width="1.06" height="10.53" fill="#ffb5b5"/>
<rect x="526.70" y="517.47" width="1.06" height="10.53" fill="#ffe5e5"/>
<rect x="526.70" y="527.94" width="1.06" height="10.53" fill="#e7e7ff"/>
<rect x="526.70" y="538.41" width="1.06" height="10.53" fill="#b3b3ff"/>
<rect x="526.70" y="548.88" width="1.06" height="10.53" fill="#f1f1ff"/>
<rect x="526.70" y="559.35" width="1.06" height="10.53" fill="#dbdbff"/>
<rect x="526.70" y="569.82" width="1.06" height="10.53" fill="#e7e7ff"/>
<rect x="526.70" y="580.29" width="1.06" height="10.53" fill="#cdcdff"/>
<rect x="526.70" y="590.76" width="1.06" height="10.53" fill="#ececff"/>
<rect x="526.70" y="601.23" width="1.06" height="10.53" fill="#d9d9ff"/>
<rect x="526.70" y="611.70" width="1.06" height="10.53" fill="#d4d4ff"/>
<rect x="526.70" y="622.17" width="1.06" height="10.53" fill="#dadaff"/>
<rect x="526.70" y="632.64" width="1.06" height="10.53" fill="#a5a5ff"/>
<rect x="526.70" y="643.11" width="1.06" height="10.53" fill="#c8c8ff"/>
<rect x="526.70" y="653.58" width="1.06" height="10.53" fill="#d1d1ff"/>
<rect x="526.70" y="664.05" width="1.06" height="10.53" fill="#b2b2ff"/>
<rect x="526.70" y="674.52" width="1.06" height="10.53" fill="#dcdcff"/>
<rect x="526.70" y="684.99" width="1.06" height="10.53" fill="#c5c5ff"/>
<rect x="527.70" y="507.00" width="1.06" height="10.53" fill="#ffdede"/>
<rect x="527.70" y="517.47" width="1.06" height="10.53" fill="#ededff"/>
<rect x="527.70" y="527.94" width="1.06" height="10.53" fill="#e6e6ff"/>
<rect x="527.70" y="538.41" width="1.06" height="10.53" fill="#ededff"/>
<rect x="527.70" y="548.88" width="1.06" height="10.53" fill="#c9c9ff"/>
<rect x="527.70" y="559.35" width="1.06" height="10.53" fill="#e2e2ff"/>
<rect x="527.70" y="569.82" width="1.06" height="10.53" fill="#eaeaff"/>
<rect x="527.70" y="580.29" width="1.06" height="10.53" fill="#f6f6ff"/>
<rect x="527.70" y="590.76" width="1.06" height="10.53" fill="#ffd7d7"/>
<rect x="527.70" y="601.23" width="1.06" height="10.53" fill="#fff1f1"/>
<rect x="527.70" y="611.70" width="1.06" height="10.53" fill="#f7f7ff"/>
<rect x="527.70" y="622.17" width="1.06" height="10.53" fill="#c2c2ff"/>
<rect x="527.70" y="632.64" width="1.06" height="10.53" fill="#e3e3ff"/>
<rect x="527.70" y="643.11" width="1.06" height="10.53" fill="#fcfcff"/>
<rect x="527.70" y="653.58" width="1.06" height="10.53" fill="#e5e5ff"/>
<rect x="527.70" y="664.05" width="1.06" height="10.53" fill="#d9d9ff"/>
<rect x="527.70" y="674.52" width="1.06" height="10.53" fill="#f9f9ff"/>
<rect x="527.70" y="684.99" width="1.06" height="10.53" fill="#d7d7ff"/>
<rect x="528.70" y="507.00" width="1.06" height="10.53" fill="#ffe2e2"/>
<rect x="528.70" y="517.47" width="1.06" height="10.53" fill="#e8e8ff"/>
<rect x="528.70" y="527.94" width="1.06" height="10.53" fill="#fffcfc"/>
<rect x="528.70" y="538.41" width="1.06" height="10.53" fill="#fcfcff"/>
<rect x="528.70" y="548.88" width="1.06" height="10.53" fill="#fff7f7"/>
<rect x="528.70" y="559.35" width="1.06" height="10.53" fill="#fff7f7"/>
<rect x="528.70" y="569.82" width="1.06" height="10.53" fill="#fff7f7"/>
<rect x="528.70" y="580.29" width="1.06" height="10.53" fill="#eeeeff"/>
<rect x="528.70" y="590.76" width="1.06" height="10.53" fill="#ffd4d4"/>
<rect x="528.70" y="601.23" width="1.06" height="10.53" fill="#fcfcff"/>
<rect x="528.70" y="611.70" width="1.06" height="10.53" fill="#ffdfdf"/>
<rect x="528.70" y="622.17" width="1.06" height="10.53" fill="#ffffff"/>
<rect x="528.70" y="632.64" width="1.06" height="10.53" fill="#fafaff"/>
<rect x="528.70" y="643.11" width="1.06" height="10.53" fill="#e2e2ff"/>
<rect x="528.70" y="653.58" width="1.06" height="10.53" fill="#ebebff"/>
<rect x="528.70" y="664.05" width="1.06" height="10.53" fill="#d6d6ff"/>
<rect x="528.70" y="674.52" width="1.06" height="10.53" fill="#d3d3ff"/>
<rect x="528.70" y="684.99" width="1.06" height="10.53" fill="#e9e9ff"/>
<rect x="529.70" y="507.00" width="1.06" height="10.53" fill="#ffe2e2"/>
<rect x="529.70" y="517.47" width="1.06" height="10.53" fill="#ffdcdc"/>
<rect x="529.70" y="527.94" width="1.06" height="10.53" fill="#fdfdff"/>
<rect x="529.70" y="538.41" width="1.06" height="10.53" fill="#e9e9ff"/>
<rect x="529.70" y="548.88" width="1.06" height="10.53" fill="#cdcdff"/>
<rect x="529.70" y="559.35" width="1.06" height="10.53" fill="#eaeaff"/>
<rect x="529.70" y="569.82" width="1.06" height="10.53" fill="#d8d8ff"/>
<rect x="529.70" y="580.29" width="1.06" height="10.53" fill="#d3d3ff"/>
<rect x="529.70" y="590.76" width="1.06" height="10.53" fill="#fff5f5"/>
<rect x="529.70" y="601.23" width="1.06" height="10.53" fill="#d2d2ff"/>
<rect x="529.70" y="611.70" width="1.06" height="10.53" fill="#ccccff"/>
<rect x="529.70" y="622.17" width="1.06" height="10.53" fill="#d9d9ff"/>
<rect x="529.70" y="632.64" width="1.06" height="10.53" fill="#e1e1ff"/>
<rect x="529.70" y="643.11" width="1.06" height="10.53" fill="#aeaeff"/>
<rect x="529.70" y="653.58" width="1.06" height="10.53" fill="#b6b6ff"/>
<rect x="529.70" y="664.05" width="1.06" height="10.53" fill="#ebebff"/>
<rect x="529.70" y="674.52" width="1.06" height="10.53" fill="#dcdcff"/>
<rect x="529.70" y="684.99" width="1.06" height="10.53" fill="#c3c3ff"/>
<rect x="530.70" y="507.00" width="1.06" height="10.53" fill="#ffcccc"/>
<rect x="530.70" y="517.47" width="1.06" height="10.53" fill="#d0d0ff"/>
<rect x="530.70" y="527.94" width="1.06" height="10.53" fill="#fff0f0"/>
<rect x="530.70" y="538.41" width="1.06" height="10.53" fill="#ffe5e5"/>
<rect x="530.70" y="548.88" width="1.06" height="10.53" fill="#fcfcff"/>
<rect x="530.70" y="559.35" width="1.06" height="10.53" fill="#f6f6ff"/>
<rect x="530.70" y="569.82" width="1.06" height="10.53" fill="#f3f3ff"/>
<rect x="530.70" y="580.29" width="1.06" height="10.53" fill="#eaeaff"/>
<rect x="530.70" y="590.76" width="1.06" height="10.53" fill="#fff2f2"/>
<rect x="530.70" y="601.23" width="1.06" height="10.53" fill="#f8f8ff"/>
<rect x="530.70" y="611.70" width="1.06" height="10.53" fill="#ffecec"/>
<rect x="530.70" y="622.17" width="1.06" height="10.53" fill="#fffefe"/>
<rect x="530.70" y="632.64" width="1.06" height="10.53" fill="#f8f8ff"/>
<rect x="530.70" y="643.11" width="1.06" height="10.53" fill="#fff3f3"/>
<rect x="530.70" y="653.58" width="1.06" height="10.53" fill="#ffffff"/>
<rect x="530.70" y="664.05" width="1.06" height="10.53" fill="#dfdfff"/>
<rect x="530.70" y="674.52" width="1.06" height="10.53" fill="#fffafa"/>
<rect x="530.70" y="684.99" width="1.06" height="10.53" fill="#fffbfb"/>
<rect x="531.70" y="507.00" width="1.56" height="10.53" fill="#ffe1e1"/>
<rect x="531.70" y="517.47" width="1.56" height="10.53" fill="#ffa5a5"/>
<rect x="531.70" y="527.94" width="1.56" height="10.53" fill="#ebebff"/>
<rect x="531.70" y="538.41" width="1.56" height="10.53" fill="#fbfbff"/>
<rect x="531.70" y="548.88" width="1.56" height="10.53" fill="#e9e9ff"/>
<rect x="531.70" y="559.35" width="1.56" height="10.53" fill="#e3e3ff"/>
<rect x="531.70" y="569.82" width="1.56" height="10.53" fill="#fafaff"/>
<rect x="531.70" y="580.29" width="1.56" height="10.53" fill="#ffeaea"/>
<rect x="531.70" y="590.76" width="1.56" height="10.53" fill="#f6f6ff"/>
<rect x="531.70" y="601.23" width="1.56" height="10.53" fill="#fff6f6"/>
<rect x="531.70" y="611.70" width="1.56" height="10.53" fill="#adadff"/>
<rect x="531.70" y="622.17" width="1.56" height="10.53" fill="#f6f6ff"/>
<rect x="531.70" y="632.64" width="1.56" height="10.53" fill="#dfdfff"/>
<rect x="531.70" y="643.11" width="1.56" height="10.53" fill="#f8f8ff"/>
<rect x="531.70" y="653.58" width="1.56" height="10.53" fill="#e1e1ff"/>
<rect x="531.70" y="664.05" width="1.56" height="10.53" fill="#dfdfff"/>
<rect x="531.70" y="674.52" width="1.56" height="10.53" fill="#e4e4ff"/>
<rect x="531.70" y="684.99" width="1.56" height="10.53" fill="#f7f7ff"/>
<rect x="533.20" y="507.00" width="1.06" height="10.53" fill="#ebebff"/>
<rect x="533.20" y="517.47" width="1.06" height="10.53" fill="#ffffff"/>
<rect x="533.20" y="527.94" width="1.06" height="10.53" fill="#ffd5d5"/>
<rect x="533.20" y="538.41" width="1.06" height="10.53" fill="#fff0f0"/>
<rect x="533.20" y="548.88" width="1.06" height="10.53" fill="#ffe3e3"/>
<rect x="533.20" y="559.35" width="1.06" height="10.53" fill="#ffeded"/>
<rect x="533.20" y="569.82" width="1.06" height="10.53" fill="#ffe2e2"/>
<rect x="533.20" y="580.29" width="1.06" height="10.53" fill="#f8f8ff"/>
<rect x="533.20" y="590.76" width="1.06" height="10.53" fill="#ffc4c4"/>
<rect x="533.20" y="601.23" width="1.06" height="10.53" fill="#fff4f4"/>
<rect x="533.20" y="611.70" width="1.06" height="10.53" fill="#f9f9ff"/>
<rect x="533.20" y="622.17" width="1.06" height="10.53" fill="#e6e6ff"/>
<rect x="533.20" y="632.64" width="1.06" height="10.53" fill="#fcfcff"/>
<rect x="533.20" y="643.11" width="1.06" height="10.53" fill="#fff8f8"/>
<rect x="533.20" y="653.58" width="1.06" height="10.53" fill="#fffdfd"/>
<rect x="533.20" y="664.05" width="1.06" height="10.53" fill="#fafaff"/>
<rect x="533.20" y="674.52" width="1.06" height="10.53" fill="#ffe5e5"/>
<rect x="533.20" y="684.99" width="1.06" height="10.53" fill="#fff8f8"/>
<rect x="534.20" y="507.00" width="1.56" height="10.53" fill="#ffb4b4"/>
<rect x="534.20" y="517.47" width="1.56" height="10.53" fill="#e2e2ff"/>
<rect x="534.20" y="527.94" width="1.56" height="10.53" fill="#e7e7ff"/>
<rect x="534.20" y="538.41" width="1.56" height="10.53" fill="#fff7f7"/>
<rect x="534.20" y="548.88" width="1.56" height="10.53" fill="#fff2f2"/>
<rect x="534.20" y="559.35" width="1.56" height="10.53" fill="#f9f9ff"/>
<rect x="534.20" y="569.82" width="1.56" height="10.53" fill="#ffeded"/>
<rect x="534.20" y="580.29" width="1.56" height="10.53" fill="#fffefe"/>
<rect x="534.20" y="590.76" width="1.56" height="10.53" fill="#ffb3b3"/>
<rect x="534.20" y="601.23" width="1.56" height="10.53" fill="#fffdfd"/>
<rect x="534.20" y="611.70" width="1.56" height="10.53" fill="#ffeaea"/>
<rect x="534.20" y="622.17" width="1.56" height="10.53" fill="#ececff"/>
<rect x="534.20" y="632.64" width="1.56" height="10.53" fill="#e4e4ff"/>
<rect x="534.20" y="643.11" width="1.56" height="10.53" fill="#f7f7ff"/>
<rect x="534.20" y="653.58" width="1.56" height="10.53" fill="#fff8f8"/>
<rect x="534.20" y="664.05" width="1.56" height="10.53" fill="#fff5f5"/>
<rect x="534.20" y="674.52" width="1.56" height="10.53" fill="#ffe6e6"/>
<rect x="534.20" y="684.99" width="1.56" height="10.53" fill="#fffefe"/>
<rect x="535.70" y="507.00" width="1.06" height="10.53" fill="#fff0f0"/>
<rect x="535.70" y="517.47" width="1.06" height="10.53" fill="#f8f8ff"/>
<rect x="535.70" y="527.94" width="1.06" height="10.53" fill="#f5f5ff"/>
<rect x="535.70" y="538.41" width="1.06" height="10.53" fill="#c3c3ff"/>
<rect x="535.70" y="548.88" width="1.06" height="10.53" fill="#ffe4e4"/>
<rect x="535.70" y="559.35" width="1.06" height="10.53" fill="#fffefe"/>
<rect x="535.70" y="569.82" width="1.06" height="10.53" fill="#ffe9e9"/>
<rect x="535.70" y="580.29" width="1.06" height="10.53" fill="#e5e5ff"/>
<rect x="535.70" y="590.76" width="1.06" height="10.53" fill="#ffecec"/>
<rect x="535.70" y="601.23" width="1.06" height="10.53" fill="#e9e9ff"/>
<rect x="535.70" y="611.70" width="1.06" height="10.53" fill="#e6e6ff"/>
<rect x="535.70" y="622.17" width="1.06" height="10.53" fill="#ebebff"/>
<rect x="535.70" y="632.64" width="1.06" height="10.53" fill="#fffcfc"/>
<rect x="535.70" y="643.11" width="1.06" height="10.53" fill="#e3e3ff"/>
<rect x="535.70" y="653.58" width="1.06" height="10.53" fill="#e3e3ff"/>
<rect x="535.70" y="664.05" width="1.06" height="10.53" fill="#eeeeff"/>
<rect x="535.70" y="674.52" width="1.06" height="10.53" fill="#dcdcff"/>
<rect x="535.70" y="684.99" width="1.06" height="10.53" fill="#cfcfff"/>
<rect x="536.70" y="507.00" width="1.06" height="10.53" fill="#ffe3e3"/>
<rect x="536.70" y="517.47" width="1.06" height="10.53" fill="#ffdada"/>
<rect x="536.70" y="527.94" width="1.06" height="10.53" fill="#ffecec"/>
<rect x="536.70" y="538.41" width="1.06" height="10.53" fill="#d9d9ff"/>
<rect x="536.70" y="548.88" width="1.06" height="10.53" fill="#e8e8ff"/>
<rect x="536.70" y="559.35" width="1.06" height="10.53" fill="#fffdfd"/>
<rect x="536.70" y="569.82" width="1.06" height="10.53" fill="#fff9f9"/>
<rect x="536.70" y="580.29" width="1.06" height="10.53" fill="#d3d3ff"/>
<rect x="536.70" y="590.76" width="1.06" height="10.53" fill="#ffdbdb"/>
<rect x="536.70" y="601.23" width="1.06" height="10.53" fill="#fdfdff"/>
<rect x="536.70" y="611.70" width="1.06" height="10.53" fill="#dadaff"/>
<rect x="536.70" y="622.17" width="1.06" height="10.53" fill="#dfdfff"/>
<rect x="536.70" y="632.64" width="1.06" height="10.53" fill="#f2f2ff"/>
<rect x="536.70" y="643.11" width="1.06" height="10.53" fill="#dfdfff"/>
<rect x="536.70" y="653.58" width="1.06" height="10.53" fill="#f7f7ff"/>
<rect x="536.70" y="664.05" width="1.06" height="10.53" fill="#f8f8ff"/>
<rect x="536.70" y="674.52" width="1.06" height="10.53" fill="#ffdfdf"/>
<rect x="536.70" y="684.99" width="1.06" height="10.53" fill="#f3f3ff"/>
<rect x="537.70" y="507.00" width="1.06" height="10.53" fill="#ffdfdf"/>
<rect x="537.70" y="517.47" width="1.06" height="10.53" fill="#ffefef"/>
<rect x="537.70" y="527.94" width="1.06" height="10.53" fill="#ffffff"/>
<rect x="537.70" y="538.41" width="1.06" height="10.53" fill="#c2c2ff"/>
<rect x="537.70" y="548.88" width="1.06" height="10.53" fill="#d0d0ff"/>
<rect x="537.70" y="559.35" width="1.06" height="10.53" fill="#ededff"/>
<rect x="537.70" y="569.82" width="1.06" height="10.53" fill="#c9c9ff"/>
<rect x="537.70" y="580.29" width="1.06" height="10.53" fill="#e9e9ff"/>
<rect x="537.70" y="590.76" width="1.06" height="10.53" fill="#fffafa"/>
<rect x="537.70" y="601.23" width="1.06" height="10.53" fill="#f8f8ff"/>
<rect x="537.70" y="611.70" width="1.06" height="10.53" fill="#e0e0ff"/>
<rect x="537.70" y="622.17" width="1.06" height="10.53" fill="#eeeeff"/>
<rect x="537.70" y="632.64" width="1.06" height="10.53" fill="#f3f3ff"/>
<rect x="537.70" y="643.11" width="1.06" height="10.53" fill="#d0d0ff"/>
<rect x="537.70" y="653.58" width="1.06" height="10.53" fill="#ccccff"/>
<rect x="537.70" y="664.05" width="1.06" height="10.53" fill="#d7d7ff"/>
<rect x="537.70" y="674.52" width="1.06" height="10.53" fill="#cbcbff"/>
<rect x="537.70" y="684.99" width="1.06" height="10.53" fill="#bcbcff"/>
<rect x="538.70" y="507.00" width="1.56" height="10.53" fill="#ffd9d9"/>
<rect x="538.70" y="517.47" width="1.56" height="10.53" fill="#ffe9e9"/>
<rect x="538.70" y="527.94" width="1.56" height="10.53" fill="#d6d6ff"/>
<rect x="538.70" y="538.41" width="1.56" height="10.53" fill="#fffdfd"/>
<rect x="538.70" y="548.88" width="1.56" height="10.53" fill="#e4e4ff"/>
<rect x="538.70" y="559.35" width="1.56" height="10.53" fill="#efefff"/>
<rect x="538.70" y="569.82" width="1.56" height="10.53" fill="#f3f3ff"/>
<rect x="538.70" y="580.29" width="1.56" height="10.53" fill="#e1e1ff"/>
<rect x="538.70" y="590.76" width="1.56" height="10.53" fill="#ffd6d6"/>
<rect x="538.70" y="601.23" width="1.56" height="10.53" fill="#e4e4ff"/>
<rect x="538.70" y="611.70" width="1.56" height="10.53" fill="#f6f6ff"/>
<rect x="538.70" y="622.17" width="1.56" height="10.53" fill="#f8f8ff"/>
<rect x="538.70" y="632.64" width="1.56" height="10.53" fill="#ffdbdb"/>
<rect x="538.70" y="643.11" width="1.56" height="10.53" fill="#f6f6ff"/>
<rect x="538.70" y="653.58" width="1.56" height="10.53" fill="#fff5f5"/>
<rect x="538.70" y="664.05" width="1.56" height="10.53" fill="#ffa0a0"/>
<rect x="538.70" y="674.52" width="1.56" height="10.53" fill="#ffd7d7"/>
<rect x="538.70" y="684.99" width="1.56" height="10.53" fill="#cbcbff"/>
<rect x="540.20" y="507.00" width="1.06" height="10.53" fill="#ffa5a5"/>
<rect x="540.20" y="517.47" width="1.06" height="10.53" fill="#fffcfc"/>
<rect x="540.20" y="527.94" width="1.06" height="10.53" fill="#8888ff"/>
<rect x="540.20" y="538.41" width="1.06" height="10.53" fill="#adadff"/>
<rect x="540.20" y="548.88" width="1.06" height="10.53" fill="#e2e2ff"/>
<rect x="540.20" y="559.35" width="1.06" height="10.53" fill="#adadff"/>
<rect x="540.20" y="569.82" width="1.06" height="10.53" fill="#ceceff"/>
<rect x="540.20" y="580.29" width="1.06" height="10.53" fill="#d1d1ff"/>
<rect x="540.20" y="590.76" width="1.06" height="10.53" fill="#f0f0ff"/>
<rect x="540.20" y="601.23" width="1.06" height="10.53" fill="#f0f0ff"/>
<rect x="540.20" y="611.70" width="1.06" height="10.53" fill="#c4c4ff"/>
<rect x="540.20" y="622.17" width="1.06" height="10.53" fill="#b7b7ff"/>
<rect x="540.20" y="632.64" width="1.06" height="10.53" fill="#c4c4ff"/>
<rect x="540.20" y="643.11" width="1.06" height="10.53" fill="#b8b8ff"/>
<rect x="540.20" y="653.58" width="1.06" height="10.53" fill="#c9c9ff"/>
<rect x="540.20" y="664.05" width="1.06" height="10.53" fill="#c7c7ff"/>
<rect x="540.20" y="674.52" width="1.06" height="10.53" fill="#d2d2ff"/>
<rect x="540.20" y="684.99" width="1.06" height="10.53" fill="#f3f3ff"/>
<rect x="541.20" y="507.00" width="1.56" height="10.53" fill="#ffbdbd"/>
<rect x="541.20" y="517.47" width="1.56" height="10.53" fill="#ffe8e8"/>
<rect x="541.20" y="527.94" width="1.56" height="10.53" fill="#dcdcff"/>
<rect x="541.20" y="538.41" width="1.56" height="10.53" fill="#cacaff"/>
<rect x="541.20" y="548.88" width="1.56" height="10.53" fill="#c6c6ff"/>
<rect x="541.20" y="559.35" width="1.56" height="10.53" fill="#bdbdff"/>
<rect x="541.20" y="569.82" width="1.56" height="10.53" fill="#f9f9ff"/>
<rect x="541.20" y="580.29" width="1.56" height="10.53" fill="#bebeff"/>
<rect x="541.20" y="590.76" width="1.56" height="10.53" fill="#e0e0ff"/>
<rect x="541.20" y="601.23" width="1.56" height="10.53" fill="#e1e1ff"/>
<rect x="541.20" y="611.70" width="1.56" height="10.53" fill="#bbbbff"/>
<rect x="541.20" y="622.17" width="1.56" height="10.53" fill="#d1d1ff"/>
<rect x="541.20" y="632.64" width="1.56" height="10.53" fill="#b9b9ff"/>
<rect x="541.20" y="643.11" width="1.56" height="10.53" fill="#bfbfff"/>
<rect x="541.20" y="653.58" width="1.56" height="10.53" fill="#c1c1ff"/>
<rect x="541.20" y="664.05" width="1.56" height="10.53" fill="#adadff"/>
<rect x="541.20" y="674.52" width="1.56" height="10.53" fill="#9e9eff"/>
<rect x="541.20" y="684.99" width="1.56" height="10.53" fill="#bcbcff"/>
<rect x="542.70" y="507.00" width="1.06" height="10.53" fill="#ffd8d8"/>
<rect x="542.70" y="517.47" width="1.06" height="10.53" fill="#ffc9c9"/>
<rect x="542.70" y="527.94" width="1.06" height="10.53" fill="#ddddff"/>
<rect x="542.70" y="538.41" width="1.06" height="10.53" fill="#c4c4ff"/>
<rect x="542.70" y="548.88" width="1.06" height="10.53" fill="#e4e4ff"/>
<rect x="542.70" y="559.35" width="1.06" height="10.53" fill="#d3d3ff"/>
<rect x="542.70" y="569.82" width="1.06" height="10.53" fill="#fffdfd"/>
<rect x="542.70" y="580.29" width="1.06" height="10.53" fill="#f5f5ff"/>
<rect x="542.70" y="590.76" width="1.06" height="10.53" fill="#fdfdff"/>
<rect x="542.70" y="601.23" width="1.06" height="10.53" fill="#fff9f9"/>
<rect x="542.70" y="611.70" width="1.06" height="10.53" fill="#d6d6ff"/>
<rect x="542.70" y="622.17" width="1.06" height="10.53" fill="#eeeeff"/>
<rect x="542.70" y="632.64" width="1.06" height="10.53" fill="#d1d1ff"/>
<rect x="542.70" y="643.11" width="1.06" height="10.53" fill="#dfdfff"/>
<rect x="542.70" y="653.58" width="1.06" height="10.53" fill="#c7c7ff"/>
<rect x="542.70" y="664.05" width="1.06" height="10.53" fill="#fdfdff"/>
<rect x="542.70" y="674.52" width="1.06" height="10.53" fill="#d8d8ff"/>
<rect x="542.70" y="684.99" width="1.06" height="10.53" fill="#f9f9ff"/>
<rect x="543.70" y="507.00" width="1.56" height="10.53" fill="#fff1f1"/>
<rect x="543.70" y="517.47" width="1.56" height="10.53" fill="#fff2f2"/>
<rect x="543.70" y="527.94" width="1.56" height="10.53" fill="#e1e1ff"/>
<rect x="543.70" y="538.41" width="1.56" height="10.53" fill="#e6e6ff"/>
<rect x="543.70" y="548.88" width="1.56" height="10.53" fill="#e8e8ff"/>
<rect x="543.70" y="559.35" width="1.56" height="10.53" fill="#cacaff"/>
<rect x="543.70" y="569.82" width="1.56" height="10.53" fill="#fffefe"/>
<rect x="543.70" y="580.29" width="1.56" height="10.53" fill="#f7f7ff"/>
<rect x="543.70" y="590.76" width="1.56" height="10.53" fill="#fff5f5"/>
<rect x="543.70" y="601.23" width="1.56" height="10.53" fill="#dcdcff"/>
<rect x="543.70" y="611.70" width="1.56" height="10.53" fill="#d7d7ff"/>
<rect x="543.70" y="622.17" width="1.56" height="10.53" fill="#ffebeb"/>
<rect x="543.70" y="632.64" width="1.56" height="10.53" fill="#f1f1ff"/>
<rect x="543.70" y="643.11" width="1.56" height="10.53" fill="#efefff"/>
<rect x="543.70" y="653.58" width="1.56" height="10.53" fill="#fffdfd"/>
<rect x="543.70" y="664.05" width="1.56" height="10.53" fill="#e1e1ff"/>
<rect x="543.70" y="674.52" width="1.56" height="10.53" fill="#dfdfff"/>
<rect x="543.70" y="684.99" width="1.56" height="10.53" fill="#fafaff"/>
<rect x="545.20" y="507.00" width="1.06" height="10.53" fill="#ffd4d4"/>
<rect x="545.20" y="517.47" width="1.06" height="10.53" fill="#dadaff"/>
<rect x="545.20" y="527.94" width="1.06" height="10.53" fill="#fff7f7"/>
<rect x="545.20" y="538.41" width="1.06" height="10.53" fill="#e5e5ff"/>
<rect x="545.20" y="548.88" width="1.06" height="10.53" fill="#fffafa"/>
<rect x="545.20" y="559.35" width="1.06" height="10.53" fill="#f0f0ff"/>
<rect x="545.20" y="569.82" width="1.06" height="10.53" fill="#fbfbff"/>
<rect x="545.20" y="580.29" width="1.06" height="10.53" fill="#e5e5ff"/>
<rect x="545.20" y="590.76" width="1.06" height="10.53" fill="#f7f7ff"/>
<rect x="545.20" y="601.23" width="1.06" height="10.53" fill="#e7e7ff"/>
<rect x="545.20" y="611.70" width="1.06" height="10.53" fill="#ffffff"/>
<rect x="545.20" y="622.17" width="1.06" height="10.53" fill="#ffe1e1"/>
<rect x="545.20" y="632.64" width="1.06" height="10.53" fill="#fff8f8"/>
<rect x="545.20" y="643.11" width="1.06" height="10.53" fill="#fff4f4"/>
<rect x="545.20" y="653.58" width="1.06" height="10.53" fill="#e7e7ff"/>
<rect x="545.20" y="664.05" width="1.06" height="10.53" fill="#fffafa"/>
<rect x="545.20" y="674.52" width="1.06" height="10.53" fill="#ececff"/>
<rect x="545.20" y="684.99" width="1.06" height="10.53" fill="#f8f8ff"/>
<rect x="546.20" y="507.00" width="2.06" height="10.53" fill="#ffdbdb"/>
<rect x="546.20" y="517.47" width="2.06" height="10.53" fill="#ffeeee"/>
<rect x="546.20" y="527.94" width="2.06" height="10.53" fill="#c9c9ff"/>
<rect x="546.20" y="538.41" width="2.06" height="10.53" fill="#e4e4ff"/>
<rect x="546.20" y="548.88" width="2.06" height="10.53" fill="#bebeff"/>
<rect x="546.20" y="559.35" width="2.06" height="10.53" fill="#dfdfff"/>
<rect x="546.20" y="569.82" width="2.06" height="10.53" fill="#f1f1ff"/>
<rect x="546.20" y="580.29" width="2.06" height="10.53" fill="#dcdcff"/>
<rect x="546.20" y="590.76" width="2.06" height="10.53" fill="#ededff"/>
<rect x="546.20" y="601.23" width="2.06" height="10.53" fill="#d0d0ff"/>
<rect x="546.20" y="611.70" width="2.06" height="10.53" fill="#d6d6ff"/>
<rect x="546.20" y="622.17" width="2.06" height="10.53" fill="#cbcbff"/>
<rect x="546.20" y="632.64" width="2.06" height="10.53" fill="#bebeff"/>
<rect x="546.20" y="643.11" width="2.06" height="10.53" fill="#bdbdff"/>
<rect x="546.20" y="653.58" width="2.06" height="10.53" fill="#afafff"/>
<rect x="546.20" y="664.05" width="2.06" height="10.53" fill="#cacaff"/>
<rect x="546.20" y="674.52" width="2.06" height="10.53" fill="#d3d3ff"/>
<rect x="546.20" y="684.99" width="2.06" height="10.53" fill="#d6d6ff"/>
<rect x="548.20" y="507.00" width="2.06" height="10.53" fill="#ffd2d2"/>
<rect x="548.20" y="517.47" width="2.06" height="10.53" fill="#ffc5c5"/>
<rect x="548.20" y="527.94" width="2.06" height="10.53" fill="#f2f2ff"/>
<rect x="548.20" y="538.41" width="2.06" height="10.53" fill="#efefff"/>
<rect x="548.20" y="548.88" width="2.06" height="10.53" fill="#ededff"/>
<rect x="548.20" y="559.35" width="2.06" height="10.53" fill="#c8c8ff"/>
<rect x="548.20" y="569.82" width="2.06" height="10.53" fill="#e8e8ff"/>
<rect x="548.20" y="580.29" width="2.06" height="10.53" fill="#ffffff"/>
<rect x="548.20" y="590.76" width="2.06" height="10.53" fill="#ffd5d5"/>
<rect x="548.20" y="601.23" width="2.06" height="10.53" fill="#f3f3ff"/>
<rect x="548.20" y="611.70" width="2.06" height="10.53" fill="#dcdcff"/>
<rect x="548.20" y="622.17" width="2.06" height="10.53" fill="#fdfdff"/>
<rect x="548.20" y="632.64" width="2.06" height="10.53" fill="#d4d4ff"/>
<rect x="548.20" y="643.11" width="2.06" height="10.53" fill="#f2f2ff"/>
<rect x="548.20" y="653.58" width="2.06" height="10.53" fill="#cfcfff"/>
<rect x="548.20" y="664.05" width="2.06" height="10.53" fill="#e1e1ff"/>
<rect x="548.20" y="674.52" width="2.06" height="10.53" fill="#e7e7ff"/>
<rect x="548.20" y="684.99" width="2.06" height="10.53" fill="#e3e3ff"/>
<rect x="550.20" y="507.00" width="1.06" height="10.53" fill="#ffcdcd"/>
<rect x="550.20" y="517.47" width="1.06" height="10.53" fill="#ffe9e9"/>
<rect x="550.20" y="527.94" width="1.06" height="10.53" fill="#afafff"/>
<rect x="550.20" y="538.41" width="1.06" height="10.53" fill="#b8b8ff"/>
<rect x="550.20" y="548.88" width="1.06" height="10.53" fill="#f4f4ff"/>
<rect x="550.20" y="559.35" width="1.06" height="10.53" fill="#ceceff"/>
<rect x="550.20" y="569.82" width="1.06" height="10.53" fill="#f7f7ff"/>
<rect x="550.20" y="580.29" width="1.06" height="10.53" fill="#e4e4ff"/>
<rect x="550.20" y="590.76" width="1.06" height="10.53" fill="#d4d4ff"/>
<rect x="550.20" y="601.23" width="1.06" height="10.53" fill="#e6e6ff"/>
<rect x="550.20" y="611.70" width="1.06" height="10.53" fill="#fefeff"/>
<rect x="550.20" y="622.17" width="1.06" height="10.53" fill="#bcbcff"/>
<rect x="550.20" y="632.64" width="1.06" height="10.53" fill="#ddddff"/>
<rect x="550.20" y="643.11" width="1.06" height="10.53" fill="#d4d4ff"/>
<rect x="550.20" y="653.58" width="1.06" height="10.53" fill="#e1e1ff"/>
<rect x="550.20" y="664.05" width="1.06" height="10.53" fill="#d4d4ff"/>
<rect x="550.20" y="674.52" width="1.06" height="10.53" fill="#b8b8ff"/>
<rect x="550.20" y="684.99" width="1.06" height="10.53" fill="#dfdfff"/>
<rect x="551.20" y="507.00" width="2.06" height="10.53" fill="#fcfcff"/>
<rect x="551.20" y="517.47" width="2.06" height="10.53" fill="#fcfcff"/>
<rect x="551.20" y="527.94" width="2.06" height="10.53" fill="#ededff"/>
<rect x="551.20" y="538.41" width="2.06" height="10.53" fill="#efefff"/>
<rect x="551.20" y="548.88" width="2.06" height="10.53" fill="#f0f0ff"/>
<rect x="551.20" y="559.35" width="2.06" height="10.53" fill="#eaeaff"/>
<rect x="551.20" y="569.82" width="2.06" height="10.53" fill="#f8f8ff"/>
<rect x="551.20" y="580.29" width="2.06" height="10.53" fill="#eaeaff"/>
<rect x="551.20" y="590.76" width="2.06" height="10.53" fill="#ffdede"/>
<rect x="551.20" y="601.23" width="2.06" height="10.53" fill="#f9f9ff"/>
<rect x="551.20" y="611.70" width="2.06" height="10.53" fill="#fff8f8"/>
<rect x="551.20" y="622.17" width="2.06" height="10.53" fill="#d2d2ff"/>
<rect x="551.20" y="632.64" width="2.06" height="10.53" fill="#f7f7ff"/>
<rect x="551.20" y="643.11" width="2.06" height="10.53" fill="#fefeff"/>
<rect x="551.20" y="653.58" width="2.06" height="10.53" fill="#f6f6ff"/>
<rect x="551.20" y="664.05" width="2.06" height="10.53" fill="#ffffff"/>
<rect x="551.20" y="674.52" width="2.06" height="10.53" fill="#fcfcff"/>
<rect x="551.20" y="684.99" width="2.06" height="10.53" fill="#fffdfd"/>
<rect x="553.20" y="507.00" width="1.06" height="10.53" fill="#ffd6d6"/>
<rect x="553.20" y="517.47" width="1.06" height="10.53" fill="#fbfbff"/>
<rect x="553.20" y="527.94" width="1.06" height="10.53" fill="#dfdfff"/>
<rect x="553.20" y="538.41" width="1.06" height="10.53" fill="#b5b5ff"/>
<rect x="553.20" y="548.88" width="1.06" height="10.53" fill="#f0f0ff"/>
<rect x="553.20" y="559.35" width="1.06" height="10.53" fill="#f1f1ff"/>
<rect x="553.20" y="569.82" width="1.06" height="10.53" fill="#ffeeee"/>
<rect x="553.20" y="580.29" width="1.06" height="10.53" fill="#d5d5ff"/>
<rect x="553.20" y="590.76" width="1.06" height="10.53" fill="#e9e9ff"/>
<rect x="553.20" y="601.23" width="1.06" height="10.53" fill="#ededff"/>
<rect x="553.20" y="611.70" width="1.06" height="10.53" fill="#babaff"/>
<rect x="553.20" y="622.17" width="1.06" height="10.53" fill="#efefff"/>
<rect x="553.20" y="632.64" width="1.06" height="10.53" fill="#fefeff"/>
<rect x="553.20" y="643.11" width="1.06" height="10.53" fill="#d5d5ff"/>
<rect x="553.20" y="653.58" width="1.06" height="10.53" fill="#d0d0ff"/>
<rect x="553.20" y="664.05" width="1.06" height="10.53" fill="#d2d2ff"/>
<rect x="553.20" y="674.52" width="1.06" height="10.53" fill="#c7c7ff"/>
<rect x="553.20" y="684.99" width="1.06" height="10.53" fill="#e3e3ff"/>
<rect x="554.20" y="507.00" width="1.06" height="10.53" fill="#ffe8e8"/>
<rect x="554.20" y="517.47" width="1.06" height="10.53" fill="#ffebeb"/>
<rect x="554.20" y="527.94" width="1.06" height="10.53" fill="#f6f6ff"/>
<rect x="554.20" y="538.41" width="1.06" height="10.53" fill="#eeeeff"/>
<rect x="554.20" y="548.88" width="1.06" height="10.53" fill="#fffefe"/>
<rect x="554.20" y="559.35" width="1.06" height="10.53" fill="#ececff"/>
<rect x="554.20" y="569.82" width="1.06" height="10.53" fill="#d2d2ff"/>
<rect x="554.20" y="580.29" width="1.06" height="10.53" fill="#ececff"/>
<rect x="554.20" y="590.76" width="1.06" height="10.53" fill="#fff9f9"/>
<rect x="554.20" y="601.23" width="1.06" height="10.53" fill="#e1e1ff"/>
<rect x="554.20" y="611.70" width="1.06" height="10.53" fill="#e3e3ff"/>
<rect x="554.20" y="622.17" width="1.06" height="10.53" fill="#e0e0ff"/>
<rect x="554.20" y="632.64" width="1.06" height="10.53" fill="#cacaff"/>
<rect x="554.20" y="643.11" width="1.06" height="10.53" fill="#e4e4ff"/>
<rect x="554.20" y="653.58" width="1.06" height="10.53" fill="#d3d3ff"/>
<rect x="554.20" y="664.05" width="1.06" height="10.53" fill="#fdfdff"/>
<rect x="554.20" y="674.52" width="1.06" height="10.53" fill="#e4e4ff"/>
<rect x="554.20" y="684.99" width="1.06" height="10.53" fill="#c4c4ff"/>
<rect x="555.20" y="507.00" width="2.06" height="10.53" fill="#ffe9e9"/>
<rect x="555.20" y="517.47" width="2.06" height="10.53" fill="#fff6f6"/>
<rect x="555.20" y="527.94" width="2.06" height="10.53" fill="#fcfcff"/>
<rect x="555.20" y="538.41" width="2.06" height="10.53" fill="#c5c5ff"/>
<rect x="555.20" y="548.88" width="2.06" height="10.53" fill="#d0d0ff"/>
<rect x="555.20" y="559.35" width="2.06" height="10.53" fill="#bfbfff"/>
<rect x="555.20" y="569.82" width="2.06" height="10.53" fill="#e1e1ff"/>
<rect x="555.20" y="580.29" width="2.06" height="10.53" fill="#eaeaff"/>
<rect x="555.20" y="590.76" width="2.06" height="10.53" fill="#fffefe"/>
<rect x="555.20" y="601.23" width="2.06" height="10.53" fill="#fff5f5"/>
<rect x="555.20" y="611.70" width="2.06" height="10.53" fill="#eeeeff"/>
<rect x="555.20" y="622.17" width="2.06" height="10.53" fill="#ffdada"/>
<rect x="555.20" y="632.64" width="2.06" height="10.53" fill="#f3f3ff"/>
<rect x="555.20" y="643.11" width="2.06" height="10.53" fill="#fcfcff"/>
<rect x="555.20" y="653.58" width="2.06" height="10.53" fill="#f2f2ff"/>
<rect x="555.20" y="664.05" width="2.06" height="10.53" fill="#e4e4ff"/>
<rect x="555.20" y="674.52" width="2.06" height="10.53" fill="#fffbfb"/>
<rect x="555.20" y="684.99" width="2.06" height="10.53" fill="#f5f5ff"/>
<rect x="557.20" y="507.00" width="1.06" height="10.53" fill="#ffc4c4"/>
<rect x="557.20" y="517.47" width="1.06" height="10.53" fill="#ffdbdb"/>
<rect x="557.20" y="527.94" width="1.06" height="10.53" fill="#eaeaff"/>
<rect x="557.20" y="538.41" width="1.06" height="10.53" fill="#ffd6d6"/>
<rect x="557.20" y="548.88" width="1.06" height="10.53" fill="#c7c7ff"/>
<rect x="557.20" y="559.35" width="1.06" height="10.53" fill="#e5e5ff"/>
<rect x="557.20" y="569.82" width="1.06" height="10.53" fill="#e6e6ff"/>
<rect x="557.20" y="580.29" width="1.06" height="10.53" fill="#d4d4ff"/>
<rect x="557.20" y="590.76" width="1.06" height="10.53" fill="#fffafa"/>
<rect x="557.20" y="601.23" width="1.06" height="10.53" fill="#e1e1ff"/>
<rect x="557.20" y="611.70" width="1.06" height="10.53" fill="#a6a6ff"/>
<rect x="557.20" y="622.17" width="1.06" height="10.53" fill="#a0a0ff"/>
<rect x="557.20" y="632.64" width="1.06" height="10.53" fill="#f0f0ff"/>
<rect x="557.20" y="643.11" width="1.06" height="10.53" fill="#b8b8ff"/>
<rect x="557.20" y="653.58" width="1.06" height="10.53" fill="#d5d5ff"/>
<rect x="557.20" y="664.05" width="1.06" height="10.53" fill="#c8c8ff"/>
<rect x="557.20" y="674.52" width="1.06" height="10.53" fill="#d3d3ff"/>
<rect x="557.20" y="684.99" width="1.06" height="10.53" fill="#d3d3ff"/>
<rect x="558.20" y="507.00" width="1.06" height="10.53" fill="#ffeeee"/>
<rect x="558.20" y="517.47" width="1.06" height="10.53" fill="#ffb8b8"/>
<rect x="558.20" y="527.94" width="1.06" height="10.53" fill="#ccccff"/>
<rect x="558.20" y="538.41" width="1.06" height="10.53" fill="#d4d4ff"/>
<rect x="558.20" y="548.88" width="1.06" height="10.53" fill="#d7d7ff"/>
<rect x="558.20" y="559.35" width="1.06" height="10.53" fill="#efefff"/>
<rect x="558.20" y="569.82" width="1.06" height="10.53" fill="#ddddff"/>
<rect x="558.20" y="580.29" width="1.06" height="10.53" fill="#dbdbff"/>
<rect x="558.20" y="590.76" width="1.06" height="10.53" fill="#ffecec"/>
<rect x="558.20" y="601.23" width="1.06" height="10.53" fill="#c8c8ff"/>
<rect x="558.20" y="611.70" width="1.06" height="10.53" fill="#d7d7ff"/>
<rect x="558.20" y="622.17" width="1.06" height="10.53" fill="#d0d0ff"/>
<rect x="558.20" y="632.64" width="1.06" height="10.53" fill="#d1d1ff"/>
<rect x="558.20" y="643.11" width="1.06" height="10.53" fill="#ddddff"/>
<rect x="558.20" y="653.58" width="1.06" height="10.53" fill="#c9c9ff"/>
<rect x="558.20" y="664.05" width="1.06" height="10.53" fill="#ceceff"/>
<rect x="558.20" y="674.52" width="1.06" height="10.53" fill="#f5f5ff"/>
<rect x="558.20" y="684.99" width="1.06" height="10.53" fill="#e7e7ff"/>
<rect x="559.20" y="507.00" width="1.46" height="10.53" fill="#ffaaaa"/>
<rect x="559.20" y="517.47" width="1.46" height="10.53" fill="#ffecec"/>
<rect x="559.20" y="527.94" width="1.46" height="10.53" fill="#f7f7ff"/>
<rect x="559.20" y="538.41" width="1.46" height="10.53" fill="#c7c7ff"/>
<rect x="559.20" y="548.88" width="1.46" height="10.53" fill="#b9b9ff"/>
<rect x="559.20" y="559.35" width="1.46" height="10.53" fill="#f0f0ff"/>
<rect x="559.20" y="569.82" width="1.46" height="10.53" fill="#f7f7ff"/>
<rect x="559.20" y="580.29" width="1.46" height="10.53" fill="#dbdbff"/>
<rect x="559.20" y="590.76" width="1.46" height="10.53" fill="#e8e8ff"/>
<rect x="559.20" y="601.23" width="1.46" height="10.53" fill="#bcbcff"/>
<rect x="559.20" y="611.70" width="1.46" height="10.53" fill="#e1e1ff"/>
<rect x="559.20" y="622.17" width="1.46" height="10.53" fill="#c7c7ff"/>
<rect x="559.20" y="632.64" width="1.46" height="10.53" fill="#e5e5ff"/>
<rect x="559.20" y="643.11" width="1.46" height="10.53" fill="#cfcfff"/>
<rect x="559.20" y="653.58" width="1.46" height="10.53" fill="#e7e7ff"/>
<rect x="559.20" y="664.05" width="1.46" height="10.53" fill="#cdcdff"/>
<rect x="559.20" y="674.52" width="1.46" height="10.53" fill="#dadaff"/>
<rect x="559.20" y="684.99" width="1.46" height="10.53" fill="#e6e6ff"/>
<rect x="563.30" y="507.00" width="1.06" height="10.53" fill="#bfbfff"/>
<rect x="563.30" y="517.47" width="1.06" height="10.53" fill="#b2b2ff"/>
<rect x="563.30" y="527.94" width="1.06" height="10.53" fill="#ffe9e9"/>
<rect x="563.30" y="538.41" width="1.06" height="10.53" fill="#ffc5c5"/>
<rect x="563.30" y="548.88" width="1.06" height="10.53" fill="#ffd8d8"/>
<rect x="563.30" y="559.35" width="1.06" height="10.53" fill="#ffb1b1"/>
<rect x="563.30" y="569.82" width="1.06" height="10.53" fill="#ffcaca"/>
<rect x="563.30" y="580.29" width="1.06" height="10.53" fill="#d4d4ff"/>
<rect x="563.30" y="590.76" width="1.06" height="10.53" fill="#ffbbbb"/>
<rect x="563.30" y="601.23" width="1.06" height="10.53" fill="#ffd4d4"/>
<rect x="563.30" y="611.70" width="1.06" height="10.53" fill="#fff5f5"/>
<rect x="563.30" y="622.17" width="1.06" height="10.53" fill="#ffdbdb"/>
<rect x="563.30" y="632.64" width="1.06" height="10.53" fill="#ffcfcf"/>
<rect x="563.30" y="643.11" width="1.06" height="10.53" fill="#ffdbdb"/>
<rect x="563.30" y="653.58" width="1.06" height="10.53" fill="#ff9191"/>
<rect x="563.30" y="664.05" width="1.06" height="10.53" fill="#ffacac"/>
<rect x="563.30" y="674.52" width="1.06" height="10.53" fill="#ffcaca"/>
<rect x="563.30" y="684.99" width="1.06" height="10.53" fill="#ff9696"/>
<rect x="564.30" y="507.00" width="1.06" height="10.53" fill="#c6c6ff"/>
<rect x="564.30" y="517.47" width="1.06" height="10.53" fill="#dbdbff"/>
<rect x="564.30" y="527.94" width="1.06" height="10.53" fill="#ff7f7f"/>
<rect x="564.30" y="538.41" width="1.06" height="10.53" fill="#ffdddd"/>
<rect x="564.30" y="548.88" width="1.06" height="10.53" fill="#ffc1c1"/>
<rect x="564.30" y="559.35" width="1.06" height="10.53" fill="#ffc4c4"/>
<rect x="564.30" y="569.82" width="1.06" height="10.53" fill="#efefff"/>
<rect x="564.30" y="580.29" width="1.06" height="10.53" fill="#ffbdbd"/>
<rect x="564.30" y="590.76" width="1.06" height="10.53" fill="#ffc1c1"/>
<rect x="564.30" y="601.23" width="1.06" height="10.53" fill="#ffbebe"/>
<rect x="564.30" y="611.70" width="1.06" height="10.53" fill="#ffe2e2"/>
<rect x="564.30" y="622.17" width="1.06" height="10.53" fill="#ff8484"/>
<rect x="564.30" y="632.64" width="1.06" height="10.53" fill="#ffecec"/>
<rect x="564.30" y="643.11" width="1.06" height="10.53" fill="#ffd2d2"/>
<rect x="564.30" y="653.58" width="1.06" height="10.53" fill="#ffabab"/>
<rect x="564.30" y="664.05" width="1.06" height="10.53" fill="#ffc6c6"/>
<rect x="564.30" y="674.52" width="1.06" height="10.53" fill="#ffa9a9"/>
<rect x="564.30" y="684.99" width="1.06" height="10.53" fill="#ff9e9e"/>
<rect x="565.30" y="507.00" width="1.56" height="10.53" fill="#ff8d8d"/>
<rect x="565.30" y="517.47" width="1.56" height="10.53" fill="#d7d7ff"/>
<rect x="565.30" y="527.94" width="1.56" height="10.53" fill="#fff4f4"/>
<rect x="565.30" y="538.41" width="1.56" height="10.53" fill="#fff0f0"/>
<rect x="565.30" y="548.88" width="1.56" height="10.53" fill="#fcfcff"/>
<rect x="565.30" y="559.35" width="1.56" height="10.53" fill="#ffebeb"/>
<rect x="565.30" y="569.82" width="1.56" height="10.53" fill="#e0e0ff"/>
<rect x="565.30" y="580.29" width="1.56" height="10.53" fill="#ffdddd"/>
<rect x="565.30" y="590.76" width="1.56" height="10.53" fill="#fcfcff"/>
<rect x="565.30" y="601.23" width="1.56" height="10.53" fill="#fff6f6"/>
<rect x="565.30" y="611.70" width="1.56" height="10.53" fill="#e7e7ff"/>
<rect x="565.30" y="622.17" width="1.56" height="10.53" fill="#fff8f8"/>
<rect x="565.30" y="632.64" width="1.56" height="10.53" fill="#f1f1ff"/>
<rect x="565.30" y="643.11" width="1.56" height="10.53" fill="#fffbfb"/>
<rect x="565.30" y="653.58" width="1.56" height="10.53" fill="#ffeeee"/>
<rect x="565.30" y="664.05" width="1.56" height="10.53" fill="#ffb1b1"/>
<rect x="565.30" y="674.52" width="1.56" height="10.53" fill="#ffe1e1"/>
<rect x="565.30" y="684.99" width="1.56" height="10.53" fill="#ffcccc"/>
<rect x="566.80" y="507.00" width="2.06" height="10.53" fill="#babaff"/>
<rect x="566.80" y="517.47" width="2.06" height="10.53" fill="#e2e2ff"/>
<rect x="566.80" y="527.94" width="2.06" height="10.53" fill="#e5e5ff"/>
<rect x="566.80" y="538.41" width="2.06" height="10.53" fill="#f6f6ff"/>
<rect x="566.80" y="548.88" width="2.06" height="10.53" fill="#dcdcff"/>
<rect x="566.80" y="559.35" width="2.06" height="10.53" fill="#ffebeb"/>
<rect x="566.80" y="569.82" width="2.06" height="10.53" fill="#fffefe"/>
<rect x="566.80" y="580.29" width="2.06" height="10.53" fill="#f3f3ff"/>
<rect x="566.80" y="590.76" width="2.06" height="10.53" fill="#fffefe"/>
<rect x="566.80" y="601.23" width="2.06" height="10.53" fill="#f2f2ff"/>
<rect x="566.80" y="611.70" width="2.06" height="10.53" fill="#fffcfc"/>
<rect x="566.80" y="622.17" width="2.06" height="10.53" fill="#fdfdff"/>
<rect x="566.80" y="632.64" width="2.06" height="10.53" fill="#fff5f5"/>
<rect x="566.80" y="643.11" width="2.06" height="10.53" fill="#f4f4ff"/>
<rect x="566.80" y="653.58" width="2.06" height="10.53" fill="#ffbaba"/>
<rect x="566.80" y="664.05" width="2.06" height="10.53" fill="#ffd5d5"/>
<rect x="566.80" y="674.52" width="2.06" height="10.53" fill="#fff7f7"/>
<rect x="566.80" y="684.99" width="2.06" height="10.53" fill="#ffc0c0"/>
<rect x="568.80" y="507.00" width="2.06" height="10.53" fill="#fafaff"/>
<rect x="568.80" y="517.47" width="2.06" height="10.53" fill="#ffecec"/>
<rect x="568.80" y="527.94" width="2.06" height="10.53" fill="#eeeeff"/>
<rect x="568.80" y="538.41" width="2.06" height="10.53" fill="#ffdbdb"/>
<rect x="568.80" y="548.88" width="2.06" height="10.53" fill="#fff7f7"/>
<rect x="568.80" y="559.35" width="2.06" height="10.53" fill="#ffd9d9"/>
<rect x="568.80" y="569.82" width="2.06" height="10.53" fill="#ffeeee"/>
<rect x="568.80" y="580.29" width="2.06" height="10.53" fill="#ffe1e1"/>
<rect x="568.80" y="590.76" width="2.06" height="10.53" fill="#fff3f3"/>
<rect x="568.80" y="601.23" width="2.06" height="10.53" fill="#ededff"/>
<rect x="568.80" y="611.70" width="2.06" height="10.53" fill="#efefff"/>
<rect x="568.80" y="622.17" width="2.06" height="10.53" fill="#fbfbff"/>
<rect x="568.80" y="632.64" width="2.06" height="10.53" fill="#ffd3d3"/>
<rect x="568.80" y="643.11" width="2.06" height="10.53" fill="#ffdcdc"/>
<rect x="568.80" y="653.58" width="2.06" height="10.53" fill="#ffdcdc"/>
<rect x="568.80" y="664.05" width="2.06" height="10.53" fill="#eeeeff"/>
<rect x="568.80" y="674.52" width="2.06" height="10.53" fill="#ffd1d1"/>
<rect x="568.80" y="684.99" width="2.06" height="10.53" fill="#ffc3c3"/>
<rect x="570.80" y="507.00" width="2.06" height="10.53" fill="#b0b0ff"/>
<rect x="570.80" y="517.47" width="2.06" height="10.53" fill="#b7b7ff"/>
<rect x="570.80" y="527.94" width="2.06" height="10.53" fill="#ffbebe"/>
<rect x="570.80" y="538.41" width="2.06" height="10.53" fill="#ffc7c7"/>
<rect x="570.80" y="548.88" width="2.06" height="10.53" fill="#ffc1c1"/>
<rect x="570.80" y="559.35" width="2.06" height="10.53" fill="#ffdada"/>
<rect x="570.80" y="569.82" width="2.06" height="10.53" fill="#ffe1e1"/>
<rect x="570.80" y="580.29" width="2.06" height="10.53" fill="#ffa5a5"/>
<rect x="570.80" y="590.76" width="2.06" height="10.53" fill="#ffcece"/>
<rect x="570.80" y="601.23" width="2.06" height="10.53" fill="#ffd5d5"/>
<rect x="570.80" y="611.70" width="2.06" height="10.53" fill="#ffc2c2"/>
<rect x="570.80" y="622.17" width="2.06" height="10.53" fill="#ffc4c4"/>
<rect x="570.80" y="632.64" width="2.06" height="10.53" fill="#ffe6e6"/>
<rect x="570.80" y="643.11" width="2.06" height="10.53" fill="#ffc7c7"/>
<rect x="570.80" y="653.58" width="2.06" height="10.53" fill="#ff9393"/>
<rect x="570.80" y="664.05" width="2.06" height="10.53" fill="#ffbebe"/>
<rect x="570.80" y="674.52" width="2.06" height="10.53" fill="#ff8c8c"/>
<rect x="570.80" y="684.99" width="2.06" height="10.53" fill="#ffa9a9"/>
<rect x="572.80" y="507.00" width="2.06" height="10.53" fill="#eeeeff"/>
<rect x="572.80" y="517.47" width="2.06" height="10.53" fill="#fafaff"/>
<rect x="572.80" y="527.94" width="2.06" height="10.53" fill="#fff2f2"/>
<rect x="572.80" y="538.41" width="2.06" height="10.53" fill="#fff6f6"/>
<rect x="572.80" y="548.88" width="2.06" height="10.53" fill="#f6f6ff"/>
<rect x="572.80" y="559.35" width="2.06" height="10.53" fill="#ffe6e6"/>
<rect x="572.80" y="569.82" width="2.06" height="10.53" fill="#ffcece"/>
<rect x="572.80" y="580.29" width="2.06" height="10.53" fill="#ffd4d4"/>
<rect x="572.80" y="590.76" width="2.06" height="10.53" fill="#ffe6e6"/>
<rect x="572.80" y="601.23" width="2.06" height="10.53" fill="#ffe2e2"/>
<rect x="572.80" y="611.70" width="2.06" height="10.53" fill="#fdfdff"/>
<rect x="572.80" y="622.17" width="2.06" height="10.53" fill="#ffc3c3"/>
<rect x="572.80" y="632.64" width="2.06" height="10.53" fill="#e2e2ff"/>
<rect x="572.80" y="643.11" width="2.06" height="10.53" fill="#ffd8d8"/>
<rect x="572.80" y="653.58" width="2.06" height="10.53" fill="#f4f4ff"/>
<rect x="572.80" y="664.05" width="2.06" height="10.53" fill="#ffa7a7"/>
<rect x="572.80" y="674.52" width="2.06" height="10.53" fill="#e5e5ff"/>
<rect x="572.80" y="684.99" width="2.06" height="10.53" fill="#ffeaea"/>
<rect x="574.80" y="507.00" width="1.56" height="10.53" fill="#e2e2ff"/>
<rect x="574.80" y="517.47" width="1.56" height="10.53" fill="#c8c8ff"/>
<rect x="574.80" y="527.94" width="1.56" height="10.53" fill="#ffdcdc"/>
<rect x="574.80" y="538.41" width="1.56" height="10.53" fill="#f9f9ff"/>
<rect x="574.80" y="548.88" width="1.56" height="10.53" fill="#ffe1e1"/>
<rect x="574.80" y="559.35" width="1.56" height="10.53" fill="#ffcece"/>
<rect x="574.80" y="569.82" width="1.56" height="10.53" fill="#ffe9e9"/>
<rect x="574.80" y="580.29" width="1.56" height="10.53" fill="#ffe8e8"/>
<rect x="574.80" y="590.76" width="1.56" height="10.53" fill="#fffdfd"/>
<rect x="574.80" y="601.23" width="1.56" height="10.53" fill="#ffd3d3"/>
<rect x="574.80" y="611.70" width="1.56" height="10.53" fill="#ffc2c2"/>
<rect x="574.80" y="622.17" width="1.56" height="10.53" fill="#fafaff"/>
<rect x="574.80" y="632.64" width="1.56" height="10.53" fill="#ffe0e0"/>
<rect x="574.80" y="643.11" width="1.56" height="10.53" fill="#fff2f2"/>
<rect x="574.80" y="653.58" width="1.56" height="10.53" fill="#ff8282"/>
<rect x="574.80" y="664.05" width="1.56" height="10.53" fill="#ffc9c9"/>
<rect x="574.80" y="674.52" width="1.56" height="10.53" fill="#cfcfff"/>
<rect x="574.80" y="684.99" width="1.56" height="10.53" fill="#ffd4d4"/>
<rect x="576.30" y="507.00" width="1.06" height="10.53" fill="#dbdbff"/>
<rect x="576.30" y="517.47" width="1.06" height="10.53" fill="#8989ff"/>
<rect x="576.30" y="527.94" width="1.06" height="10.53" fill="#ffcccc"/>
<rect x="576.30" y="538.41" width="1.06" height="10.53" fill="#ffcaca"/>
<rect x="576.30" y="548.88" width="1.06" height="10.53" fill="#ffcdcd"/>
<rect x="576.30" y="559.35" width="1.06" height="10.53" fill="#ff9a9a"/>
<rect x="576.30" y="569.82" width="1.06" height="10.53" fill="#ffcfcf"/>
<rect x="576.30" y="580.29" width="1.06" height="10.53" fill="#ff7777"/>
<rect x="576.30" y="590.76" width="1.06" height="10.53" fill="#ffb3b3"/>
<rect x="576.30" y="601.23" width="1.06" height="10.53" fill="#ffbebe"/>
<rect x="576.30" y="611.70" width="1.06" height="10.53" fill="#ffd4d4"/>
<rect x="576.30" y="622.17" width="1.06" height="10.53" fill="#ffe5e5"/>
<rect x="576.30" y="632.64" width="1.06" height="10.53" fill="#ffd1d1"/>
<rect x="576.30" y="643.11" width="1.06" height="10.53" fill="#ffb4b4"/>
<rect x="576.30" y="653.58" width="1.06" height="10.53" fill="#ff7a7a"/>
<rect x="576.30" y="664.05" width="1.06" height="10.53" fill="#ff9797"/>
<rect x="576.30" y="674.52" width="1.06" height="10.53" fill="#ff9d9d"/>
<rect x="576.30" y="684.99" width="1.06" height="10.53" fill="#ffb5b5"/>
<rect x="577.30" y="507.00" width="1.06" height="10.53" fill="#c3c3ff"/>
<rect x="577.30" y="517.47" width="1.06" height="10.53" fill="#c7c7ff"/>
<rect x="577.30" y="527.94" width="1.06" height="10.53" fill="#ffe1e1"/>
<rect x="577.30" y="538.41" width="1.06" height="10.53" fill="#ffd9d9"/>
<rect x="577.30" y="548.88" width="1.06" height="10.53" fill="#ff7474"/>
<rect x="577.30" y="559.35" width="1.06" height="10.53" fill="#ffc8c8"/>
<rect x="577.30" y="569.82" width="1.06" height="10.53" fill="#ffacac"/>
<rect x="577.30" y="580.29" width="1.06" height="10.53" fill="#ffafaf"/>
<rect x="577.30" y="590.76" width="1.06" height="10.53" fill="#ffd1d1"/>
<rect x="577.30" y="601.23" width="1.06" height="10.53" fill="#ffecec"/>
<rect x="577.30" y="611.70" width="1.06" height="10.53" fill="#ffb8b8"/>
<rect x="577.30" y="622.17" width="1.06" height="10.53" fill="#ffcece"/>
<rect x="577.30" y="632.64" width="1.06" height="10.53" fill="#ffe3e3"/>
<rect x="577.30" y="643.11" width="1.06" height="10.53" fill="#ffcccc"/>
<rect x="577.30" y="653.58" width="1.06" height="10.53" fill="#ffacac"/>
<rect x="577.30" y="664.05" width="1.06" height="10.53" fill="#ffd1d1"/>
<rect x="577.30" y="674.52" width="1.06" height="10.53" fill="#ffbbbb"/>
<rect x="577.30" y="684.99" width="1.06" height="10.53" fill="#ffbbbb"/>
<rect x="578.30" y="507.00" width="1.06" height="10.53" fill="#cfcfff"/>
<rect x="578.30" y="517.47" width="1.06" height="10.53" fill="#fff4f4"/>
<rect x="578.30" y="527.94" width="1.06" height="10.53" fill="#ffe9e9"/>
<rect x="578.30" y="538.41" width="1.06" height="10.53" fill="#f3f3ff"/>
<rect x="578.30" y="548.88" width="1.06" height="10.53" fill="#ffcdcd"/>
<rect x="578.30" y="559.35" width="1.06" height="10.53" fill="#d3d3ff"/>
<rect x="578.30" y="569.82" width="1.06" height="10.53" fill="#fff9f9"/>
<rect x="578.30" y="580.29" width="1.06" height="10.53" fill="#ffeaea"/>
<rect x="578.30" y="590.76" width="1.06" height="10.53" fill="#dedeff"/>
<rect x="578.30" y="601.23" width="1.06" height="10.53" fill="#fdfdff"/>
<rect x="578.30" y="611.70" width="1.06" height="10.53" fill="#e1e1ff"/>
<rect x="578.30" y="622.17" width="1.06" height="10.53" fill="#bcbcff"/>
<rect x="578.30" y="632.64" width="1.06" height="10.53" fill="#e4e4ff"/>
<rect x="578.30" y="643.11" width="1.06" height="10.53" fill="#fff4f4"/>
<rect x="578.30" y="653.58" width="1.06" height="10.53" fill="#f8f8ff"/>
<rect x="578.30" y="664.05" width="1.06" height="10.53" fill="#fbfbff"/>
<rect x="578.30" y="674.52" width="1.06" height="10.53" fill="#fafaff"/>
<rect x="578.30" y="684.99" width="1.06" height="10.53" fill="#ffe6e6"/>
<rect x="579.30" y="507.00" width="2.06" height="10.53" fill="#f5f5ff"/>
<rect x="579.30" y="517.47" width="2.06" height="10.53" fill="#ffc8c8"/>
<rect x="579.30" y="527.94" width="2.06" height="10.53" fill="#f1f1ff"/>
<rect x="579.30" y="538.41" width="2.06" height="10.53" fill="#ffbfbf"/>
<rect x="579.30" y="548.88" width="2.06" height="10.53" fill="#ffffff"/>
<rect x="579.30" y="559.35" width="2.06" height="10.53" fill="#ffc6c6"/>
<rect x="579.30" y="569.82" width="2.06" height="10.53" fill="#ffd3d3"/>
<rect x="579.30" y="580.29" width="2.06" height="10.53" fill="#ffebeb"/>
<rect x="579.30" y="590.76" width="2.06" height="10.53" fill="#f7f7ff"/>
<rect x="579.30" y="601.23" width="2.06" height="10.53" fill="#fff7f7"/>
<rect x="579.30" y="611.70" width="2.06" height="10.53" fill="#f6f6ff"/>
<rect x="579.30" y="622.17" width="2.06" height="10.53" fill="#fff5f5"/>
<rect x="579.30" y="632.64" width="2.06" height="10.53" fill="#ffeaea"/>
<rect x="579.30" y="643.11" width="2.06" height="10.53" fill="#fff6f6"/>
<rect x="579.30" y="653.58" width="2.06" height="10.53" fill="#ff9393"/>
<rect x="579.30" y="664.05" width="2.06" height="10.53" fill="#ffcaca"/>
<rect x="579.30" y="674.52" width="2.06" height="10.53" fill="#ffe8e8"/>
<rect x="579.30" y="684.99" width="2.06" height="10.53" fill="#ffd9d9"/>
<rect x="581.30" y="507.00" width="2.06" height="10.53" fill="#d9d9ff"/>
<rect x="581.30" y="517.47" width="2.06" height="10.53" fill="#fffefe"/>
<rect x="581.30" y="527.94" width="2.06" height="10.53" fill="#ffb2b2"/>
<rect x="581.30" y="538.41" width="2.06" height="10.53" fill="#ffeded"/>
<rect x="581.30" y="548.88" width="2.06" height="10.53" fill="#ffd7d7"/>
<rect x="581.30" y="559.35" width="2.06" height="10.53" fill="#ffdcdc"/>
<rect x="581.30" y="569.82" width="2.06" height="10.53" fill="#fff0f0"/>
<rect x="581.30" y="580.29" width="2.06" height="10.53" fill="#ffaaaa"/>
<rect x="581.30" y="590.76" width="2.06" height="10.53" fill="#efefff"/>
<rect x="581.30" y="601.23" width="2.06" height="10.53" fill="#ffb9b9"/>
<rect x="581.30" y="611.70" width="2.06" height="10.53" fill="#ff9f9f"/>
<rect x="581.30" y="622.17" width="2.06" height="10.53" fill="#ffd0d0"/>
<rect x="581.30" y="632.64" width="2.06" height="10.53" fill="#ffe3e3"/>
<rect x="581.30" y="643.11" width="2.06" height="10.53" fill="#ffaaaa"/>
<rect x="581.30" y="653.58" width="2.06" height="10.53" fill="#ffbdbd"/>
<rect x="581.30" y="664.05" width="2.06" height="10.53" fill="#ffc1c1"/>
<rect x="581.30" y="674.52" width="2.06" height="10.53" fill="#ffc7c7"/>
<rect x="581.30" y="684.99" width="2.06" height="10.53" fill="#ffe0e0"/>
<rect x="583.30" y="507.00" width="2.06" height="10.53" fill="#fafaff"/>
<rect x="583.30" y="517.47" width="2.06" height="10.53" fill="#ffe3e3"/>
<rect x="583.30" y="527.94" width="2.06" height="10.53" fill="#ffe1e1"/>
<rect x="583.30" y="538.41" width="2.06" height="10.53" fill="#ffe9e9"/>
<rect x="583.30" y="548.88" width="2.06" height="10.53" fill="#ffc5c5"/>
<rect x="583.30" y="559.35" width="2.06" height="10.53" fill="#ffdcdc"/>
<rect x="583.30" y="569.82" width="2.06" height="10.53" fill="#ffcfcf"/>
<rect x="583.30" y="580.29" width="2.06" height="10.53" fill="#ff6e6e"/>
<rect x="583.30" y="590.76" width="2.06" height="10.53" fill="#ff9797"/>
<rect x="583.30" y="601.23" width="2.06" height="10.53" fill="#fff7f7"/>
<rect x="583.30" y="611.70" width="2.06" height="10.53" fill="#ffd4d4"/>
<rect x="583.30" y="622.17" width="2.06" height="10.53" fill="#ffcccc"/>
<rect x="583.30" y="632.64" width="2.06" height="10.53" fill="#ffebeb"/>
<rect x="583.30" y="643.11" width="2.06" height="10.53" fill="#fffbfb"/>
<rect x="583.30" y="653.58" width="2.06" height="10.53" fill="#ffc2c2"/>
<rect x="583.30" y="664.05" width="2.06" height="10.53" fill="#ffa5a5"/>
<rect x="583.30" y="674.52" width="2.06" height="10.53" fill="#ffc3c3"/>
<rect x="583.30" y="684.99" width="2.06" height="10.53" fill="#ffb5b5"/>
<rect x="585.30" y="507.00" width="1.56" height="10.53" fill="#dfdfff"/>
<rect x="585.30" y="517.47" width="1.56" height="10.53" fill="#f9f9ff"/>
<rect x="585.30" y="527.94" width="1.56" height="10.53" fill="#fff9f9"/>
<rect x="585.30" y="538.41" width="1.56" height="10.53" fill="#f0f0ff"/>
<rect x="585.30" y="548.88" width="1.56" height="10.53" fill="#ffd7d7"/>
<rect x="585.30" y="559.35" width="1.56" height="10.53" fill="#fff2f2"/>
<rect x="585.30" y="569.82" width="1.56" height="10.53" fill="#fff5f5"/>
<rect x="585.30" y="580.29" width="1.56" height="10.53" fill="#ffd9d9"/>
<rect x="585.30" y="590.76" width="1.56" height="10.53" fill="#ffcece"/>
<rect x="585.30" y="601.23" width="1.56" height="10.53" fill="#ffe9e9"/>
<rect x="585.30" y="611.70" width="1.56" height="10.53" fill="#ffe5e5"/>
<rect x="585.30" y="622.17" width="1.56" height="10.53" fill="#fff3f3"/>
<rect x="585.30" y="632.64" width="1.56" height="10.53" fill="#fff8f8"/>
<rect x="585.30" y="643.11" width="1.56" height="10.53" fill="#fffafa"/>
<rect x="585.30" y="653.58" width="1.56" height="10.53" fill="#ffe1e1"/>
<rect x="585.30" y="664.05" width="1.56" height="10.53" fill="#ffcdcd"/>
<rect x="585.30" y="674.52" width="1.56" height="10.53" fill="#ffdbdb"/>
<rect x="585.30" y="684.99" width="1.56" height="10.53" fill="#fff7f7"/>
<rect x="586.80" y="507.00" width="2.06" height="10.53" fill="#f1f1ff"/>
<rect x="586.80" y="517.47" width="2.06" height="10.53" fill="#ebebff"/>
<rect x="586.80" y="527.94" width="2.06" height="10.53" fill="#f1f1ff"/>
<rect x="586.80" y="538.41" width="2.06" height="10.53" fill="#ffe6e6"/>
<rect x="586.80" y="548.88" width="2.06" height="10.53" fill="#ffb5b5"/>
<rect x="586.80" y="559.35" width="2.06" height="10.53" fill="#fffdfd"/>
<rect x="586.80" y="569.82" width="2.06" height="10.53" fill="#ffd2d2"/>
<rect x="586.80" y="580.29" width="2.06" height="10.53" fill="#ffb2b2"/>
<rect x="586.80" y="590.76" width="2.06" height="10.53" fill="#fff6f6"/>
<rect x="586.80" y="601.23" width="2.06" height="10.53" fill="#ffebeb"/>
<rect x="586.80" y="611.70" width="2.06" height="10.53" fill="#f1f1ff"/>
<rect x="586.80" y="622.17" width="2.06" height="10.53" fill="#ffd2d2"/>
<rect x="586.80" y="632.64" width="2.06" height="10.53" fill="#ffc9c9"/>
<rect x="586.80" y="643.11" width="2.06" height="10.53" fill="#ffeaea"/>
<rect x="586.80" y="653.58" width="2.06" height="10.53" fill="#ffbdbd"/>
<rect x="586.80" y="664.05" width="2.06" height="10.53" fill="#ffdfdf"/>
<rect x="586.80" y="674.52" width="2.06" height="10.53" fill="#ffd4d4"/>
<rect x="586.80" y="684.99" width="2.06" height="10.53" fill="#ffdfdf"/>
<rect x="588.80" y="507.00" width="1.06" height="10.53" fill="#fff1f1"/>
<rect x="588.80" y="517.47" width="1.06" height="10.53" fill="#fff6f6"/>
<rect x="588.80" y="527.94" width="1.06" height="10.53" fill="#fff4f4"/>
<rect x="588.80" y="538.41" width="1.06" height="10.53" fill="#ffc8c8"/>
<rect x="588.80" y="548.88" width="1.06" height="10.53" fill="#ffc7c7"/>
<rect x="588.80" y="559.35" width="1.06" height="10.53" fill="#ffc7c7"/>
<rect x="588.80" y="569.82" width="1.06" height="10.53" fill="#ffb0b0"/>
<rect x="588.80" y="580.29" width="1.06" height="10.53" fill="#ffbfbf"/>
<rect x="588.80" y="590.76" width="1.06" height="10.53" fill="#ffe9e9"/>
<rect x="588.80" y="601.23" width="1.06" height="10.53" fill="#ffe6e6"/>
<rect x="588.80" y="611.70" width="1.06" height="10.53" fill="#ffd2d2"/>
<rect x="588.80" y="622.17" width="1.06" height="10.53" fill="#fff7f7"/>
<rect x="588.80" y="632.64" width="1.06" height="10.53" fill="#ffe8e8"/>
<rect x="588.80" y="643.11" width="1.06" height="10.53" fill="#ffdcdc"/>
<rect x="588.80" y="653.58" width="1.06" height="10.53" fill="#ffc7c7"/>
<rect x="588.80" y="664.05" width="1.06" height="10.53" fill="#ffb6b6"/>
<rect x="588.80" y="674.52" width="1.06" height="10.53" fill="#ffa5a5"/>
<rect x="588.80" y="684.99" width="1.06" height="10.53" fill="#ffcdcd"/>
<rect x="589.80" y="507.00" width="1.06" height="10.53" fill="#babaff"/>
<rect x="589.80" y="517.47" width="1.06" height="10.53" fill="#e0e0ff"/>
<rect x="589.80" y="527.94" width="1.06" height="10.53" fill="#ffc8c8"/>
<rect x="589.80" y="538.41" width="1.06" height="10.53" fill="#ffa9a9"/>
<rect x="589.80" y="548.88" width="1.06" height="10.53" fill="#ffc2c2"/>
<rect x="589.80" y="559.35" width="1.06" height="10.53" fill="#ffd3d3"/>
<rect x="589.80" y="569.82" width="1.06" height="10.53" fill="#ffafaf"/>
<rect x="589.80" y="580.29" width="1.06" height="10.53" fill="#ffaaaa"/>
<rect x="589.80" y="590.76" width="1.06" height="10.53" fill="#ffe5e5"/>
<rect x="589.80" y="601.23" width="1.06" height="10.53" fill="#ffe2e2"/>
<rect x="589.80" y="611.70" width="1.06" height="10.53" fill="#fff2f2"/>
<rect x="589.80" y="622.17" width="1.06" height="10.53" fill="#ff6060"/>
<rect x="589.80" y="632.64" width="1.06" height="10.53" fill="#ffb8b8"/>
<rect x="589.80" y="643.11" width="1.06" height="10.53" fill="#ffd5d5"/>
<rect x="589.80" y="653.58" width="1.06" height="10.53" fill="#ffe0e0"/>
<rect x="589.80" y="664.05" width="1.06" height="10.53" fill="#ffb7b7"/>
<rect x="589.80" y="674.52" width="1.06" height="10.53" fill="#ffc8c8"/>
<rect x="589.80" y="684.99" width="1.06" height="10.53" fill="#ffa5a5"/>
<rect x="590.80" y="507.00" width="1.06" height="10.53" fill="#e9e9ff"/>
<rect x="590.80" y="517.47" width="1.06" height="10.53" fill="#f3f3ff"/>
<rect x="590.80" y="527.94" width="1.06" height="10.53" fill="#ffffff"/>
<rect x="590.80" y="538.41" width="1.06" height="10.53" fill="#f4f4ff"/>
<rect x="590.80" y="548.88" width="1.06" height="10.53" fill="#ffafaf"/>
<rect x="590.80" y="559.35" width="1.06" height="10.53" fill="#ffcece"/>
<rect x="590.80" y="569.82" width="1.06" height="10.53" fill="#ffd3d3"/>
<rect x="590.80" y="580.29" width="1.06" height="10.53" fill="#ffb9b9"/>
<rect x="590.80" y="590.76" width="1.06" height="10.53" fill="#ffc9c9"/>
<rect x="590.80" y="601.23" width="1.06" height="10.53" fill="#ffcaca"/>
<rect x="590.80" y="611.70" width="1.06" height="10.53" fill="#fffafa"/>
<rect x="590.80" y="622.17" width="1.06" height="10.53" fill="#fff0f0"/>
<rect x="590.80" y="632.64" width="1.06" height="10.53" fill="#ffe4e4"/>
<rect x="590.80" y="643.11" width="1.06" height="10.53" fill="#ffeded"/>
<rect x="590.80" y="653.58" width="1.06" height="10.53" fill="#ffc3c3"/>
<rect x="590.80" y="664.05" width="1.06" height="10.53" fill="#ffecec"/>
<rect x="590.80" y="674.52" width="1.06" height="10.53" fill="#ffb9b9"/>
<rect x="590.80" y="684.99" width="1.06" height="10.53" fill="#ff9999"/>
<rect x="591.80" y="507.00" width="2.06" height="10.53" fill="#ffe8e8"/>
<rect x="591.80" y="517.47" width="2.06" height="10.53" fill="#fff2f2"/>
<rect x="591.80" y="527.94" width="2.06" height="10.53" fill="#efefff"/>
<rect x="591.80" y="538.41" width="2.06" height="10.53" fill="#eaeaff"/>
<rect x="591.80" y="548.88" width="2.06" height="10.53" fill="#ffe3e3"/>
<rect x="591.80" y="559.35" width="2.06" height="10.53" fill="#e5e5ff"/>
<rect x="591.80" y="569.82" width="2.06" height="10.53" fill="#f5f5ff"/>
<rect x="591.80" y="580.29" width="2.06" height="10.53" fill="#f1f1ff"/>
<rect x="591.80" y="590.76" width="2.06" height="10.53" fill="#f4f4ff"/>
<rect x="591.80" y="601.23" width="2.06" height="10.53" fill="#fffcfc"/>
<rect x="591.80" y="611.70" width="2.06" height="10.53" fill="#ffd5d5"/>
<rect x="591.80" y="622.17" width="2.06" height="10.53" fill="#fff0f0"/>
<rect x="591.80" y="632.64" width="2.06" height="10.53" fill="#f3f3ff"/>
<rect x="591.80" y="643.11" width="2.06" height="10.53" fill="#ffc6c6"/>
<rect x="591.80" y="653.58" width="2.06" height="10.53" fill="#ececff"/>
<rect x="591.80" y="664.05" width="2.06" height="10.53" fill="#fff7f7"/>
<rect x="591.80" y="674.52" width="2.06" height="10.53" fill="#ffc7c7"/>
<rect x="591.80" y="684.99" width="2.06" height="10.53" fill="#ffe8e8"/>
<rect x="593.80" y="507.00" width="1.06" height="10.53" fill="#efefff"/>
<rect x="593.80" y="517.47" width="1.06" height="10.53" fill="#c3c3ff"/>
<rect x="593.80" y="527.94" width="1.06" height="10.53" fill="#ffd1d1"/>
<rect x="593.80" y="538.41" width="1.06" height="10.53" fill="#fffefe"/>
<rect x="593.80" y="548.88" width="1.06" height="10.53" fill="#ffc5c5"/>
<rect x="593.80" y="559.35" width="1.06" height="10.53" fill="#ffd8d8"/>
<rect x="593.80" y="569.82" width="1.06" height="10.53" fill="#ffdede"/>
<rect x="593.80" y="580.29" width="1.06" height="10.53" fill="#ffcaca"/>
<rect x="593.80" y="590.76" width="1.06" height="10.53" fill="#e1e1ff"/>
<rect x="593.80" y="601.23" width="1.06" height="10.53" fill="#ffb3b3"/>
<rect x="593.80" y="611.70" width="1.06" height="10.53" fill="#ffc1c1"/>
<rect x="593.80" y="622.17" width="1.06" height="10.53" fill="#ffb6b6"/>
<rect x="593.80" y="632.64" width="1.06" height="10.53" fill="#ffbebe"/>
<rect x="593.80" y="643.11" width="1.06" height="10.53" fill="#ffdada"/>
<rect x="593.80" y="653.58" width="1.06" height="10.53" fill="#ffd4d4"/>
<rect x="593.80" y="664.05" width="1.06" height="10.53" fill="#ffebeb"/>
<rect x="593.80" y="674.52" width="1.06" height="10.53" fill="#ffd4d4"/>
<rect x="593.80" y="684.99" width="1.06" height="10.53" fill="#ffb3b3"/>
<rect x="594.80" y="507.00" width="1.06" height="10.53" fill="#fffcfc"/>
<rect x="594.80" y="517.47" width="1.06" height="10.53" fill="#ffe7e7"/>
<rect x="594.80" y="527.94" width="1.06" height="10.53" fill="#ffd2d2"/>
<rect x="594.80" y="538.41" width="1.06" height="10.53" fill="#ffc9c9"/>
<rect x="594.80" y="548.88" width="1.06" height="10.53" fill="#ffd4d4"/>
<rect x="594.80" y="559.35" width="1.06" height="10.53" fill="#ffe9e9"/>
<rect x="594.80" y="569.82" width="1.06" height="10.53" fill="#ffe5e5"/>
<rect x="594.80" y="580.29" width="1.06" height="10.53" fill="#ffabab"/>
<rect x="594.80" y="590.76" width="1.06" height="10.53" fill="#e1e1ff"/>
<rect x="594.80" y="601.23" width="1.06" height="10.53" fill="#ffebeb"/>
<rect x="594.80" y="611.70" width="1.06" height="10.53" fill="#fffefe"/>
<rect x="594.80" y="622.17" width="1.06" height="10.53" fill="#ffeaea"/>
<rect x="594.80" y="632.64" width="1.06" height="10.53" fill="#ffe5e5"/>
<rect x="594.80" y="643.11" width="1.06" height="10.53" fill="#ffdfdf"/>
<rect x="594.80" y="653.58" width="1.06" height="10.53" fill="#ffc0c0"/>
<rect x="594.80" y="664.05" width="1.06" height="10.53" fill="#ffbbbb"/>
<rect x="594.80" y="674.52" width="1.06" height="10.53" fill="#ffdede"/>
<rect x="594.80" y="684.99" width="1.06" height="10.53" fill="#ffdcdc"/>
<rect x="595.80" y="507.00" width="1.06" height="10.53" fill="#d5d5ff"/>
<rect x="595.80" y="517.47" width="1.06" height="10.53" fill="#d4d4ff"/>
<rect x="595.80" y="527.94" width="1.06" height="10.53" fill="#fff3f3"/>
<rect x="595.80" y="538.41" width="1.06" height="10.53" fill="#ffeeee"/>
<rect x="595.80" y="548.88" width="1.06" height="10.53" fill="#ffd4d4"/>
<rect x="595.80" y="559.35" width="1.06" height="10.53" fill="#ffe0e0"/>
<rect x="595.80" y="569.82" width="1.06" height="10.53" fill="#ffbcbc"/>
<rect x="595.80" y="580.29" width="1.06" height="10.53" fill="#ffcaca"/>
<rect x="595.80" y="590.76" width="1.06" height="10.53" fill="#ffd4d4"/>
<rect x="595.80" y="601.23" width="1.06" height="10.53" fill="#ffd2d2"/>
<rect x="595.80" y="611.70" width="1.06" height="10.53" fill="#ffbaba"/>
<rect x="595.80" y="622.17" width="1.06" height="10.53" fill="#ffdada"/>
<rect x="595.80" y="632.64" width="1.06" height="10.53" fill="#fff3f3"/>
<rect x="595.80" y="643.11" width="1.06" height="10.53" fill="#ffd3d3"/>
<rect x="595.80" y="653.58" width="1.06" height="10.53" fill="#ff9d9d"/>
<rect x="595.80" y="664.05" width="1.06" height="10.53" fill="#ffd8d8"/>
<rect x="595.80" y="674.52" width="1.06" height="10.53" fill="#ffc8c8"/>
<rect x="595.80" y="684.99" width="1.06" height="10.53" fill="#ffc7c7"/>
<rect x="596.80" y="507.00" width="2.06" height="10.53" fill="#fffbfb"/>
<rect x="596.80" y="517.47" width="2.06" height="10.53" fill="#f3f3ff"/>
<rect x="596.80" y="527.94" width="2.06" height="10.53" fill="#f2f2ff"/>
<rect x="596.80" y="538.41" width="2.06" height="10.53" fill="#ffacac"/>
<rect x="596.80" y="548.88" width="2.06" height="10.53" fill="#ffd2d2"/>
<rect x="596.80" y="559.35" width="2.06" height="10.53" fill="#ffc8c8"/>
<rect x="596.80" y="569.82" width="2.06" height="10.53" fill="#ffe4e4"/>
<rect x="596.80" y="580.29" width="2.06" height="10.53" fill="#ffd6d6"/>
<rect x="596.80" y="590.76" width="2.06" height="10.53" fill="#fffefe"/>
<rect x="596.80" y="601.23" width="2.06" height="10.53" fill="#ffd7d7"/>
<rect x="596.80" y="611.70" width="2.06" height="10.53" fill="#ffc4c4"/>
<rect x="596.80" y="622.17" width="2.06" height="10.53" fill="#ffc3c3"/>
<rect x="596.80" y="632.64" width="2.06" height="10.53" fill="#ffe6e6"/>
<rect x="596.80" y="643.11" width="2.06" height="10.53" fill="#ffbdbd"/>
<rect x="596.80" y="653.58" width="2.06" height="10.53" fill="#ffdcdc"/>
<rect x="596.80" y="664.05" width="2.06" height="10.53" fill="#ffd7d7"/>
<rect x="596.80" y="674.52" width="2.06" height="10.53" fill="#ffcccc"/>
<rect x="596.80" y="684.99" width="2.06" height="10.53" fill="#ffefef"/>
<rect x="598.80" y="507.00" width="1.06" height="10.53" fill="#fffefe"/>
<rect x="598.80" y="517.47" width="1.06" height="10.53" fill="#bdbdff"/>
<rect x="598.80" y="527.94" width="1.06" height="10.53" fill="#ffe3e3"/>
<rect x="598.80" y="538.41" width="1.06" height="10.53" fill="#ffe7e7"/>
<rect x="598.80" y="548.88" width="1.06" height="10.53" fill="#ffc5c5"/>
<rect x="598.80" y="559.35" width="1.06" height="10.53" fill="#ffcbcb"/>
<rect x="598.80" y="569.82" width="1.06" height="10.53" fill="#ffd9d9"/>
<rect x="598.80" y="580.29" width="1.06" height="10.53" fill="#ffc9c9"/>
<rect x="598.80" y="590.76" width="1.06" height="10.53" fill="#fff4f4"/>
<rect x="598.80" y="601.23" width="1.06" height="10.53" fill="#ffa9a9"/>
<rect x="598.80" y="611.70" width="1.06" height="10.53" fill="#ffc1c1"/>
<rect x="598.80" y="622.17" width="1.06" height="10.53" fill="#ffc5c5"/>
<rect x="598.80" y="632.64" width="1.06" height="10.53" fill="#ffbdbd"/>
<rect x="598.80" y="643.11" width="1.06" height="10.53" fill="#ffa9a9"/>
<rect x="598.80" y="653.58" width="1.06" height="10.53" fill="#ffdddd"/>
<rect x="598.80" y="664.05" width="1.06" height="10.53" fill="#ffb6b6"/>
<rect x="598.80" y="674.52" width="1.06" height="10.53" fill="#ff6f6f"/>
<rect x="598.80" y="684.99" width="1.06" height="10.53" fill="#ffd2d2"/>
<rect x="599.80" y="507.00" width="1.06" height="10.53" fill="#e7e7ff"/>
<rect x="599.80" y="517.47" width="1.06" height="10.53" fill="#ffeaea"/>
<rect x="599.80" y="527.94" width="1.06" height="10.53" fill="#ffd7d7"/>
<rect x="599.80" y="538.41" width="1.06" height="10.53" fill="#ffe1e1"/>
<rect x="599.80" y="548.88" width="1.06" height="10.53" fill="#ffc0c0"/>
<rect x="599.80" y="559.35" width="1.06" height="10.53" fill="#fff4f4"/>
<rect x="599.80" y="569.82" width="1.06" height="10.53" fill="#ffdcdc"/>
<rect x="599.80" y="580.29" width="1.06" height="10.53" fill="#ff9d9d"/>
<rect x="599.80" y="590.76" width="1.06" height="10.53" fill="#fefeff"/>
<rect x="599.80" y="601.23" width="1.06" height="10.53" fill="#ffc6c6"/>
<rect x="599.80" y="611.70" width="1.06" height="10.53" fill="#ffb3b3"/>
<rect x="599.80" y="622.17" width="1.06" height="10.53" fill="#f1f1ff"/>
<rect x="599.80" y="632.64" width="1.06" height="10.53" fill="#ffc1c1"/>
<rect x="599.80" y="643.11" width="1.06" height="10.53" fill="#fcfcff"/>
<rect x="599.80" y="653.58" width="1.06" height="10.53" fill="#ffc0c0"/>
<rect x="599.80" y="664.05" width="1.06" height="10.53" fill="#ffcfcf"/>
<rect x="599.80" y="674.52" width="1.06" height="10.53" fill="#ffa2a2"/>
<rect x="599.80" y="684.99" width="1.06" height="10.53" fill="#ffb1b1"/>
<rect x="600.80" y="507.00" width="1.56" height="10.53" fill="#e1e1ff"/>
<rect x="600.80" y="517.47" width="1.56" height="10.53" fill="#e7e7ff"/>
<rect x="600.80" y="527.94" width="1.56" height="10.53" fill="#f8f8ff"/>
<rect x="600.80" y="538.41" width="1.56" height="10.53" fill="#fff3f3"/>
<rect x="600.80" y="548.88" width="1.56" height="10.53" fill="#ffa9a9"/>
<rect x="600.80" y="559.35" width="1.56" height="10.53" fill="#ffe3e3"/>
<rect x="600.80" y="569.82" width="1.56" height="10.53" fill="#ffd9d9"/>
<rect x="600.80" y="580.29" width="1.56" height="10.53" fill="#ffd4d4"/>
<rect x="600.80" y="590.76" width="1.56" height="10.53" fill="#fff9f9"/>
<rect x="600.80" y="601.23" width="1.56" height="10.53" fill="#ffc5c5"/>
<rect x="600.80" y="611.70" width="1.56" height="10.53" fill="#ffc1c1"/>
<rect x="600.80" y="622.17" width="1.56" height="10.53" fill="#fff1f1"/>
<rect x="600.80" y="632.64" width="1.56" height="10.53" fill="#ffb1b1"/>
<rect x="600.80" y="643.11" width="1.56" height="10.53" fill="#ffe6e6"/>
<rect x="600.80" y="653.58" width="1.56" height="10.53" fill="#ffb8b8"/>
<rect x="600.80" y="664.05" width="1.56" height="10.53" fill="#fbfbff"/>
<rect x="600.80" y="674.52" width="1.56" height="10.53" fill="#fff6f6"/>
<rect x="600.80" y="684.99" width="1.56" height="10.53" fill="#ffbbbb"/>
<rect x="602.30" y="507.00" width="1.06" height="10.53" fill="#c2c2ff"/>
<rect x="602.30" y="517.47" width="1.06" height="10.53" fill="#d6d6ff"/>
<rect x="602.30" y="527.94" width="1.06" height="10.53" fill="#ffa3a3"/>
<rect x="602.30" y="538.41" width="1.06" height="10.53" fill="#ffd6d6"/>
<rect x="602.30" y="548.88" width="1.06" height="10.53" fill="#ffbdbd"/>
<rect x="602.30" y="559.35" width="1.06" height="10.53" fill="#ffc0c0"/>
<rect x="602.30" y="569.82" width="1.06" height="10.53" fill="#ffb1b1"/>
<rect x="602.30" y="580.29" width="1.06" height="10.53" fill="#ff8e8e"/>
<rect x="602.30" y="590.76" width="1.06" height="10.53" fill="#ffdfdf"/>
<rect x="602.30" y="601.23" width="1.06" height="10.53" fill="#ffb6b6"/>
<rect x="602.30" y="611.70" width="1.06" height="10.53" fill="#ffaeae"/>
<rect x="602.30" y="622.17" width="1.06" height="10.53" fill="#fffcfc"/>
<rect x="602.30" y="632.64" width="1.06" height="10.53" fill="#ffa0a0"/>
<rect x="602.30" y="643.11" width="1.06" height="10.53" fill="#ffb6b6"/>
<rect x="602.30" y="653.58" width="1.06" height="10.53" fill="#ff4747"/>
<rect x="602.30" y="664.05" width="1.06" height="10.53" fill="#ffcccc"/>
<rect x="602.30" y="674.52" width="1.06" height="10.53" fill="#ffaaaa"/>
<rect x="602.30" y="684.99" width="1.06" height="10.53" fill="#ff9f9f"/>
<rect x="603.30" y="507.00" width="1.06" height="10.53" fill="#ededff"/>
<rect x="603.30" y="517.47" width="1.06" height="10.53" fill="#f6f6ff"/>
<rect x="603.30" y="527.94" width="1.06" height="10.53" fill="#fff6f6"/>
<rect x="603.30" y="538.41" width="1.06" height="10.53" fill="#ffc6c6"/>
<rect x="603.30" y="548.88" width="1.06" height="10.53" fill="#fff2f2"/>
<rect x="603.30" y="559.35" width="1.06" height="10.53" fill="#ffd0d0"/>
<rect x="603.30" y="569.82" width="1.06" height="10.53" fill="#ff9999"/>
<rect x="603.30" y="580.29" width="1.06" height="10.53" fill="#ff9d9d"/>
<rect x="603.30" y="590.76" width="1.06" height="10.53" fill="#ffeaea"/>
<rect x="603.30" y="601.23" width="1.06" height="10.53" fill="#ffc5c5"/>
<rect x="603.30" y="611.70" width="1.06" height="10.53" fill="#ffc9c9"/>
<rect x="603.30" y="622.17" width="1.06" height="10.53" fill="#ffa4a4"/>
<rect x="603.30" y="632.64" width="1.06" height="10.53" fill="#ffdede"/>
<rect x="603.30" y="643.11" width="1.06" height="10.53" fill="#fffbfb"/>
<rect x="603.30" y="653.58" width="1.06" height="10.53" fill="#ffb7b7"/>
<rect x="603.30" y="664.05" width="1.06" height="10.53" fill="#ffcbcb"/>
<rect x="603.30" y="674.52" width="1.06" height="10.53" fill="#ffefef"/>
<rect x="603.30" y="684.99" width="1.06" height="10.53" fill="#ffd7d7"/>
<rect x="604.30" y="507.00" width="1.06" height="10.53" fill="#fff7f7"/>
<rect x="604.30" y="517.47" width="1.06" height="10.53" fill="#ffe6e6"/>
<rect x="604.30" y="527.94" width="1.06" height="10.53" fill="#ffeeee"/>
<rect x="604.30" y="538.41" width="1.06" height="10.53" fill="#efefff"/>
<rect x="604.30" y="548.88" width="1.06" height="10.53" fill="#ffeeee"/>
<rect x="604.30" y="559.35" width="1.06" height="10.53" fill="#fff3f3"/>
<rect x="604.30" y="569.82" width="1.06" height="10.53" fill="#ffeaea"/>
<rect x="604.30" y="580.29" width="1.06" height="10.53" fill="#ebebff"/>
<rect x="604.30" y="590.76" width="1.06" height="10.53" fill="#fffdfd"/>
<rect x="604.30" y="601.23" width="1.06" height="10.53" fill="#ffd9d9"/>
<rect x="604.30" y="611.70" width="1.06" height="10.53" fill="#fffefe"/>
<rect x="604.30" y="622.17" width="1.06" height="10.53" fill="#ffd6d6"/>
<rect x="604.30" y="632.64" width="1.06" height="10.53" fill="#ffeeee"/>
<rect x="604.30" y="643.11" width="1.06" height="10.53" fill="#fff3f3"/>
<rect x="604.30" y="653.58" width="1.06" height="10.53" fill="#fff5f5"/>
<rect x="604.30" y="664.05" width="1.06" height="10.53" fill="#ffc7c7"/>
<rect x="604.30" y="674.52" width="1.06" height="10.53" fill="#d4d4ff"/>
<rect x="604.30" y="684.99" width="1.06" height="10.53" fill="#ffd5d5"/>
<rect x="605.30" y="507.00" width="1.56" height="10.53" fill="#fffdfd"/>
<rect x="605.30" y="517.47" width="1.56" height="10.53" fill="#ceceff"/>
<rect x="605.30" y="527.94" width="1.56" height="10.53" fill="#f7f7ff"/>
<rect x="605.30" y="538.41" width="1.56" height="10.53" fill="#ff6262"/>
<rect x="605.30" y="548.88" width="1.56" height="10.53" fill="#ffc2c2"/>
<rect x="605.30" y="559.35" width="1.56" height="10.53" fill="#ffb2b2"/>
<rect x="605.30" y="569.82" width="1.56" height="10.53" fill="#ffe9e9"/>
<rect x="605.30" y="580.29" width="1.56" height="10.53" fill="#ffdfdf"/>
<rect x="605.30" y="590.76" width="1.56" height="10.53" fill="#ffffff"/>
<rect x="605.30" y="601.23" width="1.56" height="10.53" fill="#ffe2e2"/>
<rect x="605.30" y="611.70" width="1.56" height="10.53" fill="#ffcfcf"/>
<rect x="605.30" y="622.17" width="1.56" height="10.53" fill="#ffdfdf"/>
<rect x="605.30" y="632.64" width="1.56" height="10.53" fill="#ffe4e4"/>
<rect x="605.30" y="643.11" width="1.56" height="10.53" fill="#ffcdcd"/>
<rect x="605.30" y="653.58" width="1.56" height="10.53" fill="#ffa8a8"/>
<rect x="605.30" y="664.05" width="1.56" height="10.53" fill="#fffbfb"/>
<rect x="605.30" y="674.52" width="1.56" height="10.53" fill="#ffd1d1"/>
<rect x="605.30" y="684.99" width="1.56" height="10.53" fill="#ff7676"/>
<rect x="606.80" y="507.00" width="1.06" height="10.53" fill="#babaff"/>
<rect x="606.80" y="517.47" width="1.06" height="10.53" fill="#fff5f5"/>
<rect x="606.80" y="527.94" width="1.06" height="10.53" fill="#ffebeb"/>
<rect x="606.80" y="538.41" width="1.06" height="10.53" fill="#ffe7e7"/>
<rect x="606.80" y="548.88" width="1.06" height="10.53" fill="#ffcece"/>
<rect x="606.80" y="559.35" width="1.06" height="10.53" fill="#ffe9e9"/>
<rect x="606.80" y="569.82" width="1.06" height="10.53" fill="#ffe8e8"/>
<rect x="606.80" y="580.29" width="1.06" height="10.53" fill="#ffd0d0"/>
<rect x="606.80" y="590.76" width="1.06" height="10.53" fill="#fbfbff"/>
<rect x="606.80" y="601.23" width="1.06" height="10.53" fill="#ffc8c8"/>
<rect x="606.80" y="611.70" width="1.06" height="10.53" fill="#fffdfd"/>
<rect x="606.80" y="622.17" width="1.06" height="10.53" fill="#ffdada"/>
<rect x="606.80" y="632.64" width="1.06" height="10.53" fill="#dcdcff"/>
<rect x="606.80" y="643.11" width="1.06" height="10.53" fill="#ffe3e3"/>
<rect x="606.80" y="653.58" width="1.06" height="10.53" fill="#ffeeee"/>
<rect x="606.80" y="664.05" width="1.06" height="10.53" fill="#ffcaca"/>
<rect x="606.80" y="674.52" width="1.06" height="10.53" fill="#ffc2c2"/>
<rect x="606.80" y="684.99" width="1.06" height="10.53" fill="#fffdfd"/>
<rect x="607.80" y="507.00" width="1.06" height="10.53" fill="#f8f8ff"/>
<rect x="607.80" y="517.47" width="1.06" height="10.53" fill="#e9e9ff"/>
<rect x="607.80" y="527.94" width="1.06" height="10.53" fill="#ffcdcd"/>
<rect x="607.80" y="538.41" width="1.06" height="10.53" fill="#ffd6d6"/>
<rect x="607.80" y="548.88" width="1.06" height="10.53" fill="#ffa4a4"/>
<rect x="607.80" y="559.35" width="1.06" height="10.53" fill="#ffd0d0"/>
<rect x="607.80" y="569.82" width="1.06" height="10.53" fill="#ffd8d8"/>
<rect x="607.80" y="580.29" width="1.06" height="10.53" fill="#ffb3b3"/>
<rect x="607.80" y="590.76" width="1.06" height="10.53" fill="#ffd6d6"/>
<rect x="607.80" y="601.23" width="1.06" height="10.53" fill="#ffcdcd"/>
<rect x="607.80" y="611.70" width="1.06" height="10.53" fill="#ff8f8f"/>
<rect x="607.80" y="622.17" width="1.06" height="10.53" fill="#ffdbdb"/>
<rect x="607.80" y="632.64" width="1.06" height="10.53" fill="#ffc7c7"/>
<rect x="607.80" y="643.11" width="1.06" height="10.53" fill="#ffcdcd"/>
<rect x="607.80" y="653.58" width="1.06" height="10.53" fill="#ffcdcd"/>
<rect x="607.80" y="664.05" width="1.06" height="10.53" fill="#ff6a6a"/>
<rect x="607.80" y="674.52" width="1.06" height="10.53" fill="#ffbfbf"/>
<rect x="607.80" y="684.99" width="1.06" height="10.53" fill="#ffb4b4"/>
<rect x="608.80" y="507.00" width="2.06" height="10.53" fill="#eeeeff"/>
<rect x="608.80" y="517.47" width="2.06" height="10.53" fill="#f3f3ff"/>
<rect x="608.80" y="527.94" width="2.06" height="10.53" fill="#ffdcdc"/>
<rect x="608.80" y="538.41" width="2.06" height="10.53" fill="#ffdfdf"/>
<rect x="608.80" y="548.88" width="2.06" height="10.53" fill="#ffdbdb"/>
<rect x="608.80" y="559.35" width="2.06" height="10.53" fill="#ffbfbf"/>
<rect x="608.80" y="569.82" width="2.06" height="10.53" fill="#f4f4ff"/>
<rect x="608.80" y="580.29" width="2.06" height="10.53" fill="#ffc4c4"/>
<rect x="608.80" y="590.76" width="2.06" height="10.53" fill="#ffbaba"/>
<rect x="608.80" y="601.23" width="2.06" height="10.53" fill="#ffb2b2"/>
<rect x="608.80" y="611.70" width="2.06" height="10.53" fill="#ffcbcb"/>
<rect x="608.80" y="622.17" width="2.06" height="10.53" fill="#ff9898"/>
<rect x="608.80" y="632.64" width="2.06" height="10.53" fill="#ffa4a4"/>
<rect x="608.80" y="643.11" width="2.06" height="10.53" fill="#ff5f5f"/>
<rect x="608.80" y="653.58" width="2.06" height="10.53" fill="#ffe1e1"/>
<rect x="608.80" y="664.05" width="2.06" height="10.53" fill="#ffcccc"/>
<rect x="608.80" y="674.52" width="2.06" height="10.53" fill="#ffa5a5"/>
<rect x="608.80" y="684.99" width="2.06" height="10.53" fill="#ff9191"/>
<rect x="610.80" y="507.00" width="1.06" height="10.53" fill="#fff1f1"/>
<rect x="610.80" y="517.47" width="1.06" height="10.53" fill="#fffdfd"/>
<rect x="610.80" y="527.94" width="1.06" height="10.53" fill="#fffbfb"/>
<rect x="610.80" y="538.41" width="1.06" height="10.53" fill="#ff8484"/>
<rect x="610.80" y="548.88" width="1.06" height="10.53" fill="#ffcccc"/>
<rect x="610.80" y="559.35" width="1.06" height="10.53" fill="#ffdddd"/>
<rect x="610.80" y="569.82" width="1.06" height="10.53" fill="#ffe4e4"/>
<rect x="610.80" y="580.29" width="1.06" height="10.53" fill="#ffcfcf"/>
<rect x="610.80" y="590.76" width="1.06" height="10.53" fill="#fffefe"/>
<rect x="610.80" y="601.23" width="1.06" height="10.53" fill="#ff7a7a"/>
<rect x="610.80" y="611.70" width="1.06" height="10.53" fill="#ffe7e7"/>
<rect x="610.80" y="622.17" width="1.06" height="10.53" fill="#ffd1d1"/>
<rect x="610.80" y="632.64" width="1.06" height="10.53" fill="#ffd1d1"/>
<rect x="610.80" y="643.11" width="1.06" height="10.53" fill="#ffe3e3"/>
<rect x="610.80" y="653.58" width="1.06" height="10.53" fill="#ffdede"/>
<rect x="610.80" y="664.05" width="1.06" height="10.53" fill="#ffdbdb"/>
<rect x="610.80" y="674.52" width="1.06" height="10.53" fill="#ffc2c2"/>
<rect x="610.80" y="684.99" width="1.06" height="10.53" fill="#ffe9e9"/>
<rect x="611.80" y="507.00" width="1.06" height="10.53" fill="#f3f3ff"/>
<rect x="611.80" y="517.47" width="1.06" height="10.53" fill="#ffa7a7"/>
<rect x="611.80" y="527.94" width="1.06" height="10.53" fill="#fff6f6"/>
<rect x="611.80" y="538.41" width="1.06" height="10.53" fill="#ffcbcb"/>
<rect x="611.80" y="548.88" width="1.06" height="10.53" fill="#ffd8d8"/>
<rect x="611.80" y="559.35" width="1.06" height="10.53" fill="#ffcfcf"/>
<rect x="611.80" y="569.82" width="1.06" height="10.53" fill="#fffdfd"/>
<rect x="611.80" y="580.29" width="1.06" height="10.53" fill="#ffd4d4"/>
<rect x="611.80" y="590.76" width="1.06" height="10.53" fill="#ffc2c2"/>
<rect x="611.80" y="601.23" width="1.06" height="10.53" fill="#f3f3ff"/>
<rect x="611.80" y="611.70" width="1.06" height="10.53" fill="#ffa1a1"/>
<rect x="611.80" y="622.17" width="1.06" height="10.53" fill="#ffcbcb"/>
<rect x="611.80" y="632.64" width="1.06" height="10.53" fill="#ffb0b0"/>
<rect x="611.80" y="643.11" width="1.06" height="10.53" fill="#ffc2c2"/>
<rect x="611.80" y="653.58" width="1.06" height="10.53" fill="#ffdbdb"/>
<rect x="611.80" y="664.05" width="1.06" height="10.53" fill="#ffdddd"/>
<rect x="611.80" y="674.52" width="1.06" height="10.53" fill="#ffd6d6"/>
<rect x="611.80" y="684.99" width="1.06" height="10.53" fill="#ffe2e2"/>
<rect x="612.80" y="507.00" width="2.06" height="10.53" fill="#e0e0ff"/>
<rect x="612.80" y="517.47" width="2.06" height="10.53" fill="#ffcfcf"/>
<rect x="612.80" y="527.94" width="2.06" height="10.53" fill="#ffe7e7"/>
<rect x="612.80" y="538.41" width="2.06" height="10.53" fill="#fcfcff"/>
<rect x="612.80" y="548.88" width="2.06" height="10.53" fill="#fffafa"/>
<rect x="612.80" y="559.35" width="2.06" height="10.53" fill="#ffcccc"/>
<rect x="612.80" y="569.82" width="2.06" height="10.53" fill="#ffcfcf"/>
<rect x="612.80" y="580.29" width="2.06" height="10.53" fill="#fffafa"/>
<rect x="612.80" y="590.76" width="2.06" height="10.53" fill="#fff1f1"/>
<rect x="612.80" y="601.23" width="2.06" height="10.53" fill="#fff1f1"/>
<rect x="612.80" y="611.70" width="2.06" height="10.53" fill="#ffcece"/>
<rect x="612.80" y="622.17" width="2.06" height="10.53" fill="#ffb0b0"/>
<rect x="612.80" y="632.64" width="2.06" height="10.53" fill="#ff9c9c"/>
<rect x="612.80" y="643.11" width="2.06" height="10.53" fill="#ffcbcb"/>
<rect x="612.80" y="653.58" width="2.06" height="10.53" fill="#ffd1d1"/>
<rect x="612.80" y="664.05" width="2.06" height="10.53" fill="#dbdbff"/>
<rect x="612.80" y="674.52" width="2.06" height="10.53" fill="#ffd8d8"/>
<rect x="612.80" y="684.99" width="2.06" height="10.53" fill="#ffbfbf"/>
<rect x="614.80" y="507.00" width="2.06" height="10.53" fill="#c4c4ff"/>
<rect x="614.80" y="517.47" width="2.06" height="10.53" fill="#d5d5ff"/>
<rect x="614.80" y="527.94" width="2.06" height="10.53" fill="#ffcece"/>
<rect x="614.80" y="538.41" width="2.06" height="10.53" fill="#ffa2a2"/>
<rect x="614.80" y="548.88" width="2.06" height="10.53" fill="#ffc4c4"/>
<rect x="614.80" y="559.35" width="2.06" height="10.53" fill="#ffd4d4"/>
<rect x="614.80" y="569.82" width="2.06" height="10.53" fill="#ffbfbf"/>
<rect x="614.80" y="580.29" width="2.06" height="10.53" fill="#ffc8c8"/>
<rect x="614.80" y="590.76" width="2.06" height="10.53" fill="#ffbdbd"/>
<rect x="614.80" y="601.23" width="2.06" height="10.53" fill="#ffc4c4"/>
<rect x="614.80" y="611.70" width="2.06" height="10.53" fill="#ffc2c2"/>
<rect x="614.80" y="622.17" width="2.06" height="10.53" fill="#ffc0c0"/>
<rect x="614.80" y="632.64" width="2.06" height="10.53" fill="#ffa3a3"/>
<rect x="614.80" y="643.11" width="2.06" height="10.53" fill="#ffdcdc"/>
<rect x="614.80" y="653.58" width="2.06" height="10.53" fill="#ffafaf"/>
<rect x="614.80" y="664.05" width="2.06" height="10.53" fill="#ffcfcf"/>
<rect x="614.80" y="674.52" width="2.06" height="10.53" fill="#ffc7c7"/>
<rect x="614.80" y="684.99" width="2.06" height="10.53" fill="#ffc4c4"/>
<rect x="616.80" y="507.00" width="1.06" height="10.53" fill="#ffecec"/>
<rect x="616.80" y="517.47" width="1.06" height="10.53" fill="#fbfbff"/>
<rect x="616.80" y="527.94" width="1.06" height="10.53" fill="#fff8f8"/>
<rect x="616.80" y="538.41" width="1.06" height="10.53" fill="#ffe8e8"/>
<rect x="616.80" y="548.88" width="1.06" height="10.53" fill="#ffd9d9"/>
<rect x="616.80" y="559.35" width="1.06" height="10.53" fill="#ffe7e7"/>
<rect x="616.80" y="569.82" width="1.06" height="10.53" fill="#e7e7ff"/>
<rect x="616.80" y="580.29" width="1.06" height="10.53" fill="#fff7f7"/>
<rect x="616.80" y="590.76" width="1.06" height="10.53" fill="#e3e3ff"/>
<rect x="616.80" y="601.23" width="1.06" height="10.53" fill="#f7f7ff"/>
<rect x="616.80" y="611.70" width="1.06" height="10.53" fill="#ffd4d4"/>
<rect x="616.80" y="622.17" width="1.06" height="10.53" fill="#ffc6c6"/>
<rect x="616.80" y="632.64" width="1.06" height="10.53" fill="#ffe7e7"/>
<rect x="616.80" y="643.11" width="1.06" height="10.53" fill="#ffdbdb"/>
<rect x="616.80" y="653.58" width="1.06" height="10.53" fill="#ffd1d1"/>
<rect x="616.80" y="664.05" width="1.06" height="10.53" fill="#fff4f4"/>
<rect x="616.80" y="674.52" width="1.06" height="10.53" fill="#ffdbdb"/>
<rect x="616.80" y="684.99" width="1.06" height="10.53" fill="#ffc8c8"/>
<rect x="617.80" y="507.00" width="2.06" height="10.53" fill="#e3e3ff"/>
<rect x="617.80" y="517.47" width="2.06" height="10.53" fill="#e7e7ff"/>
<rect x="617.80" y="527.94" width="2.06" height="10.53" fill="#ffe5e5"/>
<rect x="617.80" y="538.41" width="2.06" height="10.53" fill="#ffefef"/>
<rect x="617.80" y="548.88" width="2.06" height="10.53" fill="#fffdfd"/>
<rect x="617.80" y="559.35" width="2.06" height="10.53" fill="#ffcece"/>
<rect x="617.80" y="569.82" width="2.06" height="10.53" fill="#f9f9ff"/>
<rect x="617.80" y="580.29" width="2.06" height="10.53" fill="#ffc2c2"/>
<rect x="617.80" y="590.76" width="2.06" height="10.53" fill="#ffe6e6"/>
<rect x="617.80" y="601.23" width="2.06" height="10.53" fill="#ffcaca"/>
<rect x="617.80" y="611.70" width="2.06" height="10.53" fill="#ffb1b1"/>
<rect x="617.80" y="622.17" width="2.06" height="10.53" fill="#ffd4d4"/>
<rect x="617.80" y="632.64" width="2.06" height="10.53" fill="#ffe3e3"/>
<rect x="617.80" y="643.11" width="2.06" height="10.53" fill="#ffc9c9"/>
<rect x="617.80" y="653.58" width="2.06" height="10.53" fill="#fcfcff"/>
<rect x="617.80" y="664.05" width="2.06" height="10.53" fill="#ffcccc"/>
<rect x="617.80" y="674.52" width="2.06" height="10.53" fill="#ffdede"/>
<rect x="617.80" y="684.99" width="2.06" height="10.53" fill="#ffc2c2"/>
<rect x="619.80" y="507.00" width="1.06" height="10.53" fill="#d3d3ff"/>
<rect x="619.80" y="517.47" width="1.06" height="10.53" fill="#e4e4ff"/>
<rect x="619.80" y="527.94" width="1.06" height="10.53" fill="#fff1f1"/>
<rect x="619.80" y="538.41" width="1.06" height="10.53" fill="#ffdada"/>
<rect x="619.80" y="548.88" width="1.06" height="10.53" fill="#ffa8a8"/>
<rect x="619.80" y="559.35" width="1.06" height="10.53" fill="#ffc8c8"/>
<rect x="619.80" y="569.82" width="1.06" height="10.53" fill="#ffcece"/>
<rect x="619.80" y="580.29" width="1.06" height="10.53" fill="#ffd1d1"/>
<rect x="619.80" y="590.76" width="1.06" height="10.53" fill="#ffecec"/>
<rect x="619.80" y="601.23" width="1.06" height="10.53" fill="#ff9d9d"/>
<rect x="619.80" y="611.70" width="1.06" height="10.53" fill="#ffa0a0"/>
<rect x="619.80" y="622.17" width="1.06" height="10.53" fill="#ffcccc"/>
<rect x="619.80" y="632.64" width="1.06" height="10.53" fill="#ffaeae"/>
<rect x="619.80" y="643.11" width="1.06" height="10.53" fill="#fff9f9"/>
<rect x="619.80" y="653.58" width="1.06" height="10.53" fill="#ffdede"/>
<rect x="619.80" y="664.05" width="1.06" height="10.53" fill="#ffd2d2"/>
<rect x="619.80" y="674.52" width="1.06" height="10.53" fill="#ffc3c3"/>
<rect x="619.80" y="684.99" width="1.06" height="10.53" fill="#ffe3e3"/>
<rect x="620.80" y="507.00" width="1.56" height="10.53" fill="#cacaff"/>
<rect x="620.80" y="517.47" width="1.56" height="10.53" fill="#ffebeb"/>
<rect x="620.80" y="527.94" width="1.56" height="10.53" fill="#ff8484"/>
<rect x="620.80" y="538.41" width="1.56" height="10.53" fill="#ffc8c8"/>
<rect x="620.80" y="548.88" width="1.56" height="10.53" fill="#ffb6b6"/>
<rect x="620.80" y="559.35" width="1.56" height="10.53" fill="#ffe2e2"/>
<rect x="620.80" y="569.82" width="1.56" height="10.53" fill="#ffcdcd"/>
<rect x="620.80" y="580.29" width="1.56" height="10.53" fill="#fbfbff"/>
<rect x="620.80" y="590.76" width="1.56" height="10.53" fill="#ffcfcf"/>
<rect x="620.80" y="601.23" width="1.56" height="10.53" fill="#ffafaf"/>
<rect x="620.80" y="611.70" width="1.56" height="10.53" fill="#ffcccc"/>
<rect x="620.80" y="622.17" width="1.56" height="10.53" fill="#ffeeee"/>
<rect x="620.80" y="632.64" width="1.56" height="10.53" fill="#ffaeae"/>
<rect x="620.80" y="643.11" width="1.56" height="10.53" fill="#ffe7e7"/>
<rect x="620.80" y="653.58" width="1.56" height="10.53" fill="#ffcece"/>
<rect x="620.80" y="664.05" width="1.56" height="10.53" fill="#ffb9b9"/>
<rect x="620.80" y="674.52" width="1.56" height="10.53" fill="#ffc8c8"/>
<rect x="620.80" y="684.99" width="1.56" height="10.53" fill="#ffbdbd"/>
<rect x="622.30" y="507.00" width="1.56" height="10.53" fill="#fdfdff"/>
<rect x="622.30" y="517.47" width="1.56" height="10.53" fill="#d6d6ff"/>
<rect x="622.30" y="527.94" width="1.56" height="10.53" fill="#ffe1e1"/>
<rect x="622.30" y="538.41" width="1.56" height="10.53" fill="#ffe4e4"/>
<rect x="622.30" y="548.88" width="1.56" height="10.53" fill="#ffd9d9"/>
<rect x="622.30" y="559.35" width="1.56" height="10.53" fill="#ffcfcf"/>
<rect x="622.30" y="569.82" width="1.56" height="10.53" fill="#ffbdbd"/>
<rect x="622.30" y="580.29" width="1.56" height="10.53" fill="#ffb2b2"/>
<rect x="622.30" y="590.76" width="1.56" height="10.53" fill="#fffbfb"/>
<rect x="622.30" y="601.23" width="1.56" height="10.53" fill="#ff7b7b"/>
<rect x="622.30" y="611.70" width="1.56" height="10.53" fill="#ffc9c9"/>
<rect x="622.30" y="622.17" width="1.56" height="10.53" fill="#ffe0e0"/>
<rect x="622.30" y="632.64" width="1.56" height="10.53" fill="#ffc7c7"/>
<rect x="622.30" y="643.11" width="1.56" height="10.53" fill="#ffd7d7"/>
<rect x="622.30" y="653.58" width="1.56" height="10.53" fill="#ffb1b1"/>
<rect x="622.30" y="664.05" width="1.56" height="10.53" fill="#ffdcdc"/>
<rect x="622.30" y="674.52" width="1.56" height="10.53" fill="#ff9a9a"/>
<rect x="622.30" y="684.99" width="1.56" height="10.53" fill="#ffb4b4"/>
<rect x="623.80" y="507.00" width="2.06" height="10.53" fill="#e3e3ff"/>
<rect x="623.80" y="517.47" width="2.06" height="10.53" fill="#fcfcff"/>
<rect x="623.80" y="527.94" width="2.06" height="10.53" fill="#ffcece"/>
<rect x="623.80" y="538.41" width="2.06" height="10.53" fill="#ffafaf"/>
<rect x="623.80" y="548.88" width="2.06" height="10.53" fill="#ffa0a0"/>
<rect x="623.80" y="559.35" width="2.06" height="10.53" fill="#ffb7b7"/>
<rect x="623.80" y="569.82" width="2.06" height="10.53" fill="#ffe4e4"/>
<rect x="623.80" y="580.29" width="2.06" height="10.53" fill="#ffd8d8"/>
<rect x="623.80" y="590.76" width="2.06" height="10.53" fill="#ffe1e1"/>
<rect x="623.80" y="601.23" width="2.06" height="10.53" fill="#ffc8c8"/>
<rect x="623.80" y="611.70" width="2.06" height="10.53" fill="#ff8787"/>
<rect x="623.80" y="622.17" width="2.06" height="10.53" fill="#ffa4a4"/>
<rect x="623.80" y="632.64" width="2.06" height="10.53" fill="#ffdede"/>
<rect x="623.80" y="643.11" width="2.06" height="10.53" fill="#ffcbcb"/>
<rect x="623.80" y="653.58" width="2.06" height="10.53" fill="#ffd8d8"/>
<rect x="623.80" y="664.05" width="2.06" height="10.53" fill="#ffa8a8"/>
<rect x="623.80" y="674.52" width="2.06" height="10.53" fill="#ffd0d0"/>
<rect x="623.80" y="684.99" width="2.06" height="10.53" fill="#ffcccc"/>
<rect x="625.80" y="507.00" width="1.06" height="10.53" fill="#e6e6ff"/>
<rect x="625.80" y="517.47" width="1.06" height="10.53" fill="#fafaff"/>
<rect x="625.80" y="527.94" width="1.06" height="10.53" fill="#ffd5d5"/>
<rect x="625.80" y="538.41" width="1.06" height="10.53" fill="#ffe9e9"/>
<rect x="625.80" y="548.88" width="1.06" height="10.53" fill="#ffbcbc"/>
<rect x="625.80" y="559.35" width="1.06" height="10.53" fill="#ffb8b8"/>
<rect x="625.80" y="569.82" width="1.06" height="10.53" fill="#f3f3ff"/>
<rect x="625.80" y="580.29" width="1.06" height="10.53" fill="#ffcaca"/>
<rect x="625.80" y="590.76" width="1.06" height="10.53" fill="#ffe9e9"/>
<rect x="625.80" y="601.23" width="1.06" height="10.53" fill="#ffc8c8"/>
<rect x="625.80" y="611.70" width="1.06" height="10.53" fill="#ffd1d1"/>
<rect x="625.80" y="622.17" width="1.06" height="10.53" fill="#f3f3ff"/>
<rect x="625.80" y="632.64" width="1.06" height="10.53" fill="#ffcbcb"/>
<rect x="625.80" y="643.11" width="1.06" height="10.53" fill="#ffdada"/>
<rect x="625.80" y="653.58" width="1.06" height="10.53" fill="#ffe7e7"/>
<rect x="625.80" y="664.05" width="1.06" height="10.53" fill="#ffe5e5"/>
<rect x="625.80" y="674.52" width="1.06" height="10.53" fill="#ff6b6b"/>
<rect x="625.80" y="684.99" width="1.06" height="10.53" fill="#ffdcdc"/>
<rect x="626.80" y="507.00" width="1.56" height="10.53" fill="#eaeaff"/>
<rect x="626.80" y="517.47" width="1.56" height="10.53" fill="#f0f0ff"/>
<rect x="626.80" y="527.94" width="1.56" height="10.53" fill="#ffe2e2"/>
<rect x="626.80" y="538.41" width="1.56" height="10.53" fill="#ffe3e3"/>
<rect x="626.80" y="548.88" width="1.56" height="10.53" fill="#fff4f4"/>
<rect x="626.80" y="559.35" width="1.56" height="10.53" fill="#f4f4ff"/>
<rect x="626.80" y="569.82" width="1.56" height="10.53" fill="#ff8d8d"/>
<rect x="626.80" y="580.29" width="1.56" height="10.53" fill="#ffbcbc"/>
<rect x="626.80" y="590.76" width="1.56" height="10.53" fill="#ffffff"/>
<rect x="626.80" y="601.23" width="1.56" height="10.53" fill="#ffe1e1"/>
<rect x="626.80" y="611.70" width="1.56" height="10.53" fill="#ffd6d6"/>
<rect x="626.80" y="622.17" width="1.56" height="10.53" fill="#ffb5b5"/>
<rect x="626.80" y="632.64" width="1.56" height="10.53" fill="#ffcdcd"/>
<rect x="626.80" y="643.11" width="1.56" height="10.53" fill="#ffcaca"/>
<rect x="626.80" y="653.58" width="1.56" height="10.53" fill="#ffc6c6"/>
<rect x="626.80" y="664.05" width="1.56" height="10.53" fill="#ffbdbd"/>
<rect x="626.80" y="674.52" width="1.56" height="10.53" fill="#dedeff"/>
<rect x="626.80" y="684.99" width="1.56" height="10.53" fill="#ffe3e3"/>
<rect x="628.30" y="507.00" width="1.06" height="10.53" fill="#dfdfff"/>
<rect x="628.30" y="517.47" width="1.06" height="10.53" fill="#eeeeff"/>
<rect x="628.30" y="527.94" width="1.06" height="10.53" fill="#ffe7e7"/>
<rect x="628.30" y="538.41" width="1.06" height="10.53" fill="#ffcdcd"/>
<rect x="628.30" y="548.88" width="1.06" height="10.53" fill="#ffe2e2"/>
<rect x="628.30" y="559.35" width="1.06" height="10.53" fill="#ffdfdf"/>
<rect x="628.30" y="569.82" width="1.06" height="10.53" fill="#ffffff"/>
<rect x="628.30" y="580.29" width="1.06" height="10.53" fill="#ffb9b9"/>
<rect x="628.30" y="590.76" width="1.06" height="10.53" fill="#fffdfd"/>
<rect x="628.30" y="601.23" width="1.06" height="10.53" fill="#ffbebe"/>
<rect x="628.30" y="611.70" width="1.06" height="10.53" fill="#ffd1d1"/>
<rect x="628.30" y="622.17" width="1.06" height="10.53" fill="#ffaaaa"/>
<rect x="628.30" y="632.64" width="1.06" height="10.53" fill="#ffd1d1"/>
<rect x="628.30" y="643.11" width="1.06" height="10.53" fill="#ffd4d4"/>
<rect x="628.30" y="653.58" width="1.06" height="10.53" fill="#ffb7b7"/>
<rect x="628.30" y="664.05" width="1.06" height="10.53" fill="#ffdcdc"/>
<rect x="628.30" y="674.52" width="1.06" height="10.53" fill="#ffdada"/>
<rect x="628.30" y="684.99" width="1.06" height="10.53" fill="#ffd8d8"/>
<rect x="629.30" y="507.00" width="1.06" height="10.53" fill="#9e9eff"/>
<rect x="629.30" y="517.47" width="1.06" height="10.53" fill="#c1c1ff"/>
<rect x="629.30" y="527.94" width="1.06" height="10.53" fill="#ffcaca"/>
<rect x="629.30" y="538.41" width="1.06" height="10.53" fill="#ffc3c3"/>
<rect x="629.30" y="548.88" width="1.06" height="10.53" fill="#ffd2d2"/>
<rect x="629.30" y="559.35" width="1.06" height="10.53" fill="#ffa2a2"/>
<rect x="629.30" y="569.82" width="1.06" height="10.53" fill="#ffc3c3"/>
<rect x="629.30" y="580.29" width="1.06" height="10.53" fill="#ffb8b8"/>
<rect x="629.30" y="590.76" width="1.06" height="10.53" fill="#ececff"/>
<rect x="629.30" y="601.23" width="1.06" height="10.53" fill="#ffa2a2"/>
<rect x="629.30" y="611.70" width="1.06" height="10.53" fill="#ffb5b5"/>
<rect x="629.30" y="622.17" width="1.06" height="10.53" fill="#ffe3e3"/>
<rect x="629.30" y="632.64" width="1.06" height="10.53" fill="#ffc9c9"/>
<rect x="629.30" y="643.11" width="1.06" height="10.53" fill="#ffd8d8"/>
<rect x="629.30" y="653.58" width="1.06" height="10.53" fill="#ff9d9d"/>
<rect x="629.30" y="664.05" width="1.06" height="10.53" fill="#ffbbbb"/>
<rect x="629.30" y="674.52" width="1.06" height="10.53" fill="#ffa9a9"/>
<rect x="629.30" y="684.99" width="1.06" height="10.53" fill="#ff8b8b"/>
<rect x="630.30" y="507.00" width="1.06" height="10.53" fill="#ededff"/>
<rect x="630.30" y="517.47" width="1.06" height="10.53" fill="#d0d0ff"/>
<rect x="630.30" y="527.94" width="1.06" height="10.53" fill="#ffefef"/>
<rect x="630.30" y="538.41" width="1.06" height="10.53" fill="#ffd1d1"/>
<rect x="630.30" y="548.88" width="1.06" height="10.53" fill="#ffe0e0"/>
<rect x="630.30" y="559.35" width="1.06" height="10.53" fill="#ffdada"/>
<rect x="630.30" y="569.82" width="1.06" height="10.53" fill="#ffcfcf"/>
<rect x="630.30" y="580.29" width="1.06" height="10.53" fill="#ffc3c3"/>
<rect x="630.30" y="590.76" width="1.06" height="10.53" fill="#ffdddd"/>
<rect x="630.30" y="601.23" width="1.06" height="10.53" fill="#ffd9d9"/>
<rect x="630.30" y="611.70" width="1.06" height="10.53" fill="#ff4a4a"/>
<rect x="630.30" y="622.17" width="1.06" height="10.53" fill="#ffd9d9"/>
<rect x="630.30" y="632.64" width="1.06" height="10.53" fill="#ffcfcf"/>
<rect x="630.30" y="643.11" width="1.06" height="10.53" fill="#ffcbcb"/>
<rect x="630.30" y="653.58" width="1.06" height="10.53" fill="#ffc9c9"/>
<rect x="630.30" y="664.05" width="1.06" height="10.53" fill="#ffa0a0"/>
<rect x="630.30" y="674.52" width="1.06" height="10.53" fill="#ffe3e3"/>
<rect x="630.30" y="684.99" width="1.06" height="10.53" fill="#ffabab"/>
<rect x="631.30" y="507.00" width="1.06" height="10.53" fill="#d4d4ff"/>
<rect x="631.30" y="517.47" width="1.06" height="10.53" fill="#f5f5ff"/>
<rect x="631.30" y="527.94" width="1.06" height="10.53" fill="#e9e9ff"/>
<rect x="631.30" y="538.41" width="1.06" height="10.53" fill="#ffc3c3"/>
<rect x="631.30" y="548.88" width="1.06" height="10.53" fill="#ffc7c7"/>
<rect x="631.30" y="559.35" width="1.06" height="10.53" fill="#d0d0ff"/>
<rect x="631.30" y="569.82" width="1.06" height="10.53" fill="#ffd0d0"/>
<rect x="631.30" y="580.29" width="1.06" height="10.53" fill="#ffa4a4"/>
<rect x="631.30" y="590.76" width="1.06" height="10.53" fill="#fffafa"/>
<rect x="631.30" y="601.23" width="1.06" height="10.53" fill="#ffc8c8"/>
<rect x="631.30" y="611.70" width="1.06" height="10.53" fill="#ff9494"/>
<rect x="631.30" y="622.17" width="1.06" height="10.53" fill="#ffd8d8"/>
<rect x="631.30" y="632.64" width="1.06" height="10.53" fill="#ffefef"/>
<rect x="631.30" y="643.11" width="1.06" height="10.53" fill="#ffbebe"/>
<rect x="631.30" y="653.58" width="1.06" height="10.53" fill="#ff4f4f"/>
<rect x="631.30" y="664.05" width="1.06" height="10.53" fill="#ffc4c4"/>
<rect x="631.30" y="674.52" width="1.06" height="10.53" fill="#ff8b8b"/>
<rect x="631.30" y="684.99" width="1.06" height="10.53" fill="#ffb2b2"/>
<rect x="632.30" y="507.00" width="1.06" height="10.53" fill="#f7f7ff"/>
<rect x="632.30" y="517.47" width="1.06" height="10.53" fill="#dbdbff"/>
<rect x="632.30" y="527.94" width="1.06" height="10.53" fill="#ffb2b2"/>
<rect x="632.30" y="538.41" width="1.06" height="10.53" fill="#ffe0e0"/>
<rect x="632.30" y="548.88" width="1.06" height="10.53" fill="#ffb4b4"/>
<rect x="632.30" y="559.35" width="1.06" height="10.53" fill="#ffb8b8"/>
<rect x="632.30" y="569.82" width="1.06" height="10.53" fill="#ffd5d5"/>
<rect x="632.30" y="580.29" width="1.06" height="10.53" fill="#ffafaf"/>
<rect x="632.30" y="590.76" width="1.06" height="10.53" fill="#ff9a9a"/>
<rect x="632.30" y="601.23" width="1.06" height="10.53" fill="#ff5c5c"/>
<rect x="632.30" y="611.70" width="1.06" height="10.53" fill="#ffb3b3"/>
<rect x="632.30" y="622.17" width="1.06" height="10.53" fill="#ffa3a3"/>
<rect x="632.30" y="632.64" width="1.06" height="10.53" fill="#ffbdbd"/>
<rect x="632.30" y="643.11" width="1.06" height="10.53" fill="#ffb5b5"/>
<rect x="632.30" y="653.58" width="1.06" height="10.53" fill="#ff8a8a"/>
<rect x="632.30" y="664.05" width="1.06" height="10.53" fill="#ffbdbd"/>
<rect x="632.30" y="674.52" width="1.06" height="10.53" fill="#ffb0b0"/>
<rect x="632.30" y="684.99" width="1.06" height="10.53" fill="#ffb4b4"/>
<rect x="633.30" y="507.00" width="1.06" height="10.53" fill="#fafaff"/>
<rect x="633.30" y="517.47" width="1.06" height="10.53" fill="#ebebff"/>
<rect x="633.30" y="527.94" width="1.06" height="10.53" fill="#ffeaea"/>
<rect x="633.30" y="538.41" width="1.06" height="10.53" fill="#ffc7c7"/>
<rect x="633.30" y="548.88" width="1.06" height="10.53" fill="#fff3f3"/>
<rect x="633.30" y="559.35" width="1.06" height="10.53" fill="#dbdbff"/>
<rect x="633.30" y="569.82" width="1.06" height="10.53" fill="#fff5f5"/>
<rect x="633.30" y="580.29" width="1.06" height="10.53" fill="#ffdede"/>
<rect x="633.30" y="590.76" width="1.06" height="10.53" fill="#ffd7d7"/>
<rect x="633.30" y="601.23" width="1.06" height="10.53" fill="#ffcdcd"/>
<rect x="633.30" y="611.70" width="1.06" height="10.53" fill="#ffd7d7"/>
<rect x="633.30" y="622.17" width="1.06" height="10.53" fill="#ffbcbc"/>
<rect x="633.30" y="632.64" width="1.06" height="10.53" fill="#ffcece"/>
<rect x="633.30" y="643.11" width="1.06" height="10.53" fill="#ffeeee"/>
<rect x="633.30" y="653.58" width="1.06" height="10.53" fill="#ffdddd"/>
<rect x="633.30" y="664.05" width="1.06" height="10.53" fill="#ffbaba"/>
<rect x="633.30" y="674.52" width="1.06" height="10.53" fill="#ffc7c7"/>
<rect x="633.30" y="684.99" width="1.06" height="10.53" fill="#ffe9e9"/>
<rect x="634.30" y="507.00" width="1.06" height="10.53" fill="#ffe8e8"/>
<rect x="634.30" y="517.47" width="1.06" height="10.53" fill="#ffebeb"/>
<rect x="634.30" y="527.94" width="1.06" height="10.53" fill="#ffe1e1"/>
<rect x="634.30" y="538.41" width="1.06" height="10.53" fill="#ededff"/>
<rect x="634.30" y="548.88" width="1.06" height="10.53" fill="#ffdede"/>
<rect x="634.30" y="559.35" width="1.06" height="10.53" fill="#ffe4e4"/>
<rect x="634.30" y="569.82" width="1.06" height="10.53" fill="#ffe0e0"/>
<rect x="634.30" y="580.29" width="1.06" height="10.53" fill="#fff0f0"/>
<rect x="634.30" y="590.76" width="1.06" height="10.53" fill="#e2e2ff"/>
<rect x="634.30" y="601.23" width="1.06" height="10.53" fill="#ffcdcd"/>
<rect x="634.30" y="611.70" width="1.06" height="10.53" fill="#ff6e6e"/>
<rect x="634.30" y="622.17" width="1.06" height="10.53" fill="#ffbfbf"/>
<rect x="634.30" y="632.64" width="1.06" height="10.53" fill="#ffefef"/>
<rect x="634.30" y="643.11" width="1.06" height="10.53" fill="#ffe7e7"/>
<rect x="634.30" y="653.58" width="1.06" height="10.53" fill="#ffdbdb"/>
<rect x="634.30" y="664.05" width="1.06" height="10.53" fill="#ffd2d2"/>
<rect x="634.30" y="674.52" width="1.06" height="10.53" fill="#ffc1c1"/>
<rect x="634.30" y="684.99" width="1.06" height="10.53" fill="#eeeeff"/>
<rect x="635.30" y="507.00" width="2.06" height="10.53" fill="#f7f7ff"/>
<rect x="635.30" y="517.47" width="2.06" height="10.53" fill="#ebebff"/>
<rect x="635.30" y="527.94" width="2.06" height="10.53" fill="#fff0f0"/>
<rect x="635.30" y="538.41" width="2.06" height="10.53" fill="#ffb1b1"/>
<rect x="635.30" y="548.88" width="2.06" height="10.53" fill="#fff1f1"/>
<rect x="635.30" y="559.35" width="2.06" height="10.53" fill="#ffc7c7"/>
<rect x="635.30" y="569.82" width="2.06" height="10.53" fill="#ffb3b3"/>
<rect x="635.30" y="580.29" width="2.06" height="10.53" fill="#ffbfbf"/>
<rect x="635.30" y="590.76" width="2.06" height="10.53" fill="#fffefe"/>
<rect x="635.30" y="601.23" width="2.06" height="10.53" fill="#ffc5c5"/>
<rect x="635.30" y="611.70" width="2.06" height="10.53" fill="#ffdddd"/>
<rect x="635.30" y="622.17" width="2.06" height="10.53" fill="#ffa5a5"/>
<rect x="635.30" y="632.64" width="2.06" height="10.53" fill="#ffd2d2"/>
<rect x="635.30" y="643.11" width="2.06" height="10.53" fill="#ffc4c4"/>
<rect x="635.30" y="653.58" width="2.06" height="10.53" fill="#ffaaaa"/>
<rect x="635.30" y="664.05" width="2.06" height="10.53" fill="#ffc9c9"/>
<rect x="635.30" y="674.52" width="2.06" height="10.53" fill="#ffdada"/>
<rect x="635.30" y="684.99" width="2.06" height="10.53" fill="#ffd7d7"/>
<rect x="637.30" y="507.00" width="1.56" height="10.53" fill="#fff7f7"/>
<rect x="637.30" y="517.47" width="1.56" height="10.53" fill="#bcbcff"/>
<rect x="637.30" y="527.94" width="1.56" height="10.53" fill="#fff7f7"/>
<rect x="637.30" y="538.41" width="1.56" height="10.53" fill="#ffe7e7"/>
<rect x="637.30" y="548.88" width="1.56" height="10.53" fill="#ffdcdc"/>
<rect x="637.30" y="559.35" width="1.56" height="10.53" fill="#ffe6e6"/>
<rect x="637.30" y="569.82" width="1.56" height="10.53" fill="#ffb7b7"/>
<rect x="637.30" y="580.29" width="1.56" height="10.53" fill="#f5f5ff"/>
<rect x="637.30" y="590.76" width="1.56" height="10.53" fill="#fffdfd"/>
<rect x="637.30" y="601.23" width="1.56" height="10.53" fill="#ff7676"/>
<rect x="637.30" y="611.70" width="1.56" height="10.53" fill="#ffbbbb"/>
<rect x="637.30" y="622.17" width="1.56" height="10.53" fill="#ffb6b6"/>
<rect x="637.30" y="632.64" width="1.56" height="10.53" fill="#fff6f6"/>
<rect x="637.30" y="643.11" width="1.56" height="10.53" fill="#ffd0d0"/>
<rect x="637.30" y="653.58" width="1.56" height="10.53" fill="#ffe4e4"/>
<rect x="637.30" y="664.05" width="1.56" height="10.53" fill="#ffcdcd"/>
<rect x="637.30" y="674.52" width="1.56" height="10.53" fill="#ffe5e5"/>
<rect x="637.30" y="684.99" width="1.56" height="10.53" fill="#ffd7d7"/>
<rect x="638.80" y="507.00" width="2.06" height="10.53" fill="#eaeaff"/>
<rect x="638.80" y="517.47" width="2.06" height="10.53" fill="#efefff"/>
<rect x="638.80" y="527.94" width="2.06" height="10.53" fill="#fff0f0"/>
<rect x="638.80" y="538.41" width="2.06" height="10.53" fill="#ffefef"/>
<rect x="638.80" y="548.88" width="2.06" height="10.53" fill="#ffd9d9"/>
<rect x="638.80" y="559.35" width="2.06" height="10.53" fill="#ffb3b3"/>
<rect x="638.80" y="569.82" width="2.06" height="10.53" fill="#ffe9e9"/>
<rect x="638.80" y="580.29" width="2.06" height="10.53" fill="#ffdfdf"/>
<rect x="638.80" y="590.76" width="2.06" height="10.53" fill="#ffd9d9"/>
<rect x="638.80" y="601.23" width="2.06" height="10.53" fill="#ffbdbd"/>
<rect x="638.80" y="611.70" width="2.06" height="10.53" fill="#ffd3d3"/>
<rect x="638.80" y="622.17" width="2.06" height="10.53" fill="#ff9595"/>
<rect x="638.80" y="632.64" width="2.06" height="10.53" fill="#fffbfb"/>
<rect x="638.80" y="643.11" width="2.06" height="10.53" fill="#ffd9d9"/>
<rect x="638.80" y="653.58" width="2.06" height="10.53" fill="#ff9c9c"/>
<rect x="638.80" y="664.05" width="2.06" height="10.53" fill="#ffe3e3"/>
<rect x="638.80" y="674.52" width="2.06" height="10.53" fill="#ffcdcd"/>
<rect x="638.80" y="684.99" width="2.06" height="10.53" fill="#ffb2b2"/>
<rect x="640.80" y="507.00" width="2.06" height="10.53" fill="#e3e3ff"/>
<rect x="640.80" y="517.47" width="2.06" height="10.53" fill="#fefeff"/>
<rect x="640.80" y="527.94" width="2.06" height="10.53" fill="#ffc2c2"/>
<rect x="640.80" y="538.41" width="2.06" height="10.53" fill="#ffdcdc"/>
<rect x="640.80" y="548.88" width="2.06" height="10.53" fill="#ffbbbb"/>
<rect x="640.80" y="559.35" width="2.06" height="10.53" fill="#ffe8e8"/>
<rect x="640.80" y="569.82" width="2.06" height="10.53" fill="#ffeaea"/>
<rect x="640.80" y="580.29" width="2.06" height="10.53" fill="#ffd2d2"/>
<rect x="640.80" y="590.76" width="2.06" height="10.53" fill="#ffe6e6"/>
<rect x="640.80" y="601.23" width="2.06" height="10.53" fill="#ffb4b4"/>
<rect x="640.80" y="611.70" width="2.06" height="10.53" fill="#ffa8a8"/>
<rect x="640.80" y="622.17" width="2.06" height="10.53" fill="#ffb5b5"/>
<rect x="640.80" y="632.64" width="2.06" height="10.53" fill="#ffe8e8"/>
<rect x="640.80" y="643.11" width="2.06" height="10.53" fill="#ff9595"/>
<rect x="640.80" y="653.58" width="2.06" height="10.53" fill="#ffd7d7"/>
<rect x="640.80" y="664.05" width="2.06" height="10.53" fill="#ffeaea"/>
<rect x="640.80" y="674.52" width="2.06" height="10.53" fill="#ffd3d3"/>
<rect x="640.80" y="684.99" width="2.06" height="10.53" fill="#ffefef"/>
<rect x="642.80" y="507.00" width="2.06" height="10.53" fill="#f6f6ff"/>
<rect x="642.80" y="517.47" width="2.06" height="10.53" fill="#e0e0ff"/>
<rect x="642.80" y="527.94" width="2.06" height="10.53" fill="#ffdcdc"/>
<rect x="642.80" y="538.41" width="2.06" height="10.53" fill="#ffbdbd"/>
<rect x="642.80" y="548.88" width="2.06" height="10.53" fill="#ffbcbc"/>
<rect x="642.80" y="559.35" width="2.06" height="10.53" fill="#ffd3d3"/>
<rect x="642.80" y="569.82" width="2.06" height="10.53" fill="#ffdcdc"/>
<rect x="642.80" y="580.29" width="2.06" height="10.53" fill="#ffc3c3"/>
<rect x="642.80" y="590.76" width="2.06" height="10.53" fill="#ffd9d9"/>
<rect x="642.80" y="601.23" width="2.06" height="10.53" fill="#ffacac"/>
<rect x="642.80" y="611.70" width="2.06" height="10.53" fill="#ffbcbc"/>
<rect x="642.80" y="622.17" width="2.06" height="10.53" fill="#ffdada"/>
<rect x="642.80" y="632.64" width="2.06" height="10.53" fill="#ffc1c1"/>
<rect x="642.80" y="643.11" width="2.06" height="10.53" fill="#ffb3b3"/>
<rect x="642.80" y="653.58" width="2.06" height="10.53" fill="#ffdcdc"/>
<rect x="642.80" y="664.05" width="2.06" height="10.53" fill="#ffcaca"/>
<rect x="642.80" y="674.52" width="2.06" height="10.53" fill="#ffa4a4"/>
<rect x="642.80" y="684.99" width="2.06" height="10.53" fill="#ffbebe"/>
<rect x="644.80" y="507.00" width="0.26" height="10.53" fill="#ffbfbf"/>
<rect x="644.80" y="517.47" width="0.26" height="10.53" fill="#fff9f9"/>
<rect x="644.80" y="527.94" width="0.26" height="10.53" fill="#fcfcff"/>
<rect x="644.80" y="538.41" width="0.26" height="10.53" fill="#dbdbff"/>
<rect x="644.80" y="548.88" width="0.26" height="10.53" fill="#ffc8c8"/>
<rect x="644.80" y="559.35" width="0.26" height="10.53" fill="#eaeaff"/>
<rect x="644.80" y="569.82" width="0.26" height="10.53" fill="#ffe6e6"/>
<rect x="644.80" y="580.29" width="0.26" height="10.53" fill="#ffbbbb"/>
<rect x="644.80" y="590.76" width="0.26" height="10.53" fill="#d5d5ff"/>
<rect x="644.80" y="601.23" width="0.26" height="10.53" fill="#ffdbdb"/>
<rect x="644.80" y="611.70" width="0.26" height="10.53" fill="#ffe7e7"/>
<rect x="644.80" y="622.17" width="0.26" height="10.53" fill="#fcfcff"/>
<rect x="644.80" y="632.64" width="0.26" height="10.53" fill="#fff9f9"/>
<rect x="644.80" y="643.11" width="0.26" height="10.53" fill="#ffe8e8"/>
<rect x="644.80" y="653.58" width="0.26" height="10.53" fill="#fff1f1"/>
<rect x="644.80" y="664.05" width="0.26" height="10.53" fill="#ffb5b5"/>
<rect x="644.80" y="674.52" width="0.26" height="10.53" fill="#ffe0e0"/>
<rect x="644.80" y="684.99" width="0.26" height="10.53" fill="#ffecec"/>
<text x="647.00" y="516.84" font-family='"Liberation Sans", sans-serif' font-size="11.7" font-weight="normal" text-anchor="start" fill="#1a1a1a" >(C16+C18:1)/C2</text>
<text x="647.00" y="527.31" font-family='"Liberation Sans", sans-serif' font-size="11.7" font-weight="normal" text-anchor="start" fill="#1a1a1a" >C5-OH/C0</text>
<text x="647.00" y="537.77" font-family='"Liberation Sans", sans-serif' font-size="11.7" font-weight="normal" text-anchor="start" fill="#1a1a1a" >C2/C0</text>
<text x="647.00" y="548.25" font-family='"Liberation Sans", sans-serif' font-size="11.7" font-weight="normal" text-anchor="start" fill="#1a1a1a" >Pip</text>
<text x="647.00" y="558.72" font-family='"Liberation Sans", sans-serif' font-size="11.7" font-weight="normal" text-anchor="start" fill="#1a1a1a" >C5</text>
<text x="647.00" y="569.19" font-family='"Liberation Sans", sans-serif' font-size="11.7" font-weight="normal" text-anchor="start" fill="#1a1a1a" >(C0+C2+C3+C16+C18:1)/Cit</text>
<text x="647.00" y="579.66" font-family='"Liberation Sans", sans-serif' font-size="11.7" font-weight="normal" text-anchor="start" fill="#1a1a1a" >C0</text>
<text x="647.00" y="590.12" font-family='"Liberation Sans", sans-serif' font-size="11.7" font-weight="normal" text-anchor="start" fill="#1a1a1a" >C2</text>
<text x="647.00" y="600.60" font-family='"Liberation Sans", sans-serif' font-size="11.7" font-weight="normal" text-anchor="start" fill="#1a1a1a" >(Glu+Gly)/(Cit+Arg)</text>
<text x="647.00" y="611.07" font-family='"Liberation Sans", sans-serif' font-size="11.7" font-weight="normal" text-anchor="start" fill="#1a1a1a" >Gly</text>
<text x="647.00" y="621.53" font-family='"Liberation Sans", sans-serif' font-size="11.7" font-weight="normal" text-anchor="start" fill="#1a1a1a" >Glu</text>
<text x="647.00" y="632.00" font-family='"Liberation Sans", sans-serif' font-size="11.7" font-weight="normal" text-anchor="start" fill="#1a1a1a" >Trp</text>
<text x="647.00" y="642.48" font-family='"Liberation Sans", sans-serif' font-size="11.7" font-weight="normal" text-anchor="start" fill="#1a1a1a" >Ala</text>
<text x="647.00" y="652.95" font-family='"Liberation Sans", sans-serif' font-size="11.7" font-weight="normal" text-anchor="start" fill="#1a1a1a" >Thr</text>
<text x="647.00" y="663.42" font-family='"Liberation Sans", sans-serif' font-size="11.7" font-weight="normal" text-anchor="start" fill="#1a1a1a" >Orn</text>
<text x="647.00" y="673.88" font-family='"Liberation Sans", sans-serif' font-size="11.7" font-weight="normal" text-anchor="start" fill="#1a1a1a" >Orn/Cit</text>
<text x="647.00" y="684.36" font-family='"Liberation Sans", sans-serif' font-size="11.7" font-weight="normal" text-anchor="start" fill="#1a1a1a" >Asn</text>
<text x="647.00" y="694.83" font-family='"Liberation Sans", sans-serif' font-size="11.7" font-weight="normal" text-anchor="start" fill="#1a1a1a" >Phe</text>
<defs><linearGradient id="cb" x1="0" y1="0" x2="0" y2="1">
<stop offset="0" stop-color="#ff0000"/><stop offset="0.5" stop-color="#ffffff"/><stop offset="1" stop-color="#0000ff"/></linearGradient></defs>
<rect x="696.5" y="607.3" width="6.4" height="100" fill="url(#cb)"/>
<text x="705.60" y="615.50" font-family='"Liberation Sans", sans-serif' font-size="12.5" font-weight="normal" text-anchor="start" fill="#1a1a1a" >6</text>
<text x="705.60" y="631.10" font-family='"Liberation Sans", sans-serif' font-size="12.5" font-weight="normal" text-anchor="start" fill="#1a1a1a" >4</text>
<text x="705.60" y="646.70" font-family='"Liberation Sans", sans-serif' font-size="12.5" font-weight="normal" text-anchor="start" fill="#1a1a1a" >2</text>
<text x="705.60" y="662.30" font-family='"Liberation Sans", sans-serif' font-size="12.5" font-weight="normal" text-anchor="start" fill="#1a1a1a" >0</text>
<text x="705.60" y="677.90" font-family='"Liberation Sans", sans-serif' font-size="12.5" font-weight="normal" text-anchor="start" fill="#1a1a1a" >-2</text>
<text x="705.60" y="693.50" font-family='"Liberation Sans", sans-serif' font-size="12.5" font-weight="normal" text-anchor="start" fill="#1a1a1a" >-4</text>
<text x="705.60" y="709.10" font-family='"Liberation Sans", sans-serif' font-size="12.5" font-weight="normal" text-anchor="start" fill="#1a1a1a" >-6</text>
<rect x="461.3" y="700.5" width="98.6" height="6.3" fill="#22b14c"/>
<rect x="563.6" y="700.5" width="81.6" height="6.3" fill="#ee2222"/>
<rect x="475.6" y="712" width="7" height="7.3" fill="#22b14c"/>
<rect x="574.2" y="712" width="7.5" height="7.3" fill="#ee2222"/>
<text x="487.40" y="721.30" font-family='"Liberation Serif", serif' font-size="18.5" font-weight="bold" text-anchor="start" fill="#000" >Control</text>
<text x="587.50" y="721.30" font-family='"Liberation Serif", serif' font-size="18.5" font-weight="bold" text-anchor="start" fill="#000" >Gout</text>
<line x1="429.4" y1="513.3" x2="461.3" y2="513.3" stroke="#4a4a4a" stroke-width="1"/>
<line x1="429.4" y1="513.3" x2="429.4" y2="534.2" stroke="#4a4a4a" stroke-width="1"/>
<line x1="426.5" y1="523.5" x2="461.3" y2="523.5" stroke="#4a4a4a" stroke-width="1"/>
<line x1="426.5" y1="534.2" x2="429.4" y2="534.2" stroke="#4a4a4a" stroke-width="1"/>
<line x1="426.5" y1="523.5" x2="426.5" y2="544.6" stroke="#4a4a4a" stroke-width="1"/>
<line x1="426.5" y1="544.6" x2="432.7" y2="544.6" stroke="#4a4a4a" stroke-width="1"/>
<line x1="432.7" y1="533.9" x2="432.7" y2="555.9" stroke="#4a4a4a" stroke-width="1"/>
<line x1="432.7" y1="533.9" x2="461.3" y2="533.9" stroke="#4a4a4a" stroke-width="1"/>
<line x1="432.7" y1="555.9" x2="436.3" y2="555.9" stroke="#4a4a4a" stroke-width="1"/>
<line x1="436.3" y1="544.3" x2="436.3" y2="580.6" stroke="#4a4a4a" stroke-width="1"/>
<line x1="436.3" y1="544.3" x2="461.3" y2="544.3" stroke="#4a4a4a" stroke-width="1"/>
<line x1="436.8" y1="555.0" x2="461.3" y2="555.0" stroke="#4a4a4a" stroke-width="1"/>
<line x1="436.3" y1="580.6" x2="441.3" y2="580.6" stroke="#4a4a4a" stroke-width="1"/>
<line x1="441.3" y1="565.4" x2="441.3" y2="665" stroke="#4a4a4a" stroke-width="1"/>
<line x1="441.3" y1="565.4" x2="461.3" y2="565.4" stroke="#4a4a4a" stroke-width="1"/>
<line x1="439.9" y1="575.5" x2="461.3" y2="575.5" stroke="#4a4a4a" stroke-width="1"/>
<line x1="439.9" y1="575.5" x2="439.9" y2="646.7" stroke="#4a4a4a" stroke-width="1"/>
<line x1="439.6" y1="586.3" x2="461.3" y2="586.3" stroke="#4a4a4a" stroke-width="1"/>
<line x1="439.9" y1="596.1" x2="461.3" y2="596.1" stroke="#4a4a4a" stroke-width="1"/>
<line x1="443.4" y1="607.4" x2="461.3" y2="607.4" stroke="#4a4a4a" stroke-width="1"/>
<line x1="443.4" y1="607.4" x2="443.4" y2="638.3" stroke="#4a4a4a" stroke-width="1"/>
<line x1="443.4" y1="618.1" x2="461.3" y2="618.1" stroke="#4a4a4a" stroke-width="1"/>
<line x1="441.3" y1="617.2" x2="443.4" y2="617.2" stroke="#4a4a4a" stroke-width="1"/>
<line x1="446.4" y1="628.5" x2="446.4" y2="649.0" stroke="#4a4a4a" stroke-width="1"/>
<line x1="446.4" y1="628.5" x2="461.3" y2="628.5" stroke="#4a4a4a" stroke-width="1"/>
<line x1="443.4" y1="638.6" x2="461.3" y2="638.6" stroke="#4a4a4a" stroke-width="1"/>
<line x1="443.4" y1="649.3" x2="461.3" y2="649.3" stroke="#4a4a4a" stroke-width="1"/>
<line x1="444.3" y1="638.3" x2="444.3" y2="657.4" stroke="#4a4a4a" stroke-width="1"/>
<line x1="442.8" y1="657.4" x2="444.3" y2="657.4" stroke="#4a4a4a" stroke-width="1"/>
<line x1="442.8" y1="659.8" x2="461.3" y2="659.8" stroke="#4a4a4a" stroke-width="1"/>
<line x1="440.75" y1="645" x2="440.75" y2="686.1" stroke="#4a4a4a" stroke-width="1"/>
<line x1="442.8" y1="649.5" x2="442.8" y2="670.6" stroke="#4a4a4a" stroke-width="1"/>
<line x1="442.8" y1="670.6" x2="461.3" y2="670.6" stroke="#4a4a4a" stroke-width="1"/>
<line x1="437.4" y1="681.3" x2="461.3" y2="681.3" stroke="#4a4a4a" stroke-width="1"/>
<line x1="437.4" y1="686.1" x2="440.75" y2="686.1" stroke="#4a4a4a" stroke-width="1"/>
<line x1="437.4" y1="681.3" x2="437.4" y2="691.4" stroke="#4a4a4a" stroke-width="1"/>
<line x1="437.4" y1="691.4" x2="461.3" y2="691.4" stroke="#4a4a4a" stroke-width="1"/>
<text x="0.50" y="755.80" font-family='"Liberation Serif", serif' font-size="25" font-weight="bold" text-anchor="start" fill="#000" >G</text>
<defs><clipPath id="gclip"><rect x="75.8" y="763.8" width="172.89999999999998" height="166.5"/></clipPath></defs>
<line x1="75.8" y1="875.7" x2="248.7" y2="857.1" stroke="#222" stroke-width="0.9"  clip-path="url(#gclip)"/>
<line x1="75.8" y1="868.3" x2="248.7" y2="849.0" stroke="#222" stroke-width="0.9" stroke-dasharray="3,2" clip-path="url(#gclip)"/>
<line x1="75.8" y1="885.0" x2="248.7" y2="865.3" stroke="#222" stroke-width="0.9" stroke-dasharray="3,2" clip-path="url(#gclip)"/>
<rect x="75.8" y="763.8" width="172.89999999999998" height="166.5" fill="none" stroke="#444" stroke-width="1"/>
<line x1="83.7" y1="930.3" x2="83.7" y2="937.5999999999999" stroke="#444" stroke-width="1"/>
<text x="82.70" y="958.20" font-family='"Liberation Sans", sans-serif' font-size="19.5" font-weight="normal" text-anchor="middle" fill="#111" >-2</text>
<line x1="123.3" y1="930.3" x2="123.3" y2="937.5999999999999" stroke="#444" stroke-width="1"/>
<text x="122.30" y="958.20" font-family='"Liberation Sans", sans-serif' font-size="19.5" font-weight="normal" text-anchor="middle" fill="#111" >-1</text>
<line x1="162.9" y1="930.3" x2="162.9" y2="937.5999999999999" stroke="#444" stroke-width="1"/>
<text x="162.90" y="958.20" font-family='"Liberation Sans", sans-serif' font-size="19.5" font-weight="normal" text-anchor="middle" fill="#111" >0</text>
<line x1="202.5" y1="930.3" x2="202.5" y2="937.5999999999999" stroke="#444" stroke-width="1"/>
<text x="202.50" y="958.20" font-family='"Liberation Sans", sans-serif' font-size="19.5" font-weight="normal" text-anchor="middle" fill="#111" >1</text>
<line x1="242.1" y1="930.3" x2="242.1" y2="937.5999999999999" stroke="#444" stroke-width="1"/>
<text x="242.10" y="958.20" font-family='"Liberation Sans", sans-serif' font-size="19.5" font-weight="normal" text-anchor="middle" fill="#111" >2</text>
<line x1="67.8" y1="779.6" x2="75.8" y2="779.6" stroke="#444" stroke-width="1"/>
<line x1="67.8" y1="801.3" x2="75.8" y2="801.3" stroke="#444" stroke-width="1"/>
<line x1="67.8" y1="823.0" x2="75.8" y2="823.0" stroke="#444" stroke-width="1"/>
<line x1="67.8" y1="844.7" x2="75.8" y2="844.7" stroke="#444" stroke-width="1"/>
<line x1="67.8" y1="866.4" x2="75.8" y2="866.4" stroke="#444" stroke-width="1"/>
<line x1="67.8" y1="888.1" x2="75.8" y2="888.1" stroke="#444" stroke-width="1"/>
<line x1="67.8" y1="909.8" x2="75.8" y2="909.8" stroke="#444" stroke-width="1"/>
<text transform="translate(58.3,779.6) rotate(-90)" font-family='"Liberation Sans", sans-serif' font-size="19.5" text-anchor="middle" fill="#111">20</text>
<text transform="translate(58.3,823.0) rotate(-90)" font-family='"Liberation Sans", sans-serif' font-size="19.5" text-anchor="middle" fill="#111">10</text>
<text transform="translate(58.3,866.4) rotate(-90)" font-family='"Liberation Sans", sans-serif' font-size="19.5" text-anchor="middle" fill="#111">0</text>
<text transform="translate(58.3,909.8) rotate(-90)" font-family='"Liberation Sans", sans-serif' font-size="19.5" text-anchor="middle" fill="#111">-10</text>
<text x="92.6" y="988.3" textLength="138.5" lengthAdjust="spacingAndGlyphs" font-family='"Liberation Sans", sans-serif' font-size="19.5" fill="#111">expected score</text>
<text transform="translate(26.8,916.6) rotate(-90)" textLength="141" lengthAdjust="spacingAndGlyphs" font-family='"Liberation Sans", sans-serif' font-size="19.5" fill="#111">observed score</text>
<circle cx="81.6" cy="923.8" r="2.9" fill="#61d04f"/>
<circle cx="92.7" cy="908.2" r="2.9" fill="#61d04f"/>
<circle cx="100.2" cy="905.9" r="2.9" fill="#61d04f"/>
<circle cx="105.5" cy="902.9" r="2.9" fill="#61d04f"/>
<circle cx="109.5" cy="896.6" r="2.9" fill="#61d04f"/>
<circle cx="112.5" cy="890.1" r="2.9" fill="#61d04f"/>
<circle cx="116" cy="889.2" r="2.9" fill="#61d04f"/>
<circle cx="119.2" cy="885.5" r="2.9" fill="#61d04f"/>
<circle cx="122.9" cy="884.3" r="2.9" fill="#61d04f"/>
<circle cx="125.7" cy="880.3" r="2.9" fill="#61d04f"/>
<circle cx="129.2" cy="878.5" r="2.9" fill="#61d04f"/>
<circle cx="165.2" cy="857.1" r="2.9" fill="#df536b"/>
<circle cx="168.7" cy="853.7" r="2.9" fill="#df536b"/>
<circle cx="170.5" cy="851" r="2.9" fill="#df536b"/>
<circle cx="172.1" cy="849" r="2.9" fill="#df536b"/>
<circle cx="174.5" cy="847" r="2.9" fill="#df536b"/>
<circle cx="176.8" cy="845.5" r="2.9" fill="#df536b"/>
<circle cx="178.5" cy="843.5" r="2.9" fill="#df536b"/>
<circle cx="180.3" cy="842" r="2.9" fill="#df536b"/>
<circle cx="183.7" cy="839" r="2.9" fill="#df536b"/>
<circle cx="186" cy="837.5" r="2.9" fill="#df536b"/>
<circle cx="188.4" cy="836.2" r="2.9" fill="#df536b"/>
<circle cx="190.7" cy="831.1" r="2.9" fill="#df536b"/>
<circle cx="193" cy="828" r="2.9" fill="#df536b"/>
<circle cx="195.3" cy="825.8" r="2.9" fill="#df536b"/>
<circle cx="198.8" cy="822.8" r="2.9" fill="#df536b"/>
<circle cx="202.3" cy="819.5" r="2.9" fill="#df536b"/>
<circle cx="204.6" cy="807.9" r="2.9" fill="#df536b"/>
<circle cx="206.5" cy="805.5" r="2.9" fill="#df536b"/>
<circle cx="208.1" cy="803.7" r="2.9" fill="#df536b"/>
<circle cx="212.8" cy="801" r="2.9" fill="#df536b"/>
<circle cx="217.4" cy="797.9" r="2.9" fill="#df536b"/>
<circle cx="222.7" cy="791.7" r="2.9" fill="#df536b"/>
<circle cx="230.6" cy="784" r="2.9" fill="#df536b"/>
<circle cx="241.8" cy="770.1" r="2.9" fill="#df536b"/>
<circle cx="130.4" cy="877.3" r="2.9" fill="#000"/>
<circle cx="131.2" cy="876.8" r="2.9" fill="#000"/>
<circle cx="131.9" cy="876.4" r="2.9" fill="#000"/>
<circle cx="132.7" cy="875.9" r="2.9" fill="#000"/>
<circle cx="133.5" cy="875.4" r="2.9" fill="#000"/>
<circle cx="134.2" cy="875.0" r="2.9" fill="#000"/>
<circle cx="135.0" cy="874.5" r="2.9" fill="#000"/>
<circle cx="135.8" cy="874.1" r="2.9" fill="#000"/>
<circle cx="136.5" cy="873.7" r="2.9" fill="#000"/>
<circle cx="137.2" cy="873.2" r="2.9" fill="#000"/>
<circle cx="138.0" cy="872.8" r="2.9" fill="#000"/>
<circle cx="138.8" cy="872.4" r="2.9" fill="#000"/>
<circle cx="139.5" cy="872.0" r="2.9" fill="#000"/>
<circle cx="140.2" cy="871.7" r="2.9" fill="#000"/>
<circle cx="141.0" cy="871.3" r="2.9" fill="#000"/>
<circle cx="141.8" cy="871.0" r="2.9" fill="#000"/>
<circle cx="142.5" cy="870.7" r="2.9" fill="#000"/>
<circle cx="143.2" cy="870.3" r="2.9" fill="#000"/>
<circle cx="144.0" cy="870.0" r="2.9" fill="#000"/>
<circle cx="144.8" cy="869.7" r="2.9" fill="#000"/>
<circle cx="145.5" cy="869.4" r="2.9" fill="#000"/>
<circle cx="146.2" cy="869.1" r="2.9" fill="#000"/>
<circle cx="147.0" cy="868.9" r="2.9" fill="#000"/>
<circle cx="147.8" cy="868.6" r="2.9" fill="#000"/>
<circle cx="148.5" cy="868.3" r="2.9" fill="#000"/>
<circle cx="149.2" cy="868.0" r="2.9" fill="#000"/>
<circle cx="150.0" cy="867.7" r="2.9" fill="#000"/>
<circle cx="150.8" cy="867.4" r="2.9" fill="#000"/>
<circle cx="151.5" cy="867.1" r="2.9" fill="#000"/>
<circle cx="152.2" cy="866.8" r="2.9" fill="#000"/>
<circle cx="153.0" cy="866.5" r="2.9" fill="#000"/>
<circle cx="153.7" cy="866.2" r="2.9" fill="#000"/>
<circle cx="154.3" cy="866.0" r="2.9" fill="#000"/>
<circle cx="155.0" cy="865.8" r="2.9" fill="#000"/>
<circle cx="155.7" cy="865.5" r="2.9" fill="#000"/>
<circle cx="156.3" cy="865.2" r="2.9" fill="#000"/>
<circle cx="157.0" cy="865.0" r="2.9" fill="#000"/>
<circle cx="157.6" cy="864.6" r="2.9" fill="#000"/>
<circle cx="158.2" cy="864.2" r="2.9" fill="#000"/>
<circle cx="158.8" cy="863.8" r="2.9" fill="#000"/>
<circle cx="159.3" cy="863.3" r="2.9" fill="#000"/>
<circle cx="159.9" cy="862.9" r="2.9" fill="#000"/>
<circle cx="160.5" cy="862.5" r="2.9" fill="#000"/>
<circle cx="160.9" cy="862.2" r="2.9" fill="#000"/>
<circle cx="161.3" cy="861.8" r="2.9" fill="#000"/>
<circle cx="161.8" cy="861.5" r="2.9" fill="#000"/>
<circle cx="162.2" cy="861.2" r="2.9" fill="#000"/>
<circle cx="162.6" cy="860.8" r="2.9" fill="#000"/>
<circle cx="163.0" cy="860.5" r="2.9" fill="#000"/>
<circle cx="163.2" cy="860.2" r="2.9" fill="#000"/>
<circle cx="163.5" cy="859.8" r="2.9" fill="#000"/>
<circle cx="163.8" cy="859.5" r="2.9" fill="#000"/>
<circle cx="164.0" cy="859.2" r="2.9" fill="#000"/>
<circle cx="164.2" cy="858.8" r="2.9" fill="#000"/>
<circle cx="164.5" cy="858.5" r="2.9" fill="#000"/>
<text x="400.50" y="758.00" font-family='"Liberation Serif", serif' font-size="25" font-weight="bold" text-anchor="start" fill="#000" >H</text>
<line x1="465.1" y1="744.4" x2="465.1" y2="961.0" stroke="#ebebeb" stroke-width="1"/>
<line x1="490.1" y1="744.4" x2="490.1" y2="961.0" stroke="#f4f4f4" stroke-width="1"/>
<line x1="515.1" y1="744.4" x2="515.1" y2="961.0" stroke="#ebebeb" stroke-width="1"/>
<line x1="540.1" y1="744.4" x2="540.1" y2="961.0" stroke="#f4f4f4" stroke-width="1"/>
<line x1="565.1" y1="744.4" x2="565.1" y2="961.0" stroke="#ebebeb" stroke-width="1"/>
<line x1="590.1" y1="744.4" x2="590.1" y2="961.0" stroke="#f4f4f4" stroke-width="1"/>
<line x1="615.1" y1="744.4" x2="615.1" y2="961.0" stroke="#ebebeb" stroke-width="1"/>
<line x1="640.1" y1="744.4" x2="640.1" y2="961.0" stroke="#f4f4f4" stroke-width="1"/>
<line x1="665.1" y1="744.4" x2="665.1" y2="961.0" stroke="#ebebeb" stroke-width="1"/>
<line x1="460.6" y1="952.8" x2="684.2" y2="952.8" stroke="#ebebeb" stroke-width="1"/>
<line x1="460.6" y1="919.9" x2="684.2" y2="919.9" stroke="#f4f4f4" stroke-width="1"/>
<line x1="460.6" y1="887.0" x2="684.2" y2="887.0" stroke="#ebebeb" stroke-width="1"/>
<line x1="460.6" y1="854.1" x2="684.2" y2="854.1" stroke="#f4f4f4" stroke-width="1"/>
<line x1="460.6" y1="821.2" x2="684.2" y2="821.2" stroke="#ebebeb" stroke-width="1"/>
<line x1="460.6" y1="788.3" x2="684.2" y2="788.3" stroke="#f4f4f4" stroke-width="1"/>
<line x1="460.6" y1="755.4" x2="684.2" y2="755.4" stroke="#ebebeb" stroke-width="1"/>
<rect x="460.6" y="744.4" width="223.60000000000002" height="216.60000000000002" fill="none" stroke="#6a6a6a" stroke-width="1.3"/>
<line x1="460.6" y1="744.4" x2="460.6" y2="961.0" stroke="#222" stroke-width="1.3"/>
<line x1="460.6" y1="961.0" x2="684.2" y2="961.0" stroke="#222" stroke-width="1.3"/>
<line x1="457.6" y1="952.8" x2="460.6" y2="952.8" stroke="#333" stroke-width="1"/>
<text x="455.60" y="959.10" font-family='"Liberation Sans", sans-serif' font-size="17.5" font-weight="normal" text-anchor="end" fill="#111" >0</text>
<line x1="457.6" y1="887.0" x2="460.6" y2="887.0" stroke="#333" stroke-width="1"/>
<text x="455.60" y="893.30" font-family='"Liberation Sans", sans-serif' font-size="17.5" font-weight="normal" text-anchor="end" fill="#111" >1</text>
<line x1="457.6" y1="821.2" x2="460.6" y2="821.2" stroke="#333" stroke-width="1"/>
<text x="455.60" y="827.50" font-family='"Liberation Sans", sans-serif' font-size="17.5" font-weight="normal" text-anchor="end" fill="#111" >2</text>
<line x1="457.6" y1="755.4" x2="460.6" y2="755.4" stroke="#333" stroke-width="1"/>
<text x="455.60" y="761.70" font-family='"Liberation Sans", sans-serif' font-size="17.5" font-weight="normal" text-anchor="end" fill="#111" >3</text>
<line x1="465.1" y1="961.0" x2="465.1" y2="964.0" stroke="#333" stroke-width="1"/>
<text x="465.10" y="978.50" font-family='"Liberation Sans", sans-serif' font-size="17.5" font-weight="normal" text-anchor="middle" fill="#111" >0.00</text>
<line x1="515.1" y1="961.0" x2="515.1" y2="964.0" stroke="#333" stroke-width="1"/>
<text x="515.10" y="978.50" font-family='"Liberation Sans", sans-serif' font-size="17.5" font-weight="normal" text-anchor="middle" fill="#111" >0.05</text>
<line x1="565.1" y1="961.0" x2="565.1" y2="964.0" stroke="#333" stroke-width="1"/>
<text x="565.10" y="978.50" font-family='"Liberation Sans", sans-serif' font-size="17.5" font-weight="normal" text-anchor="middle" fill="#111" >0.10</text>
<line x1="615.1" y1="961.0" x2="615.1" y2="964.0" stroke="#333" stroke-width="1"/>
<text x="615.10" y="978.50" font-family='"Liberation Sans", sans-serif' font-size="17.5" font-weight="normal" text-anchor="middle" fill="#111" >0.15</text>
<line x1="665.1" y1="961.0" x2="665.1" y2="964.0" stroke="#333" stroke-width="1"/>
<text x="665.10" y="978.50" font-family='"Liberation Sans", sans-serif' font-size="17.5" font-weight="normal" text-anchor="middle" fill="#111" >0.20</text>
<text x="513.2" y="1004.5" textLength="122.7" lengthAdjust="spacingAndGlyphs" font-family='"Liberation Serif", serif' font-size="19" font-weight="bold">Pathway Impact</text>
<text transform="translate(427.5,887.3) rotate(-90)" textLength="75.4" lengthAdjust="spacingAndGlyphs" font-family='"Liberation Serif", serif' font-size="18" font-weight="bold">-Log10(p)</text>
<circle cx="470.3" cy="935.8" r="4.2" fill="#f7ec00"/>
<circle cx="473.7" cy="928" r="4.6" fill="#f2e200"/>
<circle cx="502.5" cy="933.1" r="7.2" fill="#f6e600"/>
<circle cx="492.3" cy="931.4" r="6" fill="#f0da00"/>
<circle cx="487.3" cy="925.6" r="5.2" fill="#eacc00"/>
<circle cx="551.6" cy="915.1" r="8.6" fill="#e8c600"/>
<circle cx="487.9" cy="914.5" r="6.5" fill="#e2b400"/>
<circle cx="494.7" cy="915.1" r="6.5" fill="#e2b400"/>
<circle cx="523.8" cy="908.4" r="7.6" fill="#dca400"/>
<circle cx="477.8" cy="901.6" r="5.6" fill="#d49600"/>
<circle cx="494" cy="901" r="6.2" fill="#d49200"/>
<circle cx="515.4" cy="898.2" r="7.2" fill="#cc8800"/>
<circle cx="499.1" cy="877.2" r="6.6" fill="#cc7e00"/>
<circle cx="500.1" cy="883" r="6.6" fill="#c87800"/>
<circle cx="520.5" cy="858.2" r="7.5" fill="#c06400"/>
<circle cx="586.3" cy="853.9" r="9.6" fill="#b85200"/>
<circle cx="537.2" cy="841" r="8" fill="#b44800"/>
<circle cx="523.8" cy="834.6" r="7.8" fill="#ae3c00"/>
<circle cx="536" cy="813.3" r="8.2" fill="#a01e00"/>
<circle cx="648.8" cy="823" r="11.3" fill="#9c2400"/>
<circle cx="673.3" cy="777" r="11.3" fill="#8b0000"/>
<line x1="531.4" y1="797.3" x2="531.4" y2="806.4" stroke="#000" stroke-width="2"/>
<line x1="509.6" y1="821.9" x2="517.8" y2="829.1" stroke="#000" stroke-width="2"/>
<line x1="506.8" y1="856.4" x2="513.2" y2="861" stroke="#000" stroke-width="2"/>
<line x1="543.6" y1="847" x2="543.6" y2="857.3" stroke="#000" stroke-width="2"/>
<line x1="660.5" y1="759.1" x2="668" y2="765.3" stroke="#000" stroke-width="2"/>
<line x1="642.6" y1="806.2" x2="649.2" y2="811.3" stroke="#000" stroke-width="2"/>
<line x1="595.5" y1="857.9" x2="603.6" y2="862.6" stroke="#000" stroke-width="2"/>
<text x="509.60" y="781.80" font-family='"Liberation Serif", serif' font-size="12.2" font-weight="bold" text-anchor="start" fill="#000" >Aspartate</text>
<text x="509.60" y="794.60" font-family='"Liberation Serif", serif' font-size="12.2" font-weight="bold" text-anchor="start" fill="#000" >Metabolism</text>
<text x="471.40" y="808.20" font-family='"Liberation Serif", serif' font-size="12.2" font-weight="bold" text-anchor="start" fill="#000" >Carnitine</text>
<text x="471.40" y="821.00" font-family='"Liberation Serif", serif' font-size="12.2" font-weight="bold" text-anchor="start" fill="#000" >Synthesis</text>
<text x="462.30" y="840.00" font-family='"Liberation Serif", serif' font-size="12.2" font-weight="bold" text-anchor="start" fill="#000" >Ammonia</text>
<text x="462.30" y="852.80" font-family='"Liberation Serif", serif' font-size="12.2" font-weight="bold" text-anchor="start" fill="#000" >Recycling</text>
<text x="528.70" y="866.40" font-family='"Liberation Serif", serif' font-size="12.2" font-weight="bold" text-anchor="start" fill="#000" >Arginine</text>
<text x="528.70" y="879.20" font-family='"Liberation Serif", serif' font-size="12.2" font-weight="bold" text-anchor="start" fill="#000" >and Proline</text>
<text x="528.70" y="892.80" font-family='"Liberation Serif", serif' font-size="12.2" font-weight="bold" text-anchor="start" fill="#000" >Metabolism</text>
<text x="567.90" y="755.40" font-family='"Liberation Serif", serif' font-size="12.2" font-weight="bold" text-anchor="start" fill="#000" >Oxidation of Branched</text>
<text x="567.90" y="768.50" font-family='"Liberation Serif", serif' font-size="12.2" font-weight="bold" text-anchor="start" fill="#000" >Chain Fatty Acids</text>
<text x="578.60" y="787.30" font-family='"Liberation Serif", serif' font-size="12.2" font-weight="bold" text-anchor="start" fill="#000" >Beta Oxidation of</text>
<text x="578.60" y="800.50" font-family='"Liberation Serif", serif' font-size="12.2" font-weight="bold" text-anchor="start" fill="#000" >Very Long Chain</text>
<text x="578.60" y="813.10" font-family='"Liberation Serif", serif' font-size="12.2" font-weight="bold" text-anchor="start" fill="#000" >Fatty Acids</text>
<text x="607.40" y="868.30" font-family='"Liberation Serif", serif' font-size="12.2" font-weight="bold" text-anchor="start" fill="#000" >Urea Cycle</text>
</svg></body></html>
